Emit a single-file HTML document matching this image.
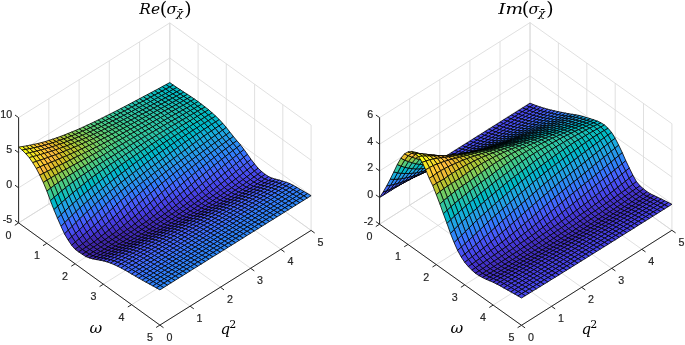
<!DOCTYPE html>
<html><head><meta charset="utf-8"><title>sigma chi</title>
<style>html,body{margin:0;padding:0;background:#fff}svg{display:block}</style></head>
<body><svg width="685" height="345" viewBox="0 0 685 345">
<rect width="685" height="345" fill="#fff"/>
<path d="M18.6 222.9L169.8 128.2 M18.6 222.9L159.9 325.1 M46.9 243.3L198.1 148.6 M48.8 204.0L190.1 306.2 M75.1 263.8L226.3 169.1 M79.1 185.0L220.4 287.2 M103.4 284.2L254.6 189.5 M109.3 166.1L250.6 268.3 M131.6 304.7L282.8 210.0 M139.6 147.1L280.9 249.3 M159.9 325.1L311.1 230.4 M169.8 128.2L311.1 230.4 M18.6 222.9L18.6 117.6 M169.8 128.2L169.8 22.9 M48.8 204.0L48.8 98.7 M198.1 148.6L198.1 43.3 M79.1 185.0L79.1 79.7 M226.3 169.1L226.3 63.8 M109.3 166.1L109.3 60.8 M254.6 189.5L254.6 84.2 M139.6 147.1L139.6 41.8 M282.8 210.0L282.8 104.7 M169.8 128.2L169.8 22.9 M311.1 230.4L311.1 125.1 M18.6 222.9L169.8 128.2 M169.8 128.2L311.1 230.4 M18.6 187.8L169.8 93.1 M169.8 93.1L311.1 195.3 M18.6 152.7L169.8 58.0 M169.8 58.0L311.1 160.2 M18.6 117.6L169.8 22.9 M169.8 22.9L311.1 125.1" fill="none" stroke="#d8d8d8" stroke-width="0.8"/>
<g stroke="#000" stroke-width="0.8" stroke-linejoin="round">
<path d="M166.0 84.6L169.8 82.6L173.3 85.1L169.6 87.1z" fill="#01b8ca"/>
<path d="M169.6 87.1L173.3 85.1L176.9 87.5L173.1 89.5z" fill="#02bac3"/>
<path d="M162.2 86.6L166.0 84.6L169.6 87.1L165.8 89.1z" fill="#02bac3"/>
<path d="M173.1 89.5L176.9 87.5L180.4 89.8L176.6 91.9z" fill="#02bac3"/>
<path d="M165.8 89.1L169.6 87.1L173.1 89.5L169.3 91.6z" fill="#02bac3"/>
<path d="M158.5 88.7L162.2 86.6L165.8 89.1L162.0 91.2z" fill="#02bac3"/>
<path d="M176.6 91.9L180.4 89.8L183.9 92.1L180.2 94.1z" fill="#02bac3"/>
<path d="M169.3 91.6L173.1 89.5L176.6 91.9L172.8 93.9z" fill="#02bac3"/>
<path d="M162.0 91.2L165.8 89.1L169.3 91.6L165.5 93.6z" fill="#02bac3"/>
<path d="M154.7 90.7L158.5 88.7L162.0 91.2L158.2 93.2z" fill="#0bbdbd"/>
<path d="M180.2 94.1L183.9 92.1L187.5 94.4L183.7 96.4z" fill="#02bac3"/>
<path d="M172.8 93.9L176.6 91.9L180.2 94.1L176.4 96.2z" fill="#02bac3"/>
<path d="M165.5 93.6L169.3 91.6L172.8 93.9L169.1 95.9z" fill="#02bac3"/>
<path d="M158.2 93.2L162.0 91.2L165.5 93.6L161.7 95.6z" fill="#0bbdbd"/>
<path d="M150.9 92.7L154.7 90.7L158.2 93.2L154.4 95.2z" fill="#0bbdbd"/>
<path d="M183.7 96.4L187.5 94.4L191.0 96.7L187.2 98.7z" fill="#0bbdbd"/>
<path d="M176.4 96.2L180.2 94.1L183.7 96.4L179.9 98.4z" fill="#0bbdbd"/>
<path d="M169.1 95.9L172.8 93.9L176.4 96.2L172.6 98.2z" fill="#0bbdbd"/>
<path d="M161.7 95.6L165.5 93.6L169.1 95.9L165.3 97.9z" fill="#0bbdbd"/>
<path d="M154.4 95.2L158.2 93.2L161.7 95.6L158.0 97.6z" fill="#0bbdbd"/>
<path d="M147.1 94.7L150.9 92.7L154.4 95.2L150.7 97.2z" fill="#0bbdbd"/>
<path d="M187.2 98.7L191.0 96.7L194.5 99.1L190.7 101.1z" fill="#0bbdbd"/>
<path d="M179.9 98.4L183.7 96.4L187.2 98.7L183.4 100.8z" fill="#0bbdbd"/>
<path d="M172.6 98.2L176.4 96.2L179.9 98.4L176.1 100.5z" fill="#0bbdbd"/>
<path d="M165.3 97.9L169.1 95.9L172.6 98.2L168.8 100.2z" fill="#0bbdbd"/>
<path d="M158.0 97.6L161.7 95.6L165.3 97.9L161.5 99.9z" fill="#0bbdbd"/>
<path d="M150.7 97.2L154.4 95.2L158.0 97.6L154.2 99.6z" fill="#0bbdbd"/>
<path d="M143.3 96.7L147.1 94.7L150.7 97.2L146.9 99.2z" fill="#19bfb6"/>
<path d="M190.7 101.1L194.5 99.1L198.1 101.6L194.3 103.7z" fill="#0bbdbd"/>
<path d="M183.4 100.8L187.2 98.7L190.7 101.1L187.0 103.2z" fill="#0bbdbd"/>
<path d="M176.1 100.5L179.9 98.4L183.4 100.8L179.7 102.8z" fill="#0bbdbd"/>
<path d="M168.8 100.2L172.6 98.2L176.1 100.5L172.3 102.5z" fill="#0bbdbd"/>
<path d="M161.5 99.9L165.3 97.9L168.8 100.2L165.0 102.2z" fill="#0bbdbd"/>
<path d="M154.2 99.6L158.0 97.6L161.5 99.9L157.7 101.9z" fill="#19bfb6"/>
<path d="M146.9 99.2L150.7 97.2L154.2 99.6L150.4 101.6z" fill="#19bfb6"/>
<path d="M139.6 98.7L143.3 96.7L146.9 99.2L143.1 101.2z" fill="#19bfb6"/>
<path d="M194.3 103.7L198.1 101.6L201.6 104.3L197.8 106.4z" fill="#0bbdbd"/>
<path d="M187.0 103.2L190.7 101.1L194.3 103.7L190.5 105.8z" fill="#0bbdbd"/>
<path d="M179.7 102.8L183.4 100.8L187.0 103.2L183.2 105.3z" fill="#0bbdbd"/>
<path d="M172.3 102.5L176.1 100.5L179.7 102.8L175.9 104.8z" fill="#19bfb6"/>
<path d="M165.0 102.2L168.8 100.2L172.3 102.5L168.6 104.5z" fill="#19bfb6"/>
<path d="M157.7 101.9L161.5 99.9L165.0 102.2L161.2 104.2z" fill="#19bfb6"/>
<path d="M150.4 101.6L154.2 99.6L157.7 101.9L153.9 103.9z" fill="#19bfb6"/>
<path d="M143.1 101.2L146.9 99.2L150.4 101.6L146.6 103.6z" fill="#19bfb6"/>
<path d="M135.8 100.7L139.6 98.7L143.1 101.2L139.3 103.2z" fill="#24c1ae"/>
<path d="M197.8 106.4L201.6 104.3L205.1 107.0L201.3 109.1z" fill="#0bbdbd"/>
<path d="M190.5 105.8L194.3 103.7L197.8 106.4L194.0 108.5z" fill="#0bbdbd"/>
<path d="M183.2 105.3L187.0 103.2L190.5 105.8L186.7 107.9z" fill="#19bfb6"/>
<path d="M175.9 104.8L179.7 102.8L183.2 105.3L179.4 107.3z" fill="#19bfb6"/>
<path d="M168.6 104.5L172.3 102.5L175.9 104.8L172.1 106.9z" fill="#19bfb6"/>
<path d="M161.2 104.2L165.0 102.2L168.6 104.5L164.8 106.5z" fill="#19bfb6"/>
<path d="M153.9 103.9L157.7 101.9L161.2 104.2L157.5 106.2z" fill="#19bfb6"/>
<path d="M146.6 103.6L150.4 101.6L153.9 103.9L150.2 105.9z" fill="#19bfb6"/>
<path d="M139.3 103.2L143.1 101.2L146.6 103.6L142.8 105.6z" fill="#24c1ae"/>
<path d="M132.0 102.7L135.8 100.7L139.3 103.2L135.5 105.2z" fill="#24c1ae"/>
<path d="M201.3 109.1L205.1 107.0L208.7 109.8L204.9 112.0z" fill="#0bbdbd"/>
<path d="M194.0 108.5L197.8 106.4L201.3 109.1L197.6 111.2z" fill="#0bbdbd"/>
<path d="M186.7 107.9L190.5 105.8L194.0 108.5L190.3 110.6z" fill="#0bbdbd"/>
<path d="M179.4 107.3L183.2 105.3L186.7 107.9L182.9 110.0z" fill="#19bfb6"/>
<path d="M172.1 106.9L175.9 104.8L179.4 107.3L175.6 109.4z" fill="#19bfb6"/>
<path d="M164.8 106.5L168.6 104.5L172.1 106.9L168.3 108.9z" fill="#19bfb6"/>
<path d="M157.5 106.2L161.2 104.2L164.8 106.5L161.0 108.5z" fill="#19bfb6"/>
<path d="M150.2 105.9L153.9 103.9L157.5 106.2L153.7 108.2z" fill="#24c1ae"/>
<path d="M142.8 105.6L146.6 103.6L150.2 105.9L146.4 107.9z" fill="#24c1ae"/>
<path d="M135.5 105.2L139.3 103.2L142.8 105.6L139.1 107.5z" fill="#24c1ae"/>
<path d="M128.2 104.7L132.0 102.7L135.5 105.2L131.8 107.1z" fill="#24c1ae"/>
<path d="M204.9 112.0L208.7 109.8L212.2 112.9L208.4 115.1z" fill="#02bac3"/>
<path d="M197.6 111.2L201.3 109.1L204.9 112.0L201.1 114.2z" fill="#0bbdbd"/>
<path d="M190.3 110.6L194.0 108.5L197.6 111.2L193.8 113.4z" fill="#0bbdbd"/>
<path d="M182.9 110.0L186.7 107.9L190.3 110.6L186.5 112.7z" fill="#19bfb6"/>
<path d="M175.6 109.4L179.4 107.3L182.9 110.0L179.2 112.1z" fill="#19bfb6"/>
<path d="M168.3 108.9L172.1 106.9L175.6 109.4L171.8 111.4z" fill="#24c1ae"/>
<path d="M161.0 108.5L164.8 106.5L168.3 108.9L164.5 110.9z" fill="#24c1ae"/>
<path d="M153.7 108.2L157.5 106.2L161.0 108.5L157.2 110.5z" fill="#24c1ae"/>
<path d="M146.4 107.9L150.2 105.9L153.7 108.2L149.9 110.2z" fill="#24c1ae"/>
<path d="M139.1 107.5L142.8 105.6L146.4 107.9L142.6 109.9z" fill="#24c1ae"/>
<path d="M131.8 107.1L135.5 105.2L139.1 107.5L135.3 109.5z" fill="#24c1ae"/>
<path d="M124.4 106.7L128.2 104.7L131.8 107.1L128.0 109.1z" fill="#2cc4a7"/>
<path d="M208.4 115.1L212.2 112.9L215.7 116.1L211.9 118.4z" fill="#02bac3"/>
<path d="M201.1 114.2L204.9 112.0L208.4 115.1L204.6 117.4z" fill="#02bac3"/>
<path d="M193.8 113.4L197.6 111.2L201.1 114.2L197.3 116.4z" fill="#0bbdbd"/>
<path d="M186.5 112.7L190.3 110.6L193.8 113.4L190.0 115.5z" fill="#19bfb6"/>
<path d="M179.2 112.1L182.9 110.0L186.5 112.7L182.7 114.8z" fill="#19bfb6"/>
<path d="M171.8 111.4L175.6 109.4L179.2 112.1L175.4 114.1z" fill="#24c1ae"/>
<path d="M164.5 110.9L168.3 108.9L171.8 111.4L168.1 113.5z" fill="#24c1ae"/>
<path d="M157.2 110.5L161.0 108.5L164.5 110.9L160.8 112.9z" fill="#24c1ae"/>
<path d="M149.9 110.2L153.7 108.2L157.2 110.5L153.4 112.5z" fill="#24c1ae"/>
<path d="M142.6 109.9L146.4 107.9L149.9 110.2L146.1 112.2z" fill="#24c1ae"/>
<path d="M135.3 109.5L139.1 107.5L142.6 109.9L138.8 111.8z" fill="#2cc4a7"/>
<path d="M128.0 109.1L131.8 107.1L135.3 109.5L131.5 111.5z" fill="#2cc4a7"/>
<path d="M120.7 108.6L124.4 106.7L128.0 109.1L124.2 111.1z" fill="#2cc4a7"/>
<path d="M211.9 118.4L215.7 116.1L219.3 119.6L215.5 122.0z" fill="#01b8ca"/>
<path d="M204.6 117.4L208.4 115.1L211.9 118.4L208.2 120.7z" fill="#02bac3"/>
<path d="M197.3 116.4L201.1 114.2L204.6 117.4L200.9 119.7z" fill="#0bbdbd"/>
<path d="M190.0 115.5L193.8 113.4L197.3 116.4L193.5 118.6z" fill="#0bbdbd"/>
<path d="M182.7 114.8L186.5 112.7L190.0 115.5L186.2 117.7z" fill="#19bfb6"/>
<path d="M175.4 114.1L179.2 112.1L182.7 114.8L178.9 117.0z" fill="#19bfb6"/>
<path d="M168.1 113.5L171.8 111.4L175.4 114.1L171.6 116.2z" fill="#24c1ae"/>
<path d="M160.8 112.9L164.5 110.9L168.1 113.5L164.3 115.6z" fill="#24c1ae"/>
<path d="M153.4 112.5L157.2 110.5L160.8 112.9L157.0 115.0z" fill="#2cc4a7"/>
<path d="M146.1 112.2L149.9 110.2L153.4 112.5L149.7 114.5z" fill="#2cc4a7"/>
<path d="M138.8 111.8L142.6 109.9L146.1 112.2L142.3 114.1z" fill="#2cc4a7"/>
<path d="M131.5 111.5L135.3 109.5L138.8 111.8L135.0 113.8z" fill="#2cc4a7"/>
<path d="M124.2 111.1L128.0 109.1L131.5 111.5L127.7 113.4z" fill="#2cc4a7"/>
<path d="M116.9 110.6L120.7 108.6L124.2 111.1L120.4 113.0z" fill="#31c69f"/>
<path d="M215.5 122.0L219.3 119.6L222.8 123.4L219.0 125.9z" fill="#08b5d0"/>
<path d="M208.2 120.7L211.9 118.4L215.5 122.0L211.7 124.4z" fill="#01b8ca"/>
<path d="M200.9 119.7L204.6 117.4L208.2 120.7L204.4 123.1z" fill="#02bac3"/>
<path d="M193.5 118.6L197.3 116.4L200.9 119.7L197.1 121.9z" fill="#0bbdbd"/>
<path d="M186.2 117.7L190.0 115.5L193.5 118.6L189.8 120.9z" fill="#19bfb6"/>
<path d="M178.9 117.0L182.7 114.8L186.2 117.7L182.4 119.9z" fill="#19bfb6"/>
<path d="M171.6 116.2L175.4 114.1L178.9 117.0L175.1 119.1z" fill="#24c1ae"/>
<path d="M164.3 115.6L168.1 113.5L171.6 116.2L167.8 118.3z" fill="#24c1ae"/>
<path d="M157.0 115.0L160.8 112.9L164.3 115.6L160.5 117.6z" fill="#2cc4a7"/>
<path d="M149.7 114.5L153.4 112.5L157.0 115.0L153.2 117.0z" fill="#2cc4a7"/>
<path d="M142.3 114.1L146.1 112.2L149.7 114.5L145.9 116.5z" fill="#2cc4a7"/>
<path d="M135.0 113.8L138.8 111.8L142.3 114.1L138.6 116.1z" fill="#2cc4a7"/>
<path d="M127.7 113.4L131.5 111.5L135.0 113.8L131.3 115.7z" fill="#31c69f"/>
<path d="M120.4 113.0L124.2 111.1L127.7 113.4L123.9 115.3z" fill="#31c69f"/>
<path d="M113.1 112.5L116.9 110.6L120.4 113.0L116.6 114.9z" fill="#31c69f"/>
<path d="M219.0 125.9L222.8 123.4L226.3 127.5L222.5 130.2z" fill="#18addb"/>
<path d="M211.7 124.4L215.5 122.0L219.0 125.9L215.2 128.4z" fill="#08b5d0"/>
<path d="M204.4 123.1L208.2 120.7L211.7 124.4L207.9 126.9z" fill="#01b8ca"/>
<path d="M197.1 121.9L200.9 119.7L204.4 123.1L200.6 125.5z" fill="#02bac3"/>
<path d="M189.8 120.9L193.5 118.6L197.1 121.9L193.3 124.2z" fill="#0bbdbd"/>
<path d="M182.4 119.9L186.2 117.7L189.8 120.9L186.0 123.1z" fill="#19bfb6"/>
<path d="M175.1 119.1L178.9 117.0L182.4 119.9L178.7 122.1z" fill="#19bfb6"/>
<path d="M167.8 118.3L171.6 116.2L175.1 119.1L171.4 121.2z" fill="#24c1ae"/>
<path d="M160.5 117.6L164.3 115.6L167.8 118.3L164.0 120.4z" fill="#2cc4a7"/>
<path d="M153.2 117.0L157.0 115.0L160.5 117.6L156.7 119.7z" fill="#2cc4a7"/>
<path d="M145.9 116.5L149.7 114.5L153.2 117.0L149.4 119.0z" fill="#2cc4a7"/>
<path d="M138.6 116.1L142.3 114.1L145.9 116.5L142.1 118.5z" fill="#31c69f"/>
<path d="M131.3 115.7L135.0 113.8L138.6 116.1L134.8 118.1z" fill="#31c69f"/>
<path d="M123.9 115.3L127.7 113.4L131.3 115.7L127.5 117.7z" fill="#31c69f"/>
<path d="M116.6 114.9L120.4 113.0L123.9 115.3L120.2 117.3z" fill="#31c69f"/>
<path d="M109.3 114.4L113.1 112.5L116.6 114.9L112.9 116.8z" fill="#37c897"/>
<path d="M222.5 130.2L226.3 127.5L229.9 132.1L226.1 134.8z" fill="#1ca9df"/>
<path d="M215.2 128.4L219.0 125.9L222.5 130.2L218.8 132.9z" fill="#18addb"/>
<path d="M207.9 126.9L211.7 124.4L215.2 128.4L211.4 131.0z" fill="#08b5d0"/>
<path d="M200.6 125.5L204.4 123.1L207.9 126.9L204.1 129.3z" fill="#01b8ca"/>
<path d="M193.3 124.2L197.1 121.9L200.6 125.5L196.8 127.8z" fill="#02bac3"/>
<path d="M186.0 123.1L189.8 120.9L193.3 124.2L189.5 126.6z" fill="#0bbdbd"/>
<path d="M178.7 122.1L182.4 119.9L186.0 123.1L182.2 125.4z" fill="#19bfb6"/>
<path d="M171.4 121.2L175.1 119.1L178.7 122.1L174.9 124.3z" fill="#24c1ae"/>
<path d="M164.0 120.4L167.8 118.3L171.4 121.2L167.6 123.3z" fill="#24c1ae"/>
<path d="M156.7 119.7L160.5 117.6L164.0 120.4L160.3 122.5z" fill="#2cc4a7"/>
<path d="M149.4 119.0L153.2 117.0L156.7 119.7L152.9 121.8z" fill="#2cc4a7"/>
<path d="M142.1 118.5L145.9 116.5L149.4 119.0L145.6 121.1z" fill="#31c69f"/>
<path d="M134.8 118.1L138.6 116.1L142.1 118.5L138.3 120.5z" fill="#31c69f"/>
<path d="M127.5 117.7L131.3 115.7L134.8 118.1L131.0 120.0z" fill="#31c69f"/>
<path d="M120.2 117.3L123.9 115.3L127.5 117.7L123.7 119.6z" fill="#31c69f"/>
<path d="M112.9 116.8L116.6 114.9L120.2 117.3L116.4 119.2z" fill="#37c897"/>
<path d="M105.5 116.3L109.3 114.4L112.9 116.8L109.1 118.7z" fill="#37c897"/>
<path d="M226.1 134.8L229.9 132.1L233.4 136.5L229.6 139.2z" fill="#23a0e5"/>
<path d="M218.8 132.9L222.5 130.2L226.1 134.8L222.3 137.5z" fill="#20a5e3"/>
<path d="M211.4 131.0L215.2 128.4L218.8 132.9L215.0 135.6z" fill="#18addb"/>
<path d="M204.1 129.3L207.9 126.9L211.4 131.0L207.7 133.5z" fill="#08b5d0"/>
<path d="M196.8 127.8L200.6 125.5L204.1 129.3L200.4 131.8z" fill="#01b8ca"/>
<path d="M189.5 126.6L193.3 124.2L196.8 127.8L193.0 130.3z" fill="#02bac3"/>
<path d="M182.2 125.4L186.0 123.1L189.5 126.6L185.7 128.9z" fill="#0bbdbd"/>
<path d="M174.9 124.3L178.7 122.1L182.2 125.4L178.4 127.6z" fill="#19bfb6"/>
<path d="M167.6 123.3L171.4 121.2L174.9 124.3L171.1 126.5z" fill="#24c1ae"/>
<path d="M160.3 122.5L164.0 120.4L167.6 123.3L163.8 125.5z" fill="#2cc4a7"/>
<path d="M152.9 121.8L156.7 119.7L160.3 122.5L156.5 124.7z" fill="#2cc4a7"/>
<path d="M145.6 121.1L149.4 119.0L152.9 121.8L149.2 123.9z" fill="#31c69f"/>
<path d="M138.3 120.5L142.1 118.5L145.6 121.1L141.9 123.1z" fill="#31c69f"/>
<path d="M131.0 120.0L134.8 118.1L138.3 120.5L134.5 122.5z" fill="#31c69f"/>
<path d="M123.7 119.6L127.5 117.7L131.0 120.0L127.2 122.0z" fill="#37c897"/>
<path d="M116.4 119.2L120.2 117.3L123.7 119.6L119.9 121.5z" fill="#37c897"/>
<path d="M109.1 118.7L112.9 116.8L116.4 119.2L112.6 121.0z" fill="#37c897"/>
<path d="M101.8 118.2L105.5 116.3L109.1 118.7L105.3 120.6z" fill="#3fca8e"/>
<path d="M229.6 139.2L233.4 136.5L236.9 140.7L233.1 143.4z" fill="#2797eb"/>
<path d="M222.3 137.5L226.1 134.8L229.6 139.2L225.8 141.9z" fill="#259be8"/>
<path d="M215.0 135.6L218.8 132.9L222.3 137.5L218.5 140.2z" fill="#20a5e3"/>
<path d="M207.7 133.5L211.4 131.0L215.0 135.6L211.2 138.3z" fill="#18addb"/>
<path d="M200.4 131.8L204.1 129.3L207.7 133.5L203.9 136.2z" fill="#12b1d6"/>
<path d="M193.0 130.3L196.8 127.8L200.4 131.8L196.6 134.3z" fill="#01b8ca"/>
<path d="M185.7 128.9L189.5 126.6L193.0 130.3L189.3 132.7z" fill="#02bac3"/>
<path d="M178.4 127.6L182.2 125.4L185.7 128.9L181.9 131.2z" fill="#0bbdbd"/>
<path d="M171.1 126.5L174.9 124.3L178.4 127.6L174.6 130.0z" fill="#19bfb6"/>
<path d="M163.8 125.5L167.6 123.3L171.1 126.5L167.3 128.7z" fill="#24c1ae"/>
<path d="M156.5 124.7L160.3 122.5L163.8 125.5L160.0 127.7z" fill="#2cc4a7"/>
<path d="M149.2 123.9L152.9 121.8L156.5 124.7L152.7 126.8z" fill="#2cc4a7"/>
<path d="M141.9 123.1L145.6 121.1L149.2 123.9L145.4 125.9z" fill="#31c69f"/>
<path d="M134.5 122.5L138.3 120.5L141.9 123.1L138.1 125.1z" fill="#37c897"/>
<path d="M127.2 122.0L131.0 120.0L134.5 122.5L130.8 124.5z" fill="#37c897"/>
<path d="M119.9 121.5L123.7 119.6L127.2 122.0L123.4 123.9z" fill="#37c897"/>
<path d="M112.6 121.0L116.4 119.2L119.9 121.5L116.1 123.4z" fill="#37c897"/>
<path d="M105.3 120.6L109.1 118.7L112.6 121.0L108.8 122.9z" fill="#3fca8e"/>
<path d="M98.0 120.0L101.8 118.2L105.3 120.6L101.5 122.4z" fill="#3fca8e"/>
<path d="M233.1 143.4L236.9 140.7L240.5 144.9L236.7 147.8z" fill="#2d8cf3"/>
<path d="M225.8 141.9L229.6 139.2L233.1 143.4L229.4 146.2z" fill="#2b91ef"/>
<path d="M218.5 140.2L222.3 137.5L225.8 141.9L222.0 144.6z" fill="#259be8"/>
<path d="M211.2 138.3L215.0 135.6L218.5 140.2L214.7 142.9z" fill="#20a5e3"/>
<path d="M203.9 136.2L207.7 133.5L211.2 138.3L207.4 141.1z" fill="#18addb"/>
<path d="M196.6 134.3L200.4 131.8L203.9 136.2L200.1 138.8z" fill="#12b1d6"/>
<path d="M189.3 132.7L193.0 130.3L196.6 134.3L192.8 136.9z" fill="#01b8ca"/>
<path d="M181.9 131.2L185.7 128.9L189.3 132.7L185.5 135.2z" fill="#02bac3"/>
<path d="M174.6 130.0L178.4 127.6L181.9 131.2L178.2 133.6z" fill="#0bbdbd"/>
<path d="M167.3 128.7L171.1 126.5L174.6 130.0L170.9 132.3z" fill="#19bfb6"/>
<path d="M160.0 127.7L163.8 125.5L167.3 128.7L163.5 131.0z" fill="#24c1ae"/>
<path d="M152.7 126.8L156.5 124.7L160.0 127.7L156.2 129.9z" fill="#2cc4a7"/>
<path d="M145.4 125.9L149.2 123.9L152.7 126.8L148.9 128.9z" fill="#31c69f"/>
<path d="M138.1 125.1L141.9 123.1L145.4 125.9L141.6 128.0z" fill="#31c69f"/>
<path d="M130.8 124.5L134.5 122.5L138.1 125.1L134.3 127.2z" fill="#37c897"/>
<path d="M123.4 123.9L127.2 122.0L130.8 124.5L127.0 126.4z" fill="#37c897"/>
<path d="M116.1 123.4L119.9 121.5L123.4 123.9L119.7 125.8z" fill="#3fca8e"/>
<path d="M108.8 122.9L112.6 121.0L116.1 123.4L112.4 125.3z" fill="#3fca8e"/>
<path d="M101.5 122.4L105.3 120.6L108.8 122.9L105.0 124.8z" fill="#3fca8e"/>
<path d="M94.2 121.9L98.0 120.0L101.5 122.4L97.7 124.2z" fill="#4acb84"/>
<path d="M236.7 147.8L240.5 144.9L244.0 149.5L240.2 152.5z" fill="#2f81fa"/>
<path d="M229.4 146.2L233.1 143.4L236.7 147.8L232.9 150.6z" fill="#2d8cf3"/>
<path d="M222.0 144.6L225.8 141.9L229.4 146.2L225.6 148.9z" fill="#2b91ef"/>
<path d="M214.7 142.9L218.5 140.2L222.0 144.6L218.3 147.3z" fill="#259be8"/>
<path d="M207.4 141.1L211.2 138.3L214.7 142.9L211.0 145.6z" fill="#23a0e5"/>
<path d="M200.1 138.8L203.9 136.2L207.4 141.1L203.6 143.8z" fill="#1ca9df"/>
<path d="M192.8 136.9L196.6 134.3L200.1 138.8L196.3 141.6z" fill="#12b1d6"/>
<path d="M185.5 135.2L189.3 132.7L192.8 136.9L189.0 139.5z" fill="#01b8ca"/>
<path d="M178.2 133.6L181.9 131.2L185.5 135.2L181.7 137.7z" fill="#02bac3"/>
<path d="M170.9 132.3L174.6 130.0L178.2 133.6L174.4 136.0z" fill="#0bbdbd"/>
<path d="M163.5 131.0L167.3 128.7L170.9 132.3L167.1 134.6z" fill="#19bfb6"/>
<path d="M156.2 129.9L160.0 127.7L163.5 131.0L159.8 133.3z" fill="#2cc4a7"/>
<path d="M148.9 128.9L152.7 126.8L156.2 129.9L152.5 132.1z" fill="#2cc4a7"/>
<path d="M141.6 128.0L145.4 125.9L148.9 128.9L145.1 131.0z" fill="#31c69f"/>
<path d="M134.3 127.2L138.1 125.1L141.6 128.0L137.8 130.1z" fill="#37c897"/>
<path d="M127.0 126.4L130.8 124.5L134.3 127.2L130.5 129.2z" fill="#37c897"/>
<path d="M119.7 125.8L123.4 123.9L127.0 126.4L123.2 128.4z" fill="#3fca8e"/>
<path d="M112.4 125.3L116.1 123.4L119.7 125.8L115.9 127.7z" fill="#3fca8e"/>
<path d="M105.0 124.8L108.8 122.9L112.4 125.3L108.6 127.1z" fill="#4acb84"/>
<path d="M97.7 124.2L101.5 122.4L105.0 124.8L101.3 126.6z" fill="#4acb84"/>
<path d="M90.4 123.7L94.2 121.9L97.7 124.2L94.0 126.0z" fill="#4acb84"/>
<path d="M240.2 152.5L244.0 149.5L247.5 154.4L243.7 157.4z" fill="#3875fe"/>
<path d="M232.9 150.6L236.7 147.8L240.2 152.5L236.4 155.5z" fill="#2f81fa"/>
<path d="M225.6 148.9L229.4 146.2L232.9 150.6L229.1 153.5z" fill="#2e87f7"/>
<path d="M218.3 147.3L222.0 144.6L225.6 148.9L221.8 151.7z" fill="#2b91ef"/>
<path d="M211.0 145.6L214.7 142.9L218.3 147.3L214.5 150.1z" fill="#2797eb"/>
<path d="M203.6 143.8L207.4 141.1L211.0 145.6L207.2 148.4z" fill="#23a0e5"/>
<path d="M196.3 141.6L200.1 138.8L203.6 143.8L199.9 146.5z" fill="#1ca9df"/>
<path d="M189.0 139.5L192.8 136.9L196.3 141.6L192.5 144.4z" fill="#12b1d6"/>
<path d="M181.7 137.7L185.5 135.2L189.0 139.5L185.2 142.1z" fill="#01b8ca"/>
<path d="M174.4 136.0L178.2 133.6L181.7 137.7L177.9 140.2z" fill="#02bac3"/>
<path d="M167.1 134.6L170.9 132.3L174.4 136.0L170.6 138.5z" fill="#0bbdbd"/>
<path d="M159.8 133.3L163.5 131.0L167.1 134.6L163.3 137.0z" fill="#24c1ae"/>
<path d="M152.5 132.1L156.2 129.9L159.8 133.3L156.0 135.6z" fill="#2cc4a7"/>
<path d="M145.1 131.0L148.9 128.9L152.5 132.1L148.7 134.3z" fill="#31c69f"/>
<path d="M137.8 130.1L141.6 128.0L145.1 131.0L141.4 133.2z" fill="#31c69f"/>
<path d="M130.5 129.2L134.3 127.2L137.8 130.1L134.0 132.2z" fill="#37c897"/>
<path d="M123.2 128.4L127.0 126.4L130.5 129.2L126.7 131.2z" fill="#3fca8e"/>
<path d="M115.9 127.7L119.7 125.8L123.2 128.4L119.4 130.3z" fill="#3fca8e"/>
<path d="M108.6 127.1L112.4 125.3L115.9 127.7L112.1 129.6z" fill="#4acb84"/>
<path d="M101.3 126.6L105.0 124.8L108.6 127.1L104.8 129.0z" fill="#4acb84"/>
<path d="M94.0 126.0L97.7 124.2L101.3 126.6L97.5 128.4z" fill="#57cc7a"/>
<path d="M86.6 125.4L90.4 123.7L94.0 126.0L90.2 127.8z" fill="#57cc7a"/>
<path d="M243.7 157.4L247.5 154.4L251.0 159.3L247.3 162.4z" fill="#4269fe"/>
<path d="M236.4 155.5L240.2 152.5L243.7 157.4L240.0 160.5z" fill="#3875fe"/>
<path d="M229.1 153.5L232.9 150.6L236.4 155.5L232.6 158.5z" fill="#327cfc"/>
<path d="M221.8 151.7L225.6 148.9L229.1 153.5L225.3 156.5z" fill="#2e87f7"/>
<path d="M214.5 150.1L218.3 147.3L221.8 151.7L218.0 154.6z" fill="#2d8cf3"/>
<path d="M207.2 148.4L211.0 145.6L214.5 150.1L210.7 152.9z" fill="#2797eb"/>
<path d="M199.9 146.5L203.6 143.8L207.2 148.4L203.4 151.1z" fill="#259be8"/>
<path d="M192.5 144.4L196.3 141.6L199.9 146.5L196.1 149.3z" fill="#20a5e3"/>
<path d="M185.2 142.1L189.0 139.5L192.5 144.4L188.8 147.2z" fill="#12b1d6"/>
<path d="M177.9 140.2L181.7 137.7L185.2 142.1L181.5 144.8z" fill="#08b5d0"/>
<path d="M170.6 138.5L174.4 136.0L177.9 140.2L174.1 142.8z" fill="#02bac3"/>
<path d="M163.3 137.0L167.1 134.6L170.6 138.5L166.8 140.9z" fill="#0bbdbd"/>
<path d="M156.0 135.6L159.8 133.3L163.3 137.0L159.5 139.3z" fill="#24c1ae"/>
<path d="M148.7 134.3L152.5 132.1L156.0 135.6L152.2 137.9z" fill="#2cc4a7"/>
<path d="M141.4 133.2L145.1 131.0L148.7 134.3L144.9 136.5z" fill="#31c69f"/>
<path d="M134.0 132.2L137.8 130.1L141.4 133.2L137.6 135.3z" fill="#37c897"/>
<path d="M126.7 131.2L130.5 129.2L134.0 132.2L130.3 134.2z" fill="#3fca8e"/>
<path d="M119.4 130.3L123.2 128.4L126.7 131.2L123.0 133.2z" fill="#3fca8e"/>
<path d="M112.1 129.6L115.9 127.7L119.4 130.3L115.6 132.3z" fill="#4acb84"/>
<path d="M104.8 129.0L108.6 127.1L112.1 129.6L108.3 131.5z" fill="#4acb84"/>
<path d="M97.5 128.4L101.3 126.6L104.8 129.0L101.0 130.8z" fill="#57cc7a"/>
<path d="M90.2 127.8L94.0 126.0L97.5 128.4L93.7 130.2z" fill="#57cc7a"/>
<path d="M82.9 127.2L86.6 125.4L90.2 127.8L86.4 129.5z" fill="#64cd6f"/>
<path d="M247.3 162.4L251.0 159.3L254.6 164.0L250.8 167.0z" fill="#465efb"/>
<path d="M240.0 160.5L243.7 157.4L247.3 162.4L243.5 165.5z" fill="#4563fd"/>
<path d="M232.6 158.5L236.4 155.5L240.0 160.5L236.2 163.6z" fill="#3e6fff"/>
<path d="M225.3 156.5L229.1 153.5L232.6 158.5L228.9 161.5z" fill="#327cfc"/>
<path d="M218.0 154.6L221.8 151.7L225.3 156.5L221.6 159.4z" fill="#2f81fa"/>
<path d="M210.7 152.9L214.5 150.1L218.0 154.6L214.2 157.5z" fill="#2d8cf3"/>
<path d="M203.4 151.1L207.2 148.4L210.7 152.9L206.9 155.6z" fill="#2b91ef"/>
<path d="M196.1 149.3L199.9 146.5L203.4 151.1L199.6 153.9z" fill="#259be8"/>
<path d="M188.8 147.2L192.5 144.4L196.1 149.3L192.3 152.0z" fill="#20a5e3"/>
<path d="M181.5 144.8L185.2 142.1L188.8 147.2L185.0 150.0z" fill="#18addb"/>
<path d="M174.1 142.8L177.9 140.2L181.5 144.8L177.7 147.5z" fill="#08b5d0"/>
<path d="M166.8 140.9L170.6 138.5L174.1 142.8L170.4 145.4z" fill="#02bac3"/>
<path d="M159.5 139.3L163.3 137.0L166.8 140.9L163.1 143.4z" fill="#0bbdbd"/>
<path d="M152.2 137.9L156.0 135.6L159.5 139.3L155.7 141.7z" fill="#24c1ae"/>
<path d="M144.9 136.5L148.7 134.3L152.2 137.9L148.4 140.2z" fill="#2cc4a7"/>
<path d="M137.6 135.3L141.4 133.2L144.9 136.5L141.1 138.7z" fill="#31c69f"/>
<path d="M130.3 134.2L134.0 132.2L137.6 135.3L133.8 137.4z" fill="#37c897"/>
<path d="M123.0 133.2L126.7 131.2L130.3 134.2L126.5 136.3z" fill="#3fca8e"/>
<path d="M115.6 132.3L119.4 130.3L123.0 133.2L119.2 135.2z" fill="#4acb84"/>
<path d="M108.3 131.5L112.1 129.6L115.6 132.3L111.9 134.2z" fill="#4acb84"/>
<path d="M101.0 130.8L104.8 129.0L108.3 131.5L104.6 133.3z" fill="#57cc7a"/>
<path d="M93.7 130.2L97.5 128.4L101.0 130.8L97.2 132.6z" fill="#57cc7a"/>
<path d="M86.4 129.5L90.2 127.8L93.7 130.2L89.9 131.9z" fill="#64cd6f"/>
<path d="M79.1 128.9L82.9 127.2L86.4 129.5L82.6 131.2z" fill="#72cd64"/>
<path d="M250.8 167.0L254.6 164.0L258.1 168.2L254.3 171.1z" fill="#4852f4"/>
<path d="M243.5 165.5L247.3 162.4L250.8 167.0L247.0 170.0z" fill="#4758f8"/>
<path d="M236.2 163.6L240.0 160.5L243.5 165.5L239.7 168.6z" fill="#4563fd"/>
<path d="M228.9 161.5L232.6 158.5L236.2 163.6L232.4 166.7z" fill="#4269fe"/>
<path d="M221.6 159.4L225.3 156.5L228.9 161.5L225.1 164.6z" fill="#3875fe"/>
<path d="M214.2 157.5L218.0 154.6L221.6 159.4L217.8 162.5z" fill="#2f81fa"/>
<path d="M206.9 155.6L210.7 152.9L214.2 157.5L210.5 160.4z" fill="#2e87f7"/>
<path d="M199.6 153.9L203.4 151.1L206.9 155.6L203.1 158.5z" fill="#2b91ef"/>
<path d="M192.3 152.0L196.1 149.3L199.6 153.9L195.8 156.7z" fill="#259be8"/>
<path d="M185.0 150.0L188.8 147.2L192.3 152.0L188.5 154.8z" fill="#20a5e3"/>
<path d="M177.7 147.5L181.5 144.8L185.0 150.0L181.2 152.8z" fill="#18addb"/>
<path d="M170.4 145.4L174.1 142.8L177.7 147.5L173.9 150.4z" fill="#08b5d0"/>
<path d="M163.1 143.4L166.8 140.9L170.4 145.4L166.6 148.0z" fill="#02bac3"/>
<path d="M155.7 141.7L159.5 139.3L163.1 143.4L159.3 146.0z" fill="#0bbdbd"/>
<path d="M148.4 140.2L152.2 137.9L155.7 141.7L152.0 144.1z" fill="#24c1ae"/>
<path d="M141.1 138.7L144.9 136.5L148.4 140.2L144.6 142.5z" fill="#2cc4a7"/>
<path d="M133.8 137.4L137.6 135.3L141.1 138.7L137.3 141.0z" fill="#31c69f"/>
<path d="M126.5 136.3L130.3 134.2L133.8 137.4L130.0 139.6z" fill="#37c897"/>
<path d="M119.2 135.2L123.0 133.2L126.5 136.3L122.7 138.4z" fill="#3fca8e"/>
<path d="M111.9 134.2L115.6 132.3L119.2 135.2L115.4 137.2z" fill="#4acb84"/>
<path d="M104.6 133.3L108.3 131.5L111.9 134.2L108.1 136.1z" fill="#57cc7a"/>
<path d="M97.2 132.6L101.0 130.8L104.6 133.3L100.8 135.2z" fill="#64cd6f"/>
<path d="M89.9 131.9L93.7 130.2L97.2 132.6L93.5 134.4z" fill="#64cd6f"/>
<path d="M82.6 131.2L86.4 129.5L89.9 131.9L86.1 133.6z" fill="#72cd64"/>
<path d="M75.3 130.5L79.1 128.9L82.6 131.2L78.8 132.9z" fill="#72cd64"/>
<path d="M254.3 171.1L258.1 168.2L261.6 171.5L257.9 174.3z" fill="#4747eb"/>
<path d="M247.0 170.0L250.8 167.0L254.3 171.1L250.6 174.0z" fill="#484df0"/>
<path d="M239.7 168.6L243.5 165.5L247.0 170.0L243.2 173.1z" fill="#4852f4"/>
<path d="M232.4 166.7L236.2 163.6L239.7 168.6L235.9 171.6z" fill="#465efb"/>
<path d="M225.1 164.6L228.9 161.5L232.4 166.7L228.6 169.9z" fill="#4269fe"/>
<path d="M217.8 162.5L221.6 159.4L225.1 164.6L221.3 167.7z" fill="#3875fe"/>
<path d="M210.5 160.4L214.2 157.5L217.8 162.5L214.0 165.5z" fill="#327cfc"/>
<path d="M203.1 158.5L206.9 155.6L210.5 160.4L206.7 163.4z" fill="#2e87f7"/>
<path d="M195.8 156.7L199.6 153.9L203.1 158.5L199.4 161.3z" fill="#2b91ef"/>
<path d="M188.5 154.8L192.3 152.0L195.8 156.7L192.1 159.5z" fill="#2797eb"/>
<path d="M181.2 152.8L185.0 150.0L188.5 154.8L184.7 157.6z" fill="#23a0e5"/>
<path d="M173.9 150.4L177.7 147.5L181.2 152.8L177.4 155.6z" fill="#1ca9df"/>
<path d="M166.6 148.0L170.4 145.4L173.9 150.4L170.1 153.2z" fill="#08b5d0"/>
<path d="M159.3 146.0L163.1 143.4L166.6 148.0L162.8 150.7z" fill="#02bac3"/>
<path d="M152.0 144.1L155.7 141.7L159.3 146.0L155.5 148.5z" fill="#0bbdbd"/>
<path d="M144.6 142.5L148.4 140.2L152.0 144.1L148.2 146.6z" fill="#24c1ae"/>
<path d="M137.3 141.0L141.1 138.7L144.6 142.5L140.9 144.9z" fill="#2cc4a7"/>
<path d="M130.0 139.6L133.8 137.4L137.3 141.0L133.6 143.2z" fill="#37c897"/>
<path d="M122.7 138.4L126.5 136.3L130.0 139.6L126.2 141.7z" fill="#3fca8e"/>
<path d="M115.4 137.2L119.2 135.2L122.7 138.4L118.9 140.4z" fill="#4acb84"/>
<path d="M108.1 136.1L111.9 134.2L115.4 137.2L111.6 139.2z" fill="#57cc7a"/>
<path d="M100.8 135.2L104.6 133.3L108.1 136.1L104.3 138.0z" fill="#64cd6f"/>
<path d="M93.5 134.4L97.2 132.6L100.8 135.2L97.0 137.0z" fill="#64cd6f"/>
<path d="M86.1 133.6L89.9 131.9L93.5 134.4L89.7 136.1z" fill="#72cd64"/>
<path d="M78.8 132.9L82.6 131.2L86.1 133.6L82.4 135.3z" fill="#81cc59"/>
<path d="M71.5 132.1L75.3 130.5L78.8 132.9L75.1 134.5z" fill="#81cc59"/>
<path d="M257.9 174.3L261.6 171.5L265.2 174.4L261.4 177.0z" fill="#4747eb"/>
<path d="M250.6 174.0L254.3 171.1L257.9 174.3L254.1 177.0z" fill="#4747eb"/>
<path d="M243.2 173.1L247.0 170.0L250.6 174.0L246.8 176.8z" fill="#484df0"/>
<path d="M235.9 171.6L239.7 168.6L243.2 173.1L239.5 176.1z" fill="#4852f4"/>
<path d="M228.6 169.9L232.4 166.7L235.9 171.6L232.1 174.7z" fill="#4758f8"/>
<path d="M221.3 167.7L225.1 164.6L228.6 169.9L224.8 173.0z" fill="#4563fd"/>
<path d="M214.0 165.5L217.8 162.5L221.3 167.7L217.5 170.9z" fill="#3e6fff"/>
<path d="M206.7 163.4L210.5 160.4L214.0 165.5L210.2 168.7z" fill="#327cfc"/>
<path d="M199.4 161.3L203.1 158.5L206.7 163.4L202.9 166.4z" fill="#2e87f7"/>
<path d="M192.1 159.5L195.8 156.7L199.4 161.3L195.6 164.3z" fill="#2d8cf3"/>
<path d="M184.7 157.6L188.5 154.8L192.1 159.5L188.3 162.3z" fill="#2797eb"/>
<path d="M177.4 155.6L181.2 152.8L184.7 157.6L181.0 160.4z" fill="#23a0e5"/>
<path d="M170.1 153.2L173.9 150.4L177.4 155.6L173.6 158.4z" fill="#1ca9df"/>
<path d="M162.8 150.7L166.6 148.0L170.1 153.2L166.3 156.1z" fill="#12b1d6"/>
<path d="M155.5 148.5L159.3 146.0L162.8 150.7L159.0 153.4z" fill="#01b8ca"/>
<path d="M148.2 146.6L152.0 144.1L155.5 148.5L151.7 151.1z" fill="#0bbdbd"/>
<path d="M140.9 144.9L144.6 142.5L148.2 146.6L144.4 149.0z" fill="#24c1ae"/>
<path d="M133.6 143.2L137.3 141.0L140.9 144.9L137.1 147.2z" fill="#2cc4a7"/>
<path d="M126.2 141.7L130.0 139.6L133.6 143.2L129.8 145.5z" fill="#37c897"/>
<path d="M118.9 140.4L122.7 138.4L126.2 141.7L122.5 143.9z" fill="#3fca8e"/>
<path d="M111.6 139.2L115.4 137.2L118.9 140.4L115.1 142.5z" fill="#4acb84"/>
<path d="M104.3 138.0L108.1 136.1L111.6 139.2L107.8 141.2z" fill="#57cc7a"/>
<path d="M97.0 137.0L100.8 135.2L104.3 138.0L100.5 139.9z" fill="#64cd6f"/>
<path d="M89.7 136.1L93.5 134.4L97.0 137.0L93.2 138.8z" fill="#72cd64"/>
<path d="M82.4 135.3L86.1 133.6L89.7 136.1L85.9 137.8z" fill="#81cc59"/>
<path d="M75.1 134.5L78.8 132.9L82.4 135.3L78.6 136.9z" fill="#81cc59"/>
<path d="M67.7 133.6L71.5 132.1L75.1 134.5L71.3 136.0z" fill="#8fcb4e"/>
<path d="M261.4 177.0L265.2 174.4L268.7 176.6L264.9 179.1z" fill="#4747eb"/>
<path d="M254.1 177.0L257.9 174.3L261.4 177.0L257.6 179.6z" fill="#4741e5"/>
<path d="M246.8 176.8L250.6 174.0L254.1 177.0L250.3 179.7z" fill="#4747eb"/>
<path d="M239.5 176.1L243.2 173.1L246.8 176.8L243.0 179.6z" fill="#4747eb"/>
<path d="M232.1 174.7L235.9 171.6L239.5 176.1L235.7 179.0z" fill="#484df0"/>
<path d="M224.8 173.0L228.6 169.9L232.1 174.7L228.4 177.8z" fill="#4852f4"/>
<path d="M217.5 170.9L221.3 167.7L224.8 173.0L221.1 176.1z" fill="#465efb"/>
<path d="M210.2 168.7L214.0 165.5L217.5 170.9L213.7 174.1z" fill="#4269fe"/>
<path d="M202.9 166.4L206.7 163.4L210.2 168.7L206.4 171.8z" fill="#3875fe"/>
<path d="M195.6 164.3L199.4 161.3L202.9 166.4L199.1 169.5z" fill="#2f81fa"/>
<path d="M188.3 162.3L192.1 159.5L195.6 164.3L191.8 167.3z" fill="#2d8cf3"/>
<path d="M181.0 160.4L184.7 157.6L188.3 162.3L184.5 165.2z" fill="#2b91ef"/>
<path d="M173.6 158.4L177.4 155.6L181.0 160.4L177.2 163.3z" fill="#259be8"/>
<path d="M166.3 156.1L170.1 153.2L173.6 158.4L169.9 161.2z" fill="#20a5e3"/>
<path d="M159.0 153.4L162.8 150.7L166.3 156.1L162.6 158.9z" fill="#12b1d6"/>
<path d="M151.7 151.1L155.5 148.5L159.0 153.4L155.2 156.2z" fill="#01b8ca"/>
<path d="M144.4 149.0L148.2 146.6L151.7 151.1L147.9 153.7z" fill="#0bbdbd"/>
<path d="M137.1 147.2L140.9 144.9L144.4 149.0L140.6 151.5z" fill="#24c1ae"/>
<path d="M129.8 145.5L133.6 143.2L137.1 147.2L133.3 149.6z" fill="#2cc4a7"/>
<path d="M122.5 143.9L126.2 141.7L129.8 145.5L126.0 147.8z" fill="#37c897"/>
<path d="M115.1 142.5L118.9 140.4L122.5 143.9L118.7 146.1z" fill="#3fca8e"/>
<path d="M107.8 141.2L111.6 139.2L115.1 142.5L111.4 144.5z" fill="#57cc7a"/>
<path d="M100.5 139.9L104.3 138.0L107.8 141.2L104.1 143.1z" fill="#64cd6f"/>
<path d="M93.2 138.8L97.0 137.0L100.5 139.9L96.7 141.8z" fill="#72cd64"/>
<path d="M85.9 137.8L89.7 136.1L93.2 138.8L89.4 140.5z" fill="#81cc59"/>
<path d="M78.6 136.9L82.4 135.3L85.9 137.8L82.1 139.5z" fill="#8fcb4e"/>
<path d="M71.3 136.0L75.1 134.5L78.6 136.9L74.8 138.5z" fill="#8fcb4e"/>
<path d="M64.0 135.1L67.7 133.6L71.3 136.0L67.5 137.5z" fill="#9dc943"/>
<path d="M264.9 179.1L268.7 176.6L272.2 178.2L268.5 180.6z" fill="#4747eb"/>
<path d="M257.6 179.6L261.4 177.0L264.9 179.1L261.2 181.5z" fill="#4741e5"/>
<path d="M250.3 179.7L254.1 177.0L257.6 179.6L253.8 182.2z" fill="#4741e5"/>
<path d="M243.0 179.6L246.8 176.8L250.3 179.7L246.5 182.4z" fill="#4741e5"/>
<path d="M235.7 179.0L239.5 176.1L243.0 179.6L239.2 182.3z" fill="#4741e5"/>
<path d="M228.4 177.8L232.1 174.7L235.7 179.0L231.9 181.9z" fill="#4747eb"/>
<path d="M221.1 176.1L224.8 173.0L228.4 177.8L224.6 180.8z" fill="#4852f4"/>
<path d="M213.7 174.1L217.5 170.9L221.1 176.1L217.3 179.2z" fill="#4758f8"/>
<path d="M206.4 171.8L210.2 168.7L213.7 174.1L210.0 177.3z" fill="#4563fd"/>
<path d="M199.1 169.5L202.9 166.4L206.4 171.8L202.7 175.0z" fill="#3e6fff"/>
<path d="M191.8 167.3L195.6 164.3L199.1 169.5L195.3 172.6z" fill="#327cfc"/>
<path d="M184.5 165.2L188.3 162.3L191.8 167.3L188.0 170.3z" fill="#2e87f7"/>
<path d="M177.2 163.3L181.0 160.4L184.5 165.2L180.7 168.1z" fill="#2b91ef"/>
<path d="M169.9 161.2L173.6 158.4L177.2 163.3L173.4 166.1z" fill="#259be8"/>
<path d="M162.6 158.9L166.3 156.1L169.9 161.2L166.1 164.0z" fill="#20a5e3"/>
<path d="M155.2 156.2L159.0 153.4L162.6 158.9L158.8 161.7z" fill="#12b1d6"/>
<path d="M147.9 153.7L151.7 151.1L155.2 156.2L151.5 159.0z" fill="#01b8ca"/>
<path d="M140.6 151.5L144.4 149.0L147.9 153.7L144.2 156.4z" fill="#0bbdbd"/>
<path d="M133.3 149.6L137.1 147.2L140.6 151.5L136.8 154.1z" fill="#24c1ae"/>
<path d="M126.0 147.8L129.8 145.5L133.3 149.6L129.5 152.0z" fill="#31c69f"/>
<path d="M118.7 146.1L122.5 143.9L126.0 147.8L122.2 150.1z" fill="#37c897"/>
<path d="M111.4 144.5L115.1 142.5L118.7 146.1L114.9 148.2z" fill="#4acb84"/>
<path d="M104.1 143.1L107.8 141.2L111.4 144.5L107.6 146.5z" fill="#57cc7a"/>
<path d="M96.7 141.8L100.5 139.9L104.1 143.1L100.3 145.1z" fill="#64cd6f"/>
<path d="M89.4 140.5L93.2 138.8L96.7 141.8L93.0 143.6z" fill="#81cc59"/>
<path d="M82.1 139.5L85.9 137.8L89.4 140.5L85.7 142.2z" fill="#8fcb4e"/>
<path d="M74.8 138.5L78.6 136.9L82.1 139.5L78.3 141.1z" fill="#8fcb4e"/>
<path d="M67.5 137.5L71.3 136.0L74.8 138.5L71.0 140.0z" fill="#9dc943"/>
<path d="M60.2 136.5L64.0 135.1L67.5 137.5L63.7 138.9z" fill="#abc739"/>
<path d="M268.5 180.6L272.2 178.2L275.8 179.2L272.0 181.4z" fill="#484df0"/>
<path d="M261.2 181.5L264.9 179.1L268.5 180.6L264.7 182.9z" fill="#4747eb"/>
<path d="M253.8 182.2L257.6 179.6L261.2 181.5L257.4 183.9z" fill="#4741e5"/>
<path d="M246.5 182.4L250.3 179.7L253.8 182.2L250.1 184.7z" fill="#4741e5"/>
<path d="M239.2 182.3L243.0 179.6L246.5 182.4L242.7 185.1z" fill="#4741e5"/>
<path d="M231.9 181.9L235.7 179.0L239.2 182.3L235.4 185.1z" fill="#4741e5"/>
<path d="M224.6 180.8L228.4 177.8L231.9 181.9L228.1 184.7z" fill="#4747eb"/>
<path d="M217.3 179.2L221.1 176.1L224.6 180.8L220.8 183.9z" fill="#484df0"/>
<path d="M210.0 177.3L213.7 174.1L217.3 179.2L213.5 182.3z" fill="#4758f8"/>
<path d="M202.7 175.0L206.4 171.8L210.0 177.3L206.2 180.5z" fill="#4563fd"/>
<path d="M195.3 172.6L199.1 169.5L202.7 175.0L198.9 178.2z" fill="#3e6fff"/>
<path d="M188.0 170.3L191.8 167.3L195.3 172.6L191.6 175.7z" fill="#327cfc"/>
<path d="M180.7 168.1L184.5 165.2L188.0 170.3L184.2 173.3z" fill="#2e87f7"/>
<path d="M173.4 166.1L177.2 163.3L180.7 168.1L176.9 171.1z" fill="#2d8cf3"/>
<path d="M166.1 164.0L169.9 161.2L173.4 166.1L169.6 169.0z" fill="#2797eb"/>
<path d="M158.8 161.7L162.6 158.9L166.1 164.0L162.3 166.9z" fill="#20a5e3"/>
<path d="M151.5 159.0L155.2 156.2L158.8 161.7L155.0 164.6z" fill="#18addb"/>
<path d="M144.2 156.4L147.9 153.7L151.5 159.0L147.7 161.9z" fill="#01b8ca"/>
<path d="M136.8 154.1L140.6 151.5L144.2 156.4L140.4 159.1z" fill="#0bbdbd"/>
<path d="M129.5 152.0L133.3 149.6L136.8 154.1L133.1 156.6z" fill="#24c1ae"/>
<path d="M122.2 150.1L126.0 147.8L129.5 152.0L125.7 154.4z" fill="#31c69f"/>
<path d="M114.9 148.2L118.7 146.1L122.2 150.1L118.4 152.4z" fill="#37c897"/>
<path d="M107.6 146.5L111.4 144.5L114.9 148.2L111.1 150.4z" fill="#4acb84"/>
<path d="M100.3 145.1L104.1 143.1L107.6 146.5L103.8 148.6z" fill="#64cd6f"/>
<path d="M93.0 143.6L96.7 141.8L100.3 145.1L96.5 147.0z" fill="#72cd64"/>
<path d="M85.7 142.2L89.4 140.5L93.0 143.6L89.2 145.4z" fill="#81cc59"/>
<path d="M78.3 141.1L82.1 139.5L85.7 142.2L81.9 143.9z" fill="#8fcb4e"/>
<path d="M71.0 140.0L74.8 138.5L78.3 141.1L74.6 142.6z" fill="#9dc943"/>
<path d="M63.7 138.9L67.5 137.5L71.0 140.0L67.2 141.4z" fill="#abc739"/>
<path d="M56.4 137.9L60.2 136.5L63.7 138.9L59.9 140.3z" fill="#b9c431"/>
<path d="M272.0 181.4L275.8 179.2L279.3 180.1L275.5 182.3z" fill="#4758f8"/>
<path d="M264.7 182.9L268.5 180.6L272.0 181.4L268.2 183.6z" fill="#484df0"/>
<path d="M257.4 183.9L261.2 181.5L264.7 182.9L260.9 185.1z" fill="#4747eb"/>
<path d="M250.1 184.7L253.8 182.2L257.4 183.9L253.6 186.4z" fill="#4741e5"/>
<path d="M242.7 185.1L246.5 182.4L250.1 184.7L246.3 187.2z" fill="#4741e5"/>
<path d="M235.4 185.1L239.2 182.3L242.7 185.1L239.0 187.7z" fill="#463cde"/>
<path d="M228.1 184.7L231.9 181.9L235.4 185.1L231.7 187.8z" fill="#4741e5"/>
<path d="M220.8 183.9L224.6 180.8L228.1 184.7L224.3 187.6z" fill="#4741e5"/>
<path d="M213.5 182.3L217.3 179.2L220.8 183.9L217.0 186.8z" fill="#4747eb"/>
<path d="M206.2 180.5L210.0 177.3L213.5 182.3L209.7 185.4z" fill="#4852f4"/>
<path d="M198.9 178.2L202.7 175.0L206.2 180.5L202.4 183.7z" fill="#465efb"/>
<path d="M191.6 175.7L195.3 172.6L198.9 178.2L195.1 181.4z" fill="#4269fe"/>
<path d="M184.2 173.3L188.0 170.3L191.6 175.7L187.8 178.9z" fill="#3875fe"/>
<path d="M176.9 171.1L180.7 168.1L184.2 173.3L180.5 176.5z" fill="#2f81fa"/>
<path d="M169.6 169.0L173.4 166.1L176.9 171.1L173.2 174.1z" fill="#2d8cf3"/>
<path d="M162.3 166.9L166.1 164.0L169.6 169.0L165.8 171.9z" fill="#2797eb"/>
<path d="M155.0 164.6L158.8 161.7L162.3 166.9L158.5 169.7z" fill="#23a0e5"/>
<path d="M147.7 161.9L151.5 159.0L155.0 164.6L151.2 167.4z" fill="#1ca9df"/>
<path d="M140.4 159.1L144.2 156.4L147.7 161.9L143.9 164.8z" fill="#08b5d0"/>
<path d="M133.1 156.6L136.8 154.1L140.4 159.1L136.6 161.8z" fill="#0bbdbd"/>
<path d="M125.7 154.4L129.5 152.0L133.1 156.6L129.3 159.2z" fill="#24c1ae"/>
<path d="M118.4 152.4L122.2 150.1L125.7 154.4L122.0 156.8z" fill="#31c69f"/>
<path d="M111.1 150.4L114.9 148.2L118.4 152.4L114.7 154.7z" fill="#3fca8e"/>
<path d="M103.8 148.6L107.6 146.5L111.1 150.4L107.3 152.6z" fill="#4acb84"/>
<path d="M96.5 147.0L100.3 145.1L103.8 148.6L100.0 150.6z" fill="#64cd6f"/>
<path d="M89.2 145.4L93.0 143.6L96.5 147.0L92.7 148.9z" fill="#81cc59"/>
<path d="M81.9 143.9L85.7 142.2L89.2 145.4L85.4 147.2z" fill="#8fcb4e"/>
<path d="M74.6 142.6L78.3 141.1L81.9 143.9L78.1 145.6z" fill="#9dc943"/>
<path d="M67.2 141.4L71.0 140.0L74.6 142.6L70.8 144.2z" fill="#abc739"/>
<path d="M59.9 140.3L63.7 138.9L67.2 141.4L63.5 142.9z" fill="#b9c431"/>
<path d="M52.6 139.2L56.4 137.9L59.9 140.3L56.2 141.6z" fill="#d1bf27"/>
<path d="M275.5 182.3L279.3 180.1L282.8 181.2L279.1 183.4z" fill="#465efb"/>
<path d="M268.2 183.6L272.0 181.4L275.5 182.3L271.7 184.6z" fill="#4758f8"/>
<path d="M260.9 185.1L264.7 182.9L268.2 183.6L264.4 185.9z" fill="#484df0"/>
<path d="M253.6 186.4L257.4 183.9L260.9 185.1L257.1 187.3z" fill="#4747eb"/>
<path d="M246.3 187.2L250.1 184.7L253.6 186.4L249.8 188.7z" fill="#4741e5"/>
<path d="M239.0 187.7L242.7 185.1L246.3 187.2L242.5 189.7z" fill="#463cde"/>
<path d="M231.7 187.8L235.4 185.1L239.0 187.7L235.2 190.2z" fill="#463cde"/>
<path d="M224.3 187.6L228.1 184.7L231.7 187.8L227.9 190.4z" fill="#463cde"/>
<path d="M217.0 186.8L220.8 183.9L224.3 187.6L220.6 190.3z" fill="#4741e5"/>
<path d="M209.7 185.4L213.5 182.3L217.0 186.8L213.2 189.8z" fill="#4747eb"/>
<path d="M202.4 183.7L206.2 180.5L209.7 185.4L205.9 188.5z" fill="#484df0"/>
<path d="M195.1 181.4L198.9 178.2L202.4 183.7L198.6 186.8z" fill="#4758f8"/>
<path d="M187.8 178.9L191.6 175.7L195.1 181.4L191.3 184.7z" fill="#4563fd"/>
<path d="M180.5 176.5L184.2 173.3L187.8 178.9L184.0 182.2z" fill="#3e6fff"/>
<path d="M173.2 174.1L176.9 171.1L180.5 176.5L176.7 179.6z" fill="#327cfc"/>
<path d="M165.8 171.9L169.6 169.0L173.2 174.1L169.4 177.2z" fill="#2e87f7"/>
<path d="M158.5 169.7L162.3 166.9L165.8 171.9L162.1 174.8z" fill="#2b91ef"/>
<path d="M151.2 167.4L155.0 164.6L158.5 169.7L154.7 172.7z" fill="#23a0e5"/>
<path d="M143.9 164.8L147.7 161.9L151.2 167.4L147.4 170.3z" fill="#1ca9df"/>
<path d="M136.6 161.8L140.4 159.1L143.9 164.8L140.1 167.7z" fill="#08b5d0"/>
<path d="M129.3 159.2L133.1 156.6L136.6 161.8L132.8 164.7z" fill="#02bac3"/>
<path d="M122.0 156.8L125.7 154.4L129.3 159.2L125.5 161.8z" fill="#24c1ae"/>
<path d="M114.7 154.7L118.4 152.4L122.0 156.8L118.2 159.3z" fill="#31c69f"/>
<path d="M107.3 152.6L111.1 150.4L114.7 154.7L110.9 157.0z" fill="#3fca8e"/>
<path d="M100.0 150.6L103.8 148.6L107.3 152.6L103.6 154.8z" fill="#57cc7a"/>
<path d="M92.7 148.9L96.5 147.0L100.0 150.6L96.2 152.7z" fill="#72cd64"/>
<path d="M85.4 147.2L89.2 145.4L92.7 148.9L88.9 150.8z" fill="#81cc59"/>
<path d="M78.1 145.6L81.9 143.9L85.4 147.2L81.6 148.9z" fill="#9dc943"/>
<path d="M70.8 144.2L74.6 142.6L78.1 145.6L74.3 147.2z" fill="#abc739"/>
<path d="M63.5 142.9L67.2 141.4L70.8 144.2L67.0 145.7z" fill="#b9c431"/>
<path d="M56.2 141.6L59.9 140.3L63.5 142.9L59.7 144.2z" fill="#d1bf27"/>
<path d="M48.8 140.4L52.6 139.2L56.2 141.6L52.4 142.9z" fill="#dcbd29"/>
<path d="M279.1 183.4L282.8 181.2L286.4 182.3L282.6 184.6z" fill="#4269fe"/>
<path d="M271.7 184.6L275.5 182.3L279.1 183.4L275.3 185.7z" fill="#465efb"/>
<path d="M264.4 185.9L268.2 183.6L271.7 184.6L268.0 186.8z" fill="#4758f8"/>
<path d="M257.1 187.3L260.9 185.1L264.4 185.9L260.7 188.1z" fill="#484df0"/>
<path d="M249.8 188.7L253.6 186.4L257.1 187.3L253.3 189.5z" fill="#4747eb"/>
<path d="M242.5 189.7L246.3 187.2L249.8 188.7L246.0 191.0z" fill="#4741e5"/>
<path d="M235.2 190.2L239.0 187.7L242.5 189.7L238.7 192.1z" fill="#463cde"/>
<path d="M227.9 190.4L231.7 187.8L235.2 190.2L231.4 192.8z" fill="#463cde"/>
<path d="M220.6 190.3L224.3 187.6L227.9 190.4L224.1 193.1z" fill="#463cde"/>
<path d="M213.2 189.8L217.0 186.8L220.6 190.3L216.8 193.1z" fill="#463cde"/>
<path d="M205.9 188.5L209.7 185.4L213.2 189.8L209.5 192.7z" fill="#4741e5"/>
<path d="M198.6 186.8L202.4 183.7L205.9 188.5L202.2 191.6z" fill="#484df0"/>
<path d="M191.3 184.7L195.1 181.4L198.6 186.8L194.8 189.9z" fill="#4852f4"/>
<path d="M184.0 182.2L187.8 178.9L191.3 184.7L187.5 187.9z" fill="#465efb"/>
<path d="M176.7 179.6L180.5 176.5L184.0 182.2L180.2 185.5z" fill="#3e6fff"/>
<path d="M169.4 177.2L173.2 174.1L176.7 179.6L172.9 182.8z" fill="#327cfc"/>
<path d="M162.1 174.8L165.8 171.9L169.4 177.2L165.6 180.3z" fill="#2e87f7"/>
<path d="M154.7 172.7L158.5 169.7L162.1 174.8L158.3 177.8z" fill="#2b91ef"/>
<path d="M147.4 170.3L151.2 167.4L154.7 172.7L151.0 175.6z" fill="#259be8"/>
<path d="M140.1 167.7L143.9 164.8L147.4 170.3L143.7 173.2z" fill="#20a5e3"/>
<path d="M132.8 164.7L136.6 161.8L140.1 167.7L136.3 170.6z" fill="#12b1d6"/>
<path d="M125.5 161.8L129.3 159.2L132.8 164.7L129.0 167.6z" fill="#02bac3"/>
<path d="M118.2 159.3L122.0 156.8L125.5 161.8L121.7 164.5z" fill="#24c1ae"/>
<path d="M110.9 157.0L114.7 154.7L118.2 159.3L114.4 161.8z" fill="#31c69f"/>
<path d="M103.6 154.8L107.3 152.6L110.9 157.0L107.1 159.3z" fill="#3fca8e"/>
<path d="M96.2 152.7L100.0 150.6L103.6 154.8L99.8 157.0z" fill="#57cc7a"/>
<path d="M88.9 150.8L92.7 148.9L96.2 152.7L92.5 154.7z" fill="#72cd64"/>
<path d="M81.6 148.9L85.4 147.2L88.9 150.8L85.2 152.6z" fill="#8fcb4e"/>
<path d="M74.3 147.2L78.1 145.6L81.6 148.9L77.8 150.7z" fill="#abc739"/>
<path d="M67.0 145.7L70.8 144.2L74.3 147.2L70.5 148.8z" fill="#b9c431"/>
<path d="M59.7 144.2L63.5 142.9L67.0 145.7L63.2 147.1z" fill="#d1bf27"/>
<path d="M52.4 142.9L56.2 141.6L59.7 144.2L55.9 145.6z" fill="#dcbd29"/>
<path d="M45.1 141.6L48.8 140.4L52.4 142.9L48.6 144.1z" fill="#e6bb2d"/>
<path d="M282.6 184.6L286.4 182.3L289.9 183.6L286.1 186.0z" fill="#3e6fff"/>
<path d="M275.3 185.7L279.1 183.4L282.6 184.6L278.8 186.9z" fill="#4269fe"/>
<path d="M268.0 186.8L271.7 184.6L275.3 185.7L271.5 187.9z" fill="#465efb"/>
<path d="M260.7 188.1L264.4 185.9L268.0 186.8L264.2 189.0z" fill="#4758f8"/>
<path d="M253.3 189.5L257.1 187.3L260.7 188.1L256.9 190.3z" fill="#4852f4"/>
<path d="M246.0 191.0L249.8 188.7L253.3 189.5L249.6 191.7z" fill="#4747eb"/>
<path d="M238.7 192.1L242.5 189.7L246.0 191.0L242.2 193.3z" fill="#4741e5"/>
<path d="M231.4 192.8L235.2 190.2L238.7 192.1L234.9 194.4z" fill="#463cde"/>
<path d="M224.1 193.1L227.9 190.4L231.4 192.8L227.6 195.3z" fill="#463cde"/>
<path d="M216.8 193.1L220.6 190.3L224.1 193.1L220.3 195.7z" fill="#4537d5"/>
<path d="M209.5 192.7L213.2 189.8L216.8 193.1L213.0 195.8z" fill="#463cde"/>
<path d="M202.2 191.6L205.9 188.5L209.5 192.7L205.7 195.5z" fill="#463cde"/>
<path d="M194.8 189.9L198.6 186.8L202.2 191.6L198.4 194.6z" fill="#4747eb"/>
<path d="M187.5 187.9L191.3 184.7L194.8 189.9L191.1 193.1z" fill="#484df0"/>
<path d="M180.2 185.5L184.0 182.2L187.5 187.9L183.8 191.1z" fill="#465efb"/>
<path d="M172.9 182.8L176.7 179.6L180.2 185.5L176.4 188.8z" fill="#4269fe"/>
<path d="M165.6 180.3L169.4 177.2L172.9 182.8L169.1 186.1z" fill="#3875fe"/>
<path d="M158.3 177.8L162.1 174.8L165.6 180.3L161.8 183.4z" fill="#2f81fa"/>
<path d="M151.0 175.6L154.7 172.7L158.3 177.8L154.5 180.9z" fill="#2d8cf3"/>
<path d="M143.7 173.2L147.4 170.3L151.0 175.6L147.2 178.5z" fill="#2797eb"/>
<path d="M136.3 170.6L140.1 167.7L143.7 173.2L139.9 176.1z" fill="#20a5e3"/>
<path d="M129.0 167.6L132.8 164.7L136.3 170.6L132.6 173.5z" fill="#12b1d6"/>
<path d="M121.7 164.5L125.5 161.8L129.0 167.6L125.3 170.5z" fill="#02bac3"/>
<path d="M114.4 161.8L118.2 159.3L121.7 164.5L117.9 167.2z" fill="#19bfb6"/>
<path d="M107.1 159.3L110.9 157.0L114.4 161.8L110.6 164.3z" fill="#31c69f"/>
<path d="M99.8 157.0L103.6 154.8L107.1 159.3L103.3 161.7z" fill="#3fca8e"/>
<path d="M92.5 154.7L96.2 152.7L99.8 157.0L96.0 159.2z" fill="#64cd6f"/>
<path d="M85.2 152.6L88.9 150.8L92.5 154.7L88.7 156.8z" fill="#81cc59"/>
<path d="M77.8 150.7L81.6 148.9L85.2 152.6L81.4 154.5z" fill="#9dc943"/>
<path d="M70.5 148.8L74.3 147.2L77.8 150.7L74.1 152.4z" fill="#b9c431"/>
<path d="M63.2 147.1L67.0 145.7L70.5 148.8L66.8 150.3z" fill="#c5c22a"/>
<path d="M55.9 145.6L59.7 144.2L63.2 147.1L59.4 148.5z" fill="#dcbd29"/>
<path d="M48.6 144.1L52.4 142.9L55.9 145.6L52.1 146.8z" fill="#e6bb2d"/>
<path d="M41.3 142.6L45.1 141.6L48.6 144.1L44.8 145.2z" fill="#f8ba3d"/>
<path d="M286.1 186.0L289.9 183.6L293.4 185.4L289.7 187.8z" fill="#3875fe"/>
<path d="M278.8 186.9L282.6 184.6L286.1 186.0L282.3 188.3z" fill="#3e6fff"/>
<path d="M271.5 187.9L275.3 185.7L278.8 186.9L275.0 189.2z" fill="#4269fe"/>
<path d="M264.2 189.0L268.0 186.8L271.5 187.9L267.7 190.2z" fill="#4563fd"/>
<path d="M256.9 190.3L260.7 188.1L264.2 189.0L260.4 191.2z" fill="#4758f8"/>
<path d="M249.6 191.7L253.3 189.5L256.9 190.3L253.1 192.5z" fill="#4852f4"/>
<path d="M242.2 193.3L246.0 191.0L249.6 191.7L245.8 193.9z" fill="#4747eb"/>
<path d="M234.9 194.4L238.7 192.1L242.2 193.3L238.5 195.5z" fill="#4741e5"/>
<path d="M227.6 195.3L231.4 192.8L234.9 194.4L231.2 196.8z" fill="#463cde"/>
<path d="M220.3 195.7L224.1 193.1L227.6 195.3L223.8 197.7z" fill="#4537d5"/>
<path d="M213.0 195.8L216.8 193.1L220.3 195.7L216.5 198.2z" fill="#4537d5"/>
<path d="M205.7 195.5L209.5 192.7L213.0 195.8L209.2 198.4z" fill="#4537d5"/>
<path d="M198.4 194.6L202.2 191.6L205.7 195.5L201.9 198.3z" fill="#463cde"/>
<path d="M191.1 193.1L194.8 189.9L198.4 194.6L194.6 197.6z" fill="#4741e5"/>
<path d="M183.8 191.1L187.5 187.9L191.1 193.1L187.3 196.2z" fill="#484df0"/>
<path d="M176.4 188.8L180.2 185.5L183.8 191.1L180.0 194.3z" fill="#4758f8"/>
<path d="M169.1 186.1L172.9 182.8L176.4 188.8L172.7 192.1z" fill="#4563fd"/>
<path d="M161.8 183.4L165.6 180.3L169.1 186.1L165.3 189.4z" fill="#3e6fff"/>
<path d="M154.5 180.9L158.3 177.8L161.8 183.4L158.0 186.7z" fill="#2f81fa"/>
<path d="M147.2 178.5L151.0 175.6L154.5 180.9L150.7 184.0z" fill="#2d8cf3"/>
<path d="M139.9 176.1L143.7 173.2L147.2 178.5L143.4 181.5z" fill="#2797eb"/>
<path d="M132.6 173.5L136.3 170.6L139.9 176.1L136.1 179.1z" fill="#23a0e5"/>
<path d="M125.3 170.5L129.0 167.6L132.6 173.5L128.8 176.4z" fill="#18addb"/>
<path d="M117.9 167.2L121.7 164.5L125.3 170.5L121.5 173.4z" fill="#01b8ca"/>
<path d="M110.6 164.3L114.4 161.8L117.9 167.2L114.2 170.0z" fill="#19bfb6"/>
<path d="M103.3 161.7L107.1 159.3L110.6 164.3L106.8 166.9z" fill="#31c69f"/>
<path d="M96.0 159.2L99.8 157.0L103.3 161.7L99.5 164.1z" fill="#3fca8e"/>
<path d="M88.7 156.8L92.5 154.7L96.0 159.2L92.2 161.4z" fill="#64cd6f"/>
<path d="M81.4 154.5L85.2 152.6L88.7 156.8L84.9 158.9z" fill="#81cc59"/>
<path d="M74.1 152.4L77.8 150.7L81.4 154.5L77.6 156.3z" fill="#9dc943"/>
<path d="M66.8 150.3L70.5 148.8L74.1 152.4L70.3 154.1z" fill="#b9c431"/>
<path d="M59.4 148.5L63.2 147.1L66.8 150.3L63.0 151.9z" fill="#d1bf27"/>
<path d="M52.1 146.8L55.9 145.6L59.4 148.5L55.7 149.8z" fill="#e6bb2d"/>
<path d="M44.8 145.2L48.6 144.1L52.1 146.8L48.3 148.0z" fill="#f8ba3d"/>
<path d="M37.5 143.6L41.3 142.6L44.8 145.2L41.0 146.2z" fill="#febe3c"/>
<path d="M289.7 187.8L293.4 185.4L297.0 187.4L293.2 189.8z" fill="#327cfc"/>
<path d="M282.3 188.3L286.1 186.0L289.7 187.8L285.9 190.2z" fill="#3875fe"/>
<path d="M275.0 189.2L278.8 186.9L282.3 188.3L278.6 190.7z" fill="#3e6fff"/>
<path d="M267.7 190.2L271.5 187.9L275.0 189.2L271.3 191.5z" fill="#4269fe"/>
<path d="M260.4 191.2L264.2 189.0L267.7 190.2L263.9 192.5z" fill="#4563fd"/>
<path d="M253.1 192.5L256.9 190.3L260.4 191.2L256.6 193.5z" fill="#4758f8"/>
<path d="M245.8 193.9L249.6 191.7L253.1 192.5L249.3 194.7z" fill="#4852f4"/>
<path d="M238.5 195.5L242.2 193.3L245.8 193.9L242.0 196.1z" fill="#4747eb"/>
<path d="M231.2 196.8L234.9 194.4L238.5 195.5L234.7 197.7z" fill="#4741e5"/>
<path d="M223.8 197.7L227.6 195.3L231.2 196.8L227.4 199.1z" fill="#463cde"/>
<path d="M216.5 198.2L220.3 195.7L223.8 197.7L220.1 200.1z" fill="#4537d5"/>
<path d="M209.2 198.4L213.0 195.8L216.5 198.2L212.8 200.7z" fill="#4537d5"/>
<path d="M201.9 198.3L205.7 195.5L209.2 198.4L205.4 201.0z" fill="#4537d5"/>
<path d="M194.6 197.6L198.4 194.6L201.9 198.3L198.1 201.0z" fill="#4537d5"/>
<path d="M187.3 196.2L191.1 193.1L194.6 197.6L190.8 200.5z" fill="#463cde"/>
<path d="M180.0 194.3L183.8 191.1L187.3 196.2L183.5 199.3z" fill="#4747eb"/>
<path d="M172.7 192.1L176.4 188.8L180.0 194.3L176.2 197.5z" fill="#4852f4"/>
<path d="M165.3 189.4L169.1 186.1L172.7 192.1L168.9 195.4z" fill="#465efb"/>
<path d="M158.0 186.7L161.8 183.4L165.3 189.4L161.6 192.7z" fill="#3e6fff"/>
<path d="M150.7 184.0L154.5 180.9L158.0 186.7L154.3 189.9z" fill="#327cfc"/>
<path d="M143.4 181.5L147.2 178.5L150.7 184.0L146.9 187.2z" fill="#2e87f7"/>
<path d="M136.1 179.1L139.9 176.1L143.4 181.5L139.6 184.6z" fill="#2b91ef"/>
<path d="M128.8 176.4L132.6 173.5L136.1 179.1L132.3 182.1z" fill="#23a0e5"/>
<path d="M121.5 173.4L125.3 170.5L128.8 176.4L125.0 179.4z" fill="#18addb"/>
<path d="M114.2 170.0L117.9 167.2L121.5 173.4L117.7 176.4z" fill="#01b8ca"/>
<path d="M106.8 166.9L110.6 164.3L114.2 170.0L110.4 172.9z" fill="#19bfb6"/>
<path d="M99.5 164.1L103.3 161.7L106.8 166.9L103.1 169.5z" fill="#31c69f"/>
<path d="M92.2 161.4L96.0 159.2L99.5 164.1L95.8 166.5z" fill="#4acb84"/>
<path d="M84.9 158.9L88.7 156.8L92.2 161.4L88.4 163.7z" fill="#64cd6f"/>
<path d="M77.6 156.3L81.4 154.5L84.9 158.9L81.1 160.9z" fill="#8fcb4e"/>
<path d="M70.3 154.1L74.1 152.4L77.6 156.3L73.8 158.2z" fill="#abc739"/>
<path d="M63.0 151.9L66.8 150.3L70.3 154.1L66.5 155.8z" fill="#c5c22a"/>
<path d="M55.7 149.8L59.4 148.5L63.0 151.9L59.2 153.4z" fill="#e6bb2d"/>
<path d="M48.3 148.0L52.1 146.8L55.7 149.8L51.9 151.1z" fill="#f0ba36"/>
<path d="M41.0 146.2L44.8 145.2L48.3 148.0L44.6 149.1z" fill="#febe3c"/>
<path d="M33.7 144.4L37.5 143.6L41.0 146.2L37.3 147.1z" fill="#fec934"/>
<path d="M293.2 189.8L297.0 187.4L300.5 189.5L296.7 191.8z" fill="#327cfc"/>
<path d="M285.9 190.2L289.7 187.8L293.2 189.8L289.4 192.2z" fill="#327cfc"/>
<path d="M278.6 190.7L282.3 188.3L285.9 190.2L282.1 192.5z" fill="#3875fe"/>
<path d="M271.3 191.5L275.0 189.2L278.6 190.7L274.8 193.0z" fill="#3e6fff"/>
<path d="M263.9 192.5L267.7 190.2L271.3 191.5L267.5 193.8z" fill="#4269fe"/>
<path d="M256.6 193.5L260.4 191.2L263.9 192.5L260.2 194.7z" fill="#4563fd"/>
<path d="M249.3 194.7L253.1 192.5L256.6 193.5L252.8 195.7z" fill="#465efb"/>
<path d="M242.0 196.1L245.8 193.9L249.3 194.7L245.5 196.9z" fill="#4852f4"/>
<path d="M234.7 197.7L238.5 195.5L242.0 196.1L238.2 198.2z" fill="#4747eb"/>
<path d="M227.4 199.1L231.2 196.8L234.7 197.7L230.9 199.9z" fill="#4741e5"/>
<path d="M220.1 200.1L223.8 197.7L227.4 199.1L223.6 201.4z" fill="#463cde"/>
<path d="M212.8 200.7L216.5 198.2L220.1 200.1L216.3 202.5z" fill="#4537d5"/>
<path d="M205.4 201.0L209.2 198.4L212.8 200.7L209.0 203.3z" fill="#4537d5"/>
<path d="M198.1 201.0L201.9 198.3L205.4 201.0L201.7 203.6z" fill="#4537d5"/>
<path d="M190.8 200.5L194.6 197.6L198.1 201.0L194.3 203.7z" fill="#4537d5"/>
<path d="M183.5 199.3L187.3 196.2L190.8 200.5L187.0 203.4z" fill="#463cde"/>
<path d="M176.2 197.5L180.0 194.3L183.5 199.3L179.7 202.4z" fill="#4741e5"/>
<path d="M168.9 195.4L172.7 192.1L176.2 197.5L172.4 200.7z" fill="#484df0"/>
<path d="M161.6 192.7L165.3 189.4L168.9 195.4L165.1 198.6z" fill="#4758f8"/>
<path d="M154.3 189.9L158.0 186.7L161.6 192.7L157.8 196.1z" fill="#4269fe"/>
<path d="M146.9 187.2L150.7 184.0L154.3 189.9L150.5 193.3z" fill="#3875fe"/>
<path d="M139.6 184.6L143.4 181.5L146.9 187.2L143.2 190.4z" fill="#2f81fa"/>
<path d="M132.3 182.1L136.1 179.1L139.6 184.6L135.8 187.7z" fill="#2b91ef"/>
<path d="M125.0 179.4L128.8 176.4L132.3 182.1L128.5 185.1z" fill="#259be8"/>
<path d="M117.7 176.4L121.5 173.4L125.0 179.4L121.2 182.4z" fill="#1ca9df"/>
<path d="M110.4 172.9L114.2 170.0L117.7 176.4L113.9 179.3z" fill="#08b5d0"/>
<path d="M103.1 169.5L106.8 166.9L110.4 172.9L106.6 175.8z" fill="#19bfb6"/>
<path d="M95.8 166.5L99.5 164.1L103.1 169.5L99.3 172.2z" fill="#31c69f"/>
<path d="M88.4 163.7L92.2 161.4L95.8 166.5L92.0 168.9z" fill="#4acb84"/>
<path d="M81.1 160.9L84.9 158.9L88.4 163.7L84.7 165.9z" fill="#72cd64"/>
<path d="M73.8 158.2L77.6 156.3L81.1 160.9L77.3 163.0z" fill="#8fcb4e"/>
<path d="M66.5 155.8L70.3 154.1L73.8 158.2L70.0 160.1z" fill="#b9c431"/>
<path d="M59.2 153.4L63.0 151.9L66.5 155.8L62.7 157.4z" fill="#d1bf27"/>
<path d="M51.9 151.1L55.7 149.8L59.2 153.4L55.4 154.8z" fill="#f0ba36"/>
<path d="M44.6 149.1L48.3 148.0L51.9 151.1L48.1 152.3z" fill="#febe3c"/>
<path d="M37.3 147.1L41.0 146.2L44.6 149.1L40.8 150.1z" fill="#fec934"/>
<path d="M29.9 145.2L33.7 144.4L37.3 147.1L33.5 147.9z" fill="#fad62d"/>
<path d="M296.7 191.8L300.5 189.5L304.0 191.5L300.3 193.9z" fill="#2f81fa"/>
<path d="M289.4 192.2L293.2 189.8L296.7 191.8L292.9 194.2z" fill="#327cfc"/>
<path d="M282.1 192.5L285.9 190.2L289.4 192.2L285.6 194.5z" fill="#327cfc"/>
<path d="M274.8 193.0L278.6 190.7L282.1 192.5L278.3 194.9z" fill="#3875fe"/>
<path d="M267.5 193.8L271.3 191.5L274.8 193.0L271.0 195.4z" fill="#3e6fff"/>
<path d="M260.2 194.7L263.9 192.5L267.5 193.8L263.7 196.2z" fill="#4269fe"/>
<path d="M252.8 195.7L256.6 193.5L260.2 194.7L256.4 197.0z" fill="#4563fd"/>
<path d="M245.5 196.9L249.3 194.7L252.8 195.7L249.1 198.0z" fill="#465efb"/>
<path d="M238.2 198.2L242.0 196.1L245.5 196.9L241.8 199.1z" fill="#4852f4"/>
<path d="M230.9 199.9L234.7 197.7L238.2 198.2L234.4 200.4z" fill="#484df0"/>
<path d="M223.6 201.4L227.4 199.1L230.9 199.9L227.1 202.0z" fill="#4741e5"/>
<path d="M216.3 202.5L220.1 200.1L223.6 201.4L219.8 203.6z" fill="#463cde"/>
<path d="M209.0 203.3L212.8 200.7L216.3 202.5L212.5 204.8z" fill="#4537d5"/>
<path d="M201.7 203.6L205.4 201.0L209.0 203.3L205.2 205.7z" fill="#4537d5"/>
<path d="M194.3 203.7L198.1 201.0L201.7 203.6L197.9 206.1z" fill="#4332cb"/>
<path d="M187.0 203.4L190.8 200.5L194.3 203.7L190.6 206.3z" fill="#4332cb"/>
<path d="M179.7 202.4L183.5 199.3L187.0 203.4L183.3 206.2z" fill="#4537d5"/>
<path d="M172.4 200.7L176.2 197.5L179.7 202.4L175.9 205.4z" fill="#463cde"/>
<path d="M165.1 198.6L168.9 195.4L172.4 200.7L168.6 203.9z" fill="#4747eb"/>
<path d="M157.8 196.1L161.6 192.7L165.1 198.6L161.3 201.8z" fill="#4852f4"/>
<path d="M150.5 193.3L154.3 189.9L157.8 196.1L154.0 199.5z" fill="#4563fd"/>
<path d="M143.2 190.4L146.9 187.2L150.5 193.3L146.7 196.6z" fill="#3e6fff"/>
<path d="M135.8 187.7L139.6 184.6L143.2 190.4L139.4 193.7z" fill="#2f81fa"/>
<path d="M128.5 185.1L132.3 182.1L135.8 187.7L132.1 190.9z" fill="#2d8cf3"/>
<path d="M121.2 182.4L125.0 179.4L128.5 185.1L124.8 188.2z" fill="#259be8"/>
<path d="M113.9 179.3L117.7 176.4L121.2 182.4L117.4 185.4z" fill="#20a5e3"/>
<path d="M106.6 175.8L110.4 172.9L113.9 179.3L110.1 182.3z" fill="#08b5d0"/>
<path d="M99.3 172.2L103.1 169.5L106.6 175.8L102.8 178.8z" fill="#19bfb6"/>
<path d="M92.0 168.9L95.8 166.5L99.3 172.2L95.5 174.9z" fill="#31c69f"/>
<path d="M84.7 165.9L88.4 163.7L92.0 168.9L88.2 171.4z" fill="#4acb84"/>
<path d="M77.3 163.0L81.1 160.9L84.7 165.9L80.9 168.2z" fill="#72cd64"/>
<path d="M70.0 160.1L73.8 158.2L77.3 163.0L73.6 165.1z" fill="#9dc943"/>
<path d="M62.7 157.4L66.5 155.8L70.0 160.1L66.3 162.0z" fill="#c5c22a"/>
<path d="M55.4 154.8L59.2 153.4L62.7 157.4L58.9 159.0z" fill="#e6bb2d"/>
<path d="M48.1 152.3L51.9 151.1L55.4 154.8L51.6 156.2z" fill="#f8ba3d"/>
<path d="M40.8 150.1L44.6 149.1L48.1 152.3L44.3 153.4z" fill="#fec934"/>
<path d="M33.5 147.9L37.3 147.1L40.8 150.1L37.0 151.0z" fill="#fad62d"/>
<path d="M26.2 145.9L29.9 145.2L33.5 147.9L29.7 148.7z" fill="#f5e327"/>
<path d="M300.3 193.9L304.0 191.5L307.6 193.6L303.8 195.9z" fill="#2f81fa"/>
<path d="M292.9 194.2L296.7 191.8L300.3 193.9L296.5 196.3z" fill="#2f81fa"/>
<path d="M285.6 194.5L289.4 192.2L292.9 194.2L289.2 196.6z" fill="#327cfc"/>
<path d="M278.3 194.9L282.1 192.5L285.6 194.5L281.9 196.9z" fill="#327cfc"/>
<path d="M271.0 195.4L274.8 193.0L278.3 194.9L274.5 197.3z" fill="#3875fe"/>
<path d="M263.7 196.2L267.5 193.8L271.0 195.4L267.2 197.8z" fill="#3e6fff"/>
<path d="M256.4 197.0L260.2 194.7L263.7 196.2L259.9 198.5z" fill="#4269fe"/>
<path d="M249.1 198.0L252.8 195.7L256.4 197.0L252.6 199.3z" fill="#4563fd"/>
<path d="M241.8 199.1L245.5 196.9L249.1 198.0L245.3 200.2z" fill="#465efb"/>
<path d="M234.4 200.4L238.2 198.2L241.8 199.1L238.0 201.3z" fill="#4852f4"/>
<path d="M227.1 202.0L230.9 199.9L234.4 200.4L230.7 202.6z" fill="#484df0"/>
<path d="M219.8 203.6L223.6 201.4L227.1 202.0L223.4 204.1z" fill="#4741e5"/>
<path d="M212.5 204.8L216.3 202.5L219.8 203.6L216.0 205.8z" fill="#463cde"/>
<path d="M205.2 205.7L209.0 203.3L212.5 204.8L208.7 207.2z" fill="#4537d5"/>
<path d="M197.9 206.1L201.7 203.6L205.2 205.7L201.4 208.2z" fill="#4332cb"/>
<path d="M190.6 206.3L194.3 203.7L197.9 206.1L194.1 208.7z" fill="#4332cb"/>
<path d="M183.3 206.2L187.0 203.4L190.6 206.3L186.8 208.9z" fill="#4332cb"/>
<path d="M175.9 205.4L179.7 202.4L183.3 206.2L179.5 208.9z" fill="#4537d5"/>
<path d="M168.6 203.9L172.4 200.7L175.9 205.4L172.2 208.4z" fill="#463cde"/>
<path d="M161.3 201.8L165.1 198.6L168.6 203.9L164.9 207.1z" fill="#4741e5"/>
<path d="M154.0 199.5L157.8 196.1L161.3 201.8L157.5 205.1z" fill="#484df0"/>
<path d="M146.7 196.6L150.5 193.3L154.0 199.5L150.2 202.9z" fill="#465efb"/>
<path d="M139.4 193.7L143.2 190.4L146.7 196.6L142.9 200.0z" fill="#4269fe"/>
<path d="M132.1 190.9L135.8 187.7L139.4 193.7L135.6 197.1z" fill="#327cfc"/>
<path d="M124.8 188.2L128.5 185.1L132.1 190.9L128.3 194.1z" fill="#2e87f7"/>
<path d="M117.4 185.4L121.2 182.4L124.8 188.2L121.0 191.3z" fill="#2797eb"/>
<path d="M110.1 182.3L113.9 179.3L117.4 185.4L113.7 188.5z" fill="#20a5e3"/>
<path d="M102.8 178.8L106.6 175.8L110.1 182.3L106.3 185.3z" fill="#12b1d6"/>
<path d="M95.5 174.9L99.3 172.2L102.8 178.8L99.0 181.8z" fill="#0bbdbd"/>
<path d="M88.2 171.4L92.0 168.9L95.5 174.9L91.7 177.7z" fill="#31c69f"/>
<path d="M80.9 168.2L84.7 165.9L88.2 171.4L84.4 173.9z" fill="#4acb84"/>
<path d="M73.6 165.1L77.3 163.0L80.9 168.2L77.1 170.5z" fill="#72cd64"/>
<path d="M66.3 162.0L70.0 160.1L73.6 165.1L69.8 167.2z" fill="#9dc943"/>
<path d="M58.9 159.0L62.7 157.4L66.3 162.0L62.5 163.8z" fill="#d1bf27"/>
<path d="M51.6 156.2L55.4 154.8L58.9 159.0L55.2 160.6z" fill="#f0ba36"/>
<path d="M44.3 153.4L48.1 152.3L51.6 156.2L47.9 157.5z" fill="#fec338"/>
<path d="M37.0 151.0L40.8 150.1L44.3 153.4L40.5 154.5z" fill="#fccf30"/>
<path d="M29.7 148.7L33.5 147.9L37.0 151.0L33.2 151.9z" fill="#f5e327"/>
<path d="M22.4 146.5L26.2 145.9L29.7 148.7L25.9 149.4z" fill="#f6ef20"/>
<path d="M303.8 195.9L307.6 193.6L311.1 195.7L307.3 198.0z" fill="#2e87f7"/>
<path d="M296.5 196.3L300.3 193.9L303.8 195.9L300.0 198.3z" fill="#2f81fa"/>
<path d="M289.2 196.6L292.9 194.2L296.5 196.3L292.7 198.6z" fill="#2f81fa"/>
<path d="M281.9 196.9L285.6 194.5L289.2 196.6L285.4 199.0z" fill="#327cfc"/>
<path d="M274.5 197.3L278.3 194.9L281.9 196.9L278.1 199.3z" fill="#327cfc"/>
<path d="M267.2 197.8L271.0 195.4L274.5 197.3L270.8 199.6z" fill="#3875fe"/>
<path d="M259.9 198.5L263.7 196.2L267.2 197.8L263.4 200.1z" fill="#3e6fff"/>
<path d="M252.6 199.3L256.4 197.0L259.9 198.5L256.1 200.8z" fill="#4269fe"/>
<path d="M245.3 200.2L249.1 198.0L252.6 199.3L248.8 201.6z" fill="#4563fd"/>
<path d="M238.0 201.3L241.8 199.1L245.3 200.2L241.5 202.5z" fill="#465efb"/>
<path d="M230.7 202.6L234.4 200.4L238.0 201.3L234.2 203.5z" fill="#4758f8"/>
<path d="M223.4 204.1L227.1 202.0L230.7 202.6L226.9 204.8z" fill="#484df0"/>
<path d="M216.0 205.8L219.8 203.6L223.4 204.1L219.6 206.3z" fill="#4741e5"/>
<path d="M208.7 207.2L212.5 204.8L216.0 205.8L212.3 208.0z" fill="#463cde"/>
<path d="M201.4 208.2L205.2 205.7L208.7 207.2L204.9 209.4z" fill="#4537d5"/>
<path d="M194.1 208.7L197.9 206.1L201.4 208.2L197.6 210.5z" fill="#4332cb"/>
<path d="M186.8 208.9L190.6 206.3L194.1 208.7L190.3 211.2z" fill="#4332cb"/>
<path d="M179.5 208.9L183.3 206.2L186.8 208.9L183.0 211.5z" fill="#4332cb"/>
<path d="M172.2 208.4L175.9 205.4L179.5 208.9L175.7 211.5z" fill="#4332cb"/>
<path d="M164.9 207.1L168.6 203.9L172.2 208.4L168.4 211.3z" fill="#4537d5"/>
<path d="M157.5 205.1L161.3 201.8L164.9 207.1L161.1 210.2z" fill="#4741e5"/>
<path d="M150.2 202.9L154.0 199.5L157.5 205.1L153.8 208.3z" fill="#4747eb"/>
<path d="M142.9 200.0L146.7 196.6L150.2 202.9L146.4 206.1z" fill="#4758f8"/>
<path d="M135.6 197.1L139.4 193.7L142.9 200.0L139.1 203.5z" fill="#4563fd"/>
<path d="M128.3 194.1L132.1 190.9L135.6 197.1L131.8 200.5z" fill="#3875fe"/>
<path d="M121.0 191.3L124.8 188.2L128.3 194.1L124.5 197.5z" fill="#2e87f7"/>
<path d="M113.7 188.5L117.4 185.4L121.0 191.3L117.2 194.5z" fill="#2b91ef"/>
<path d="M106.3 185.3L110.1 182.3L113.7 188.5L109.9 191.6z" fill="#23a0e5"/>
<path d="M99.0 181.8L102.8 178.8L106.3 185.3L102.6 188.4z" fill="#12b1d6"/>
<path d="M91.7 177.7L95.5 174.9L99.0 181.8L95.3 184.8z" fill="#0bbdbd"/>
<path d="M84.4 173.9L88.2 171.4L91.7 177.7L87.9 180.7z" fill="#2cc4a7"/>
<path d="M77.1 170.5L80.9 168.2L84.4 173.9L80.6 176.5z" fill="#4acb84"/>
<path d="M69.8 167.2L73.6 165.1L77.1 170.5L73.3 172.8z" fill="#72cd64"/>
<path d="M62.5 163.8L66.3 162.0L69.8 167.2L66.0 169.3z" fill="#abc739"/>
<path d="M55.2 160.6L58.9 159.0L62.5 163.8L58.7 165.7z" fill="#dcbd29"/>
<path d="M47.9 157.5L51.6 156.2L55.2 160.6L51.4 162.1z" fill="#f8ba3d"/>
<path d="M40.5 154.5L44.3 153.4L47.9 157.5L44.1 158.8z" fill="#fec934"/>
<path d="M33.2 151.9L37.0 151.0L40.5 154.5L36.8 155.6z" fill="#f7dc2a"/>
<path d="M25.9 149.4L29.7 148.7L33.2 151.9L29.4 152.8z" fill="#f6ef20"/>
<path d="M18.6 147.1L22.4 146.5L25.9 149.4L22.1 150.1z" fill="#f9fb15"/>
<path d="M300.0 198.3L303.8 195.9L307.3 198.0L303.5 200.4z" fill="#2e87f7"/>
<path d="M292.7 198.6L296.5 196.3L300.0 198.3L296.2 200.7z" fill="#2f81fa"/>
<path d="M285.4 199.0L289.2 196.6L292.7 198.6L288.9 201.0z" fill="#2f81fa"/>
<path d="M278.1 199.3L281.9 196.9L285.4 199.0L281.6 201.3z" fill="#327cfc"/>
<path d="M270.8 199.6L274.5 197.3L278.1 199.3L274.3 201.6z" fill="#327cfc"/>
<path d="M263.4 200.1L267.2 197.8L270.8 199.6L267.0 202.0z" fill="#3875fe"/>
<path d="M256.1 200.8L259.9 198.5L263.4 200.1L259.7 202.5z" fill="#3e6fff"/>
<path d="M248.8 201.6L252.6 199.3L256.1 200.8L252.4 203.1z" fill="#4269fe"/>
<path d="M241.5 202.5L245.3 200.2L248.8 201.6L245.0 203.9z" fill="#4563fd"/>
<path d="M234.2 203.5L238.0 201.3L241.5 202.5L237.7 204.7z" fill="#465efb"/>
<path d="M226.9 204.8L230.7 202.6L234.2 203.5L230.4 205.7z" fill="#4758f8"/>
<path d="M219.6 206.3L223.4 204.1L226.9 204.8L223.1 207.0z" fill="#484df0"/>
<path d="M212.3 208.0L216.0 205.8L219.6 206.3L215.8 208.4z" fill="#4741e5"/>
<path d="M204.9 209.4L208.7 207.2L212.3 208.0L208.5 210.1z" fill="#463cde"/>
<path d="M197.6 210.5L201.4 208.2L204.9 209.4L201.2 211.7z" fill="#4537d5"/>
<path d="M190.3 211.2L194.1 208.7L197.6 210.5L193.9 212.8z" fill="#4332cb"/>
<path d="M183.0 211.5L186.8 208.9L190.3 211.2L186.5 213.7z" fill="#4332cb"/>
<path d="M175.7 211.5L179.5 208.9L183.0 211.5L179.2 214.0z" fill="#422ec0"/>
<path d="M168.4 211.3L172.2 208.4L175.7 211.5L171.9 214.1z" fill="#4332cb"/>
<path d="M161.1 210.2L164.9 207.1L168.4 211.3L164.6 214.0z" fill="#4332cb"/>
<path d="M153.8 208.3L157.5 205.1L161.1 210.2L157.3 213.2z" fill="#463cde"/>
<path d="M146.4 206.1L150.2 202.9L153.8 208.3L150.0 211.5z" fill="#4747eb"/>
<path d="M139.1 203.5L142.9 200.0L146.4 206.1L142.7 209.4z" fill="#4852f4"/>
<path d="M131.8 200.5L135.6 197.1L139.1 203.5L135.4 206.9z" fill="#465efb"/>
<path d="M124.5 197.5L128.3 194.1L131.8 200.5L128.0 203.9z" fill="#3e6fff"/>
<path d="M117.2 194.5L121.0 191.3L124.5 197.5L120.7 200.8z" fill="#2f81fa"/>
<path d="M109.9 191.6L113.7 188.5L117.2 194.5L113.4 197.8z" fill="#2d8cf3"/>
<path d="M102.6 188.4L106.3 185.3L109.9 191.6L106.1 194.7z" fill="#259be8"/>
<path d="M95.3 184.8L99.0 181.8L102.6 188.4L98.8 191.5z" fill="#18addb"/>
<path d="M87.9 180.7L91.7 177.7L95.3 184.8L91.5 187.9z" fill="#02bac3"/>
<path d="M80.6 176.5L84.4 173.9L87.9 180.7L84.2 183.7z" fill="#2cc4a7"/>
<path d="M73.3 172.8L77.1 170.5L80.6 176.5L76.9 179.2z" fill="#4acb84"/>
<path d="M66.0 169.3L69.8 167.2L73.3 172.8L69.5 175.2z" fill="#81cc59"/>
<path d="M58.7 165.7L62.5 163.8L66.0 169.3L62.2 171.3z" fill="#b9c431"/>
<path d="M51.4 162.1L55.2 160.6L58.7 165.7L54.9 167.5z" fill="#dcbd29"/>
<path d="M44.1 158.8L47.9 157.5L51.4 162.1L47.6 163.7z" fill="#febe3c"/>
<path d="M36.8 155.6L40.5 154.5L44.1 158.8L40.3 160.1z" fill="#fad62d"/>
<path d="M29.4 152.8L33.2 151.9L36.8 155.6L33.0 156.6z" fill="#f5e924"/>
<path d="M22.1 150.1L25.9 149.4L29.4 152.8L25.7 153.6z" fill="#f9fb15"/>
<path d="M296.2 200.7L300.0 198.3L303.5 200.4L299.8 202.7z" fill="#2e87f7"/>
<path d="M288.9 201.0L292.7 198.6L296.2 200.7L292.4 203.0z" fill="#2f81fa"/>
<path d="M281.6 201.3L285.4 199.0L288.9 201.0L285.1 203.3z" fill="#2f81fa"/>
<path d="M274.3 201.6L278.1 199.3L281.6 201.3L277.8 203.7z" fill="#327cfc"/>
<path d="M267.0 202.0L270.8 199.6L274.3 201.6L270.5 204.0z" fill="#327cfc"/>
<path d="M259.7 202.5L263.4 200.1L267.0 202.0L263.2 204.4z" fill="#3875fe"/>
<path d="M252.4 203.1L256.1 200.8L259.7 202.5L255.9 204.8z" fill="#3e6fff"/>
<path d="M245.0 203.9L248.8 201.6L252.4 203.1L248.6 205.5z" fill="#4269fe"/>
<path d="M237.7 204.7L241.5 202.5L245.0 203.9L241.3 206.2z" fill="#4563fd"/>
<path d="M230.4 205.7L234.2 203.5L237.7 204.7L233.9 207.0z" fill="#465efb"/>
<path d="M223.1 207.0L226.9 204.8L230.4 205.7L226.6 208.0z" fill="#4758f8"/>
<path d="M215.8 208.4L219.6 206.3L223.1 207.0L219.3 209.1z" fill="#484df0"/>
<path d="M208.5 210.1L212.3 208.0L215.8 208.4L212.0 210.6z" fill="#4747eb"/>
<path d="M201.2 211.7L204.9 209.4L208.5 210.1L204.7 212.2z" fill="#463cde"/>
<path d="M193.9 212.8L197.6 210.5L201.2 211.7L197.4 213.9z" fill="#4537d5"/>
<path d="M186.5 213.7L190.3 211.2L193.9 212.8L190.1 215.1z" fill="#4332cb"/>
<path d="M179.2 214.0L183.0 211.5L186.5 213.7L182.8 216.1z" fill="#4332cb"/>
<path d="M171.9 214.1L175.7 211.5L179.2 214.0L175.4 216.5z" fill="#422ec0"/>
<path d="M164.6 214.0L168.4 211.3L171.9 214.1L168.1 216.7z" fill="#422ec0"/>
<path d="M157.3 213.2L161.1 210.2L164.6 214.0L160.8 216.7z" fill="#4332cb"/>
<path d="M150.0 211.5L153.8 208.3L157.3 213.2L153.5 216.2z" fill="#4537d5"/>
<path d="M142.7 209.4L146.4 206.1L150.0 211.5L146.2 214.7z" fill="#4741e5"/>
<path d="M135.4 206.9L139.1 203.5L142.7 209.4L138.9 212.7z" fill="#484df0"/>
<path d="M128.0 203.9L131.8 200.5L135.4 206.9L131.6 210.3z" fill="#4758f8"/>
<path d="M120.7 200.8L124.5 197.5L128.0 203.9L124.3 207.4z" fill="#4269fe"/>
<path d="M113.4 197.8L117.2 194.5L120.7 200.8L116.9 204.2z" fill="#327cfc"/>
<path d="M106.1 194.7L109.9 191.6L113.4 197.8L109.6 201.1z" fill="#2d8cf3"/>
<path d="M98.8 191.5L102.6 188.4L106.1 194.7L102.3 197.9z" fill="#259be8"/>
<path d="M91.5 187.9L95.3 184.8L98.8 191.5L95.0 194.7z" fill="#1ca9df"/>
<path d="M84.2 183.7L87.9 180.7L91.5 187.9L87.7 191.0z" fill="#01b8ca"/>
<path d="M76.9 179.2L80.6 176.5L84.2 183.7L80.4 186.7z" fill="#2cc4a7"/>
<path d="M69.5 175.2L73.3 172.8L76.9 179.2L73.1 182.0z" fill="#4acb84"/>
<path d="M62.2 171.3L66.0 169.3L69.5 175.2L65.8 177.6z" fill="#81cc59"/>
<path d="M54.9 167.5L58.7 165.7L62.2 171.3L58.4 173.5z" fill="#b9c431"/>
<path d="M47.6 163.7L51.4 162.1L54.9 167.5L51.1 169.4z" fill="#e6bb2d"/>
<path d="M40.3 160.1L44.1 158.8L47.6 163.7L43.8 165.2z" fill="#fec338"/>
<path d="M33.0 156.6L36.8 155.6L40.3 160.1L36.5 161.4z" fill="#f7dc2a"/>
<path d="M25.7 153.6L29.4 152.8L33.0 156.6L29.2 157.6z" fill="#f7f51b"/>
<path d="M292.4 203.0L296.2 200.7L299.8 202.7L296.0 205.1z" fill="#2e87f7"/>
<path d="M285.1 203.3L288.9 201.0L292.4 203.0L288.7 205.4z" fill="#2f81fa"/>
<path d="M277.8 203.7L281.6 201.3L285.1 203.3L281.4 205.7z" fill="#2f81fa"/>
<path d="M270.5 204.0L274.3 201.6L277.8 203.7L274.0 206.1z" fill="#327cfc"/>
<path d="M263.2 204.4L267.0 202.0L270.5 204.0L266.7 206.4z" fill="#327cfc"/>
<path d="M255.9 204.8L259.7 202.5L263.2 204.4L259.4 206.8z" fill="#3875fe"/>
<path d="M248.6 205.5L252.4 203.1L255.9 204.8L252.1 207.2z" fill="#3e6fff"/>
<path d="M241.3 206.2L245.0 203.9L248.6 205.5L244.8 207.8z" fill="#4269fe"/>
<path d="M233.9 207.0L237.7 204.7L241.3 206.2L237.5 208.5z" fill="#4563fd"/>
<path d="M226.6 208.0L230.4 205.7L233.9 207.0L230.2 209.3z" fill="#465efb"/>
<path d="M219.3 209.1L223.1 207.0L226.6 208.0L222.9 210.2z" fill="#4758f8"/>
<path d="M212.0 210.6L215.8 208.4L219.3 209.1L215.5 211.3z" fill="#4852f4"/>
<path d="M204.7 212.2L208.5 210.1L212.0 210.6L208.2 212.7z" fill="#4747eb"/>
<path d="M197.4 213.9L201.2 211.7L204.7 212.2L200.9 214.3z" fill="#463cde"/>
<path d="M190.1 215.1L193.9 212.8L197.4 213.9L193.6 216.0z" fill="#4537d5"/>
<path d="M182.8 216.1L186.5 213.7L190.1 215.1L186.3 217.4z" fill="#4332cb"/>
<path d="M175.4 216.5L179.2 214.0L182.8 216.1L179.0 218.4z" fill="#422ec0"/>
<path d="M168.1 216.7L171.9 214.1L175.4 216.5L171.7 219.0z" fill="#422ec0"/>
<path d="M160.8 216.7L164.6 214.0L168.1 216.7L164.4 219.3z" fill="#422ec0"/>
<path d="M153.5 216.2L157.3 213.2L160.8 216.7L157.0 219.3z" fill="#422ec0"/>
<path d="M146.2 214.7L150.0 211.5L153.5 216.2L149.7 219.1z" fill="#4332cb"/>
<path d="M138.9 212.7L142.7 209.4L146.2 214.7L142.4 217.9z" fill="#463cde"/>
<path d="M131.6 210.3L135.4 206.9L138.9 212.7L135.1 215.9z" fill="#4747eb"/>
<path d="M124.3 207.4L128.0 203.9L131.6 210.3L127.8 213.7z" fill="#4852f4"/>
<path d="M116.9 204.2L120.7 200.8L124.3 207.4L120.5 210.9z" fill="#4563fd"/>
<path d="M109.6 201.1L113.4 197.8L116.9 204.2L113.2 207.7z" fill="#3875fe"/>
<path d="M102.3 197.9L106.1 194.7L109.6 201.1L105.9 204.5z" fill="#2e87f7"/>
<path d="M95.0 194.7L98.8 191.5L102.3 197.9L98.5 201.2z" fill="#2797eb"/>
<path d="M87.7 191.0L91.5 187.9L95.0 194.7L91.2 197.9z" fill="#20a5e3"/>
<path d="M80.4 186.7L84.2 183.7L87.7 191.0L83.9 194.1z" fill="#01b8ca"/>
<path d="M73.1 182.0L76.9 179.2L80.4 186.7L76.6 189.8z" fill="#24c1ae"/>
<path d="M65.8 177.6L69.5 175.2L73.1 182.0L69.3 184.8z" fill="#4acb84"/>
<path d="M58.4 173.5L62.2 171.3L65.8 177.6L62.0 180.0z" fill="#81cc59"/>
<path d="M51.1 169.4L54.9 167.5L58.4 173.5L54.7 175.6z" fill="#c5c22a"/>
<path d="M43.8 165.2L47.6 163.7L51.1 169.4L47.4 171.3z" fill="#f0ba36"/>
<path d="M36.5 161.4L40.3 160.1L43.8 165.2L40.0 166.8z" fill="#fccf30"/>
<path d="M29.2 157.6L33.0 156.6L36.5 161.4L32.7 162.6z" fill="#f5e924"/>
<path d="M288.7 205.4L292.4 203.0L296.0 205.1L292.2 207.4z" fill="#2e87f7"/>
<path d="M281.4 205.7L285.1 203.3L288.7 205.4L284.9 207.7z" fill="#2f81fa"/>
<path d="M274.0 206.1L277.8 203.7L281.4 205.7L277.6 208.1z" fill="#2f81fa"/>
<path d="M266.7 206.4L270.5 204.0L274.0 206.1L270.3 208.4z" fill="#327cfc"/>
<path d="M259.4 206.8L263.2 204.4L266.7 206.4L262.9 208.8z" fill="#327cfc"/>
<path d="M252.1 207.2L255.9 204.8L259.4 206.8L255.6 209.1z" fill="#3875fe"/>
<path d="M244.8 207.8L248.6 205.5L252.1 207.2L248.3 209.6z" fill="#3e6fff"/>
<path d="M237.5 208.5L241.3 206.2L244.8 207.8L241.0 210.1z" fill="#4269fe"/>
<path d="M230.2 209.3L233.9 207.0L237.5 208.5L233.7 210.8z" fill="#4269fe"/>
<path d="M222.9 210.2L226.6 208.0L230.2 209.3L226.4 211.6z" fill="#465efb"/>
<path d="M215.5 211.3L219.3 209.1L222.9 210.2L219.1 212.4z" fill="#4758f8"/>
<path d="M208.2 212.7L212.0 210.6L215.5 211.3L211.8 213.5z" fill="#4852f4"/>
<path d="M200.9 214.3L204.7 212.2L208.2 212.7L204.5 214.9z" fill="#4747eb"/>
<path d="M193.6 216.0L197.4 213.9L200.9 214.3L197.1 216.4z" fill="#463cde"/>
<path d="M186.3 217.4L190.1 215.1L193.6 216.0L189.8 218.2z" fill="#4537d5"/>
<path d="M179.0 218.4L182.8 216.1L186.3 217.4L182.5 219.6z" fill="#4332cb"/>
<path d="M171.7 219.0L175.4 216.5L179.0 218.4L175.2 220.7z" fill="#422ec0"/>
<path d="M164.4 219.3L168.1 216.7L171.7 219.0L167.9 221.5z" fill="#422ec0"/>
<path d="M157.0 219.3L160.8 216.7L164.4 219.3L160.6 221.8z" fill="#422ec0"/>
<path d="M149.7 219.1L153.5 216.2L157.0 219.3L153.3 221.9z" fill="#422ec0"/>
<path d="M142.4 217.9L146.2 214.7L149.7 219.1L146.0 221.8z" fill="#4332cb"/>
<path d="M135.1 215.9L138.9 212.7L142.4 217.9L138.6 220.9z" fill="#4537d5"/>
<path d="M127.8 213.7L131.6 210.3L135.1 215.9L131.3 219.2z" fill="#4741e5"/>
<path d="M120.5 210.9L124.3 207.4L127.8 213.7L124.0 217.0z" fill="#484df0"/>
<path d="M113.2 207.7L116.9 204.2L120.5 210.9L116.7 214.4z" fill="#465efb"/>
<path d="M105.9 204.5L109.6 201.1L113.2 207.7L109.4 211.3z" fill="#3e6fff"/>
<path d="M98.5 201.2L102.3 197.9L105.9 204.5L102.1 208.0z" fill="#2f81fa"/>
<path d="M91.2 197.9L95.0 194.7L98.5 201.2L94.8 204.6z" fill="#2b91ef"/>
<path d="M83.9 194.1L87.7 191.0L91.2 197.9L87.5 201.2z" fill="#20a5e3"/>
<path d="M76.6 189.8L80.4 186.7L83.9 194.1L80.1 197.3z" fill="#08b5d0"/>
<path d="M69.3 184.8L73.1 182.0L76.6 189.8L72.8 192.9z" fill="#24c1ae"/>
<path d="M62.0 180.0L65.8 177.6L69.3 184.8L65.5 187.8z" fill="#4acb84"/>
<path d="M54.7 175.6L58.4 173.5L62.0 180.0L58.2 182.6z" fill="#8fcb4e"/>
<path d="M47.4 171.3L51.1 169.4L54.7 175.6L50.9 177.8z" fill="#c5c22a"/>
<path d="M40.0 166.8L43.8 165.2L47.4 171.3L43.6 173.2z" fill="#f8ba3d"/>
<path d="M32.7 162.6L36.5 161.4L40.0 166.8L36.3 168.5z" fill="#fad62d"/>
<path d="M284.9 207.7L288.7 205.4L292.2 207.4L288.4 209.8z" fill="#2e87f7"/>
<path d="M277.6 208.1L281.4 205.7L284.9 207.7L281.1 210.1z" fill="#2f81fa"/>
<path d="M270.3 208.4L274.0 206.1L277.6 208.1L273.8 210.4z" fill="#2f81fa"/>
<path d="M262.9 208.8L266.7 206.4L270.3 208.4L266.5 210.8z" fill="#327cfc"/>
<path d="M255.6 209.1L259.4 206.8L262.9 208.8L259.2 211.1z" fill="#327cfc"/>
<path d="M248.3 209.6L252.1 207.2L255.6 209.1L251.9 211.5z" fill="#3875fe"/>
<path d="M241.0 210.1L244.8 207.8L248.3 209.6L244.5 211.9z" fill="#3e6fff"/>
<path d="M233.7 210.8L237.5 208.5L241.0 210.1L237.2 212.5z" fill="#4269fe"/>
<path d="M226.4 211.6L230.2 209.3L233.7 210.8L229.9 213.1z" fill="#4269fe"/>
<path d="M219.1 212.4L222.9 210.2L226.4 211.6L222.6 213.8z" fill="#4563fd"/>
<path d="M211.8 213.5L215.5 211.3L219.1 212.4L215.3 214.7z" fill="#4758f8"/>
<path d="M204.5 214.9L208.2 212.7L211.8 213.5L208.0 215.7z" fill="#4852f4"/>
<path d="M197.1 216.4L200.9 214.3L204.5 214.9L200.7 217.0z" fill="#4747eb"/>
<path d="M189.8 218.2L193.6 216.0L197.1 216.4L193.4 218.6z" fill="#4741e5"/>
<path d="M182.5 219.6L186.3 217.4L189.8 218.2L186.0 220.3z" fill="#4537d5"/>
<path d="M175.2 220.7L179.0 218.4L182.5 219.6L178.7 221.8z" fill="#4332cb"/>
<path d="M167.9 221.5L171.7 219.0L175.2 220.7L171.4 223.0z" fill="#422ec0"/>
<path d="M160.6 221.8L164.4 219.3L167.9 221.5L164.1 224.0z" fill="#422ec0"/>
<path d="M153.3 221.9L157.0 219.3L160.6 221.8L156.8 224.3z" fill="#422ec0"/>
<path d="M146.0 221.8L149.7 219.1L153.3 221.9L149.5 224.5z" fill="#402ab4"/>
<path d="M138.6 220.9L142.4 217.9L146.0 221.8L142.2 224.4z" fill="#422ec0"/>
<path d="M131.3 219.2L135.1 215.9L138.6 220.9L134.9 223.9z" fill="#4332cb"/>
<path d="M124.0 217.0L127.8 213.7L131.3 219.2L127.5 222.4z" fill="#463cde"/>
<path d="M116.7 214.4L120.5 210.9L124.0 217.0L120.2 220.2z" fill="#4747eb"/>
<path d="M109.4 211.3L113.2 207.7L116.7 214.4L112.9 217.9z" fill="#4758f8"/>
<path d="M102.1 208.0L105.9 204.5L109.4 211.3L105.6 214.9z" fill="#4269fe"/>
<path d="M94.8 204.6L98.5 201.2L102.1 208.0L98.3 211.5z" fill="#327cfc"/>
<path d="M87.5 201.2L91.2 197.9L94.8 204.6L91.0 208.1z" fill="#2d8cf3"/>
<path d="M80.1 197.3L83.9 194.1L87.5 201.2L83.7 204.5z" fill="#23a0e5"/>
<path d="M72.8 192.9L76.6 189.8L80.1 197.3L76.4 200.6z" fill="#12b1d6"/>
<path d="M65.5 187.8L69.3 184.8L72.8 192.9L69.0 196.1z" fill="#19bfb6"/>
<path d="M58.2 182.6L62.0 180.0L65.5 187.8L61.7 190.9z" fill="#4acb84"/>
<path d="M50.9 177.8L54.7 175.6L58.2 182.6L54.4 185.3z" fill="#8fcb4e"/>
<path d="M43.6 173.2L47.4 171.3L50.9 177.8L47.1 180.1z" fill="#d1bf27"/>
<path d="M36.3 168.5L40.0 166.8L43.6 173.2L39.8 175.2z" fill="#febe3c"/>
<path d="M281.1 210.1L284.9 207.7L288.4 209.8L284.6 212.1z" fill="#2e87f7"/>
<path d="M273.8 210.4L277.6 208.1L281.1 210.1L277.3 212.4z" fill="#2f81fa"/>
<path d="M266.5 210.8L270.3 208.4L273.8 210.4L270.0 212.8z" fill="#2f81fa"/>
<path d="M259.2 211.1L262.9 208.8L266.5 210.8L262.7 213.2z" fill="#327cfc"/>
<path d="M251.9 211.5L255.6 209.1L259.2 211.1L255.4 213.5z" fill="#327cfc"/>
<path d="M244.5 211.9L248.3 209.6L251.9 211.5L248.1 213.9z" fill="#3875fe"/>
<path d="M237.2 212.5L241.0 210.1L244.5 211.9L240.8 214.3z" fill="#3e6fff"/>
<path d="M229.9 213.1L233.7 210.8L237.2 212.5L233.5 214.8z" fill="#3e6fff"/>
<path d="M222.6 213.8L226.4 211.6L229.9 213.1L226.1 215.5z" fill="#4269fe"/>
<path d="M215.3 214.7L219.1 212.4L222.6 213.8L218.8 216.1z" fill="#4563fd"/>
<path d="M208.0 215.7L211.8 213.5L215.3 214.7L211.5 216.9z" fill="#465efb"/>
<path d="M200.7 217.0L204.5 214.9L208.0 215.7L204.2 217.9z" fill="#4852f4"/>
<path d="M193.4 218.6L197.1 216.4L200.7 217.0L196.9 219.2z" fill="#484df0"/>
<path d="M186.0 220.3L189.8 218.2L193.4 218.6L189.6 220.7z" fill="#4741e5"/>
<path d="M178.7 221.8L182.5 219.6L186.0 220.3L182.3 222.4z" fill="#4537d5"/>
<path d="M171.4 223.0L175.2 220.7L178.7 221.8L175.0 224.0z" fill="#4332cb"/>
<path d="M164.1 224.0L167.9 221.5L171.4 223.0L167.6 225.3z" fill="#422ec0"/>
<path d="M156.8 224.3L160.6 221.8L164.1 224.0L160.3 226.3z" fill="#422ec0"/>
<path d="M149.5 224.5L153.3 221.9L156.8 224.3L153.0 226.8z" fill="#402ab4"/>
<path d="M142.2 224.4L146.0 221.8L149.5 224.5L145.7 227.0z" fill="#402ab4"/>
<path d="M134.9 223.9L138.6 220.9L142.2 224.4L138.4 227.0z" fill="#422ec0"/>
<path d="M127.5 222.4L131.3 219.2L134.9 223.9L131.1 226.8z" fill="#4332cb"/>
<path d="M120.2 220.2L124.0 217.0L127.5 222.4L123.8 225.5z" fill="#4537d5"/>
<path d="M112.9 217.9L116.7 214.4L120.2 220.2L116.5 223.5z" fill="#4741e5"/>
<path d="M105.6 214.9L109.4 211.3L112.9 217.9L109.1 221.3z" fill="#4852f4"/>
<path d="M98.3 211.5L102.1 208.0L105.6 214.9L101.8 218.5z" fill="#4563fd"/>
<path d="M91.0 208.1L94.8 204.6L98.3 211.5L94.5 215.1z" fill="#3875fe"/>
<path d="M83.7 204.5L87.5 201.2L91.0 208.1L87.2 211.6z" fill="#2e87f7"/>
<path d="M76.4 200.6L80.1 197.3L83.7 204.5L79.9 207.9z" fill="#259be8"/>
<path d="M69.0 196.1L72.8 192.9L76.4 200.6L72.6 204.0z" fill="#18addb"/>
<path d="M61.7 190.9L65.5 187.8L69.0 196.1L65.3 199.4z" fill="#19bfb6"/>
<path d="M54.4 185.3L58.2 182.6L61.7 190.9L58.0 194.1z" fill="#3fca8e"/>
<path d="M47.1 180.1L50.9 177.8L54.4 185.3L50.6 188.1z" fill="#8fcb4e"/>
<path d="M39.8 175.2L43.6 173.2L47.1 180.1L43.3 182.5z" fill="#d1bf27"/>
<path d="M277.3 212.4L281.1 210.1L284.6 212.1L280.9 214.5z" fill="#2e87f7"/>
<path d="M270.0 212.8L273.8 210.4L277.3 212.4L273.5 214.8z" fill="#2f81fa"/>
<path d="M262.7 213.2L266.5 210.8L270.0 212.8L266.2 215.1z" fill="#2f81fa"/>
<path d="M255.4 213.5L259.2 211.1L262.7 213.2L258.9 215.5z" fill="#327cfc"/>
<path d="M248.1 213.9L251.9 211.5L255.4 213.5L251.6 215.9z" fill="#327cfc"/>
<path d="M240.8 214.3L244.5 211.9L248.1 213.9L244.3 216.3z" fill="#3875fe"/>
<path d="M233.5 214.8L237.2 212.5L240.8 214.3L237.0 216.7z" fill="#3e6fff"/>
<path d="M226.1 215.5L229.9 213.1L233.5 214.8L229.7 217.2z" fill="#3e6fff"/>
<path d="M218.8 216.1L222.6 213.8L226.1 215.5L222.4 217.8z" fill="#4269fe"/>
<path d="M211.5 216.9L215.3 214.7L218.8 216.1L215.0 218.4z" fill="#4563fd"/>
<path d="M204.2 217.9L208.0 215.7L211.5 216.9L207.7 219.2z" fill="#465efb"/>
<path d="M196.9 219.2L200.7 217.0L204.2 217.9L200.4 220.2z" fill="#4852f4"/>
<path d="M189.6 220.7L193.4 218.6L196.9 219.2L193.1 221.4z" fill="#484df0"/>
<path d="M182.3 222.4L186.0 220.3L189.6 220.7L185.8 222.8z" fill="#4741e5"/>
<path d="M175.0 224.0L178.7 221.8L182.3 222.4L178.5 224.5z" fill="#463cde"/>
<path d="M167.6 225.3L171.4 223.0L175.0 224.0L171.2 226.1z" fill="#4332cb"/>
<path d="M160.3 226.3L164.1 224.0L167.6 225.3L163.9 227.5z" fill="#422ec0"/>
<path d="M153.0 226.8L156.8 224.3L160.3 226.3L156.5 228.6z" fill="#422ec0"/>
<path d="M145.7 227.0L149.5 224.5L153.0 226.8L149.2 229.3z" fill="#402ab4"/>
<path d="M138.4 227.0L142.2 224.4L145.7 227.0L141.9 229.5z" fill="#402ab4"/>
<path d="M131.1 226.8L134.9 223.9L138.4 227.0L134.6 229.6z" fill="#402ab4"/>
<path d="M123.8 225.5L127.5 222.4L131.1 226.8L127.3 229.5z" fill="#422ec0"/>
<path d="M116.5 223.5L120.2 220.2L123.8 225.5L120.0 228.6z" fill="#4537d5"/>
<path d="M109.1 221.3L112.9 217.9L116.5 223.5L112.7 226.8z" fill="#463cde"/>
<path d="M101.8 218.5L105.6 214.9L109.1 221.3L105.4 224.6z" fill="#484df0"/>
<path d="M94.5 215.1L98.3 211.5L101.8 218.5L98.0 222.0z" fill="#465efb"/>
<path d="M87.2 211.6L91.0 208.1L94.5 215.1L90.7 218.7z" fill="#3e6fff"/>
<path d="M79.9 207.9L83.7 204.5L87.2 211.6L83.4 215.2z" fill="#2f81fa"/>
<path d="M72.6 204.0L76.4 200.6L79.9 207.9L76.1 211.5z" fill="#2797eb"/>
<path d="M65.3 199.4L69.0 196.1L72.6 204.0L68.8 207.4z" fill="#1ca9df"/>
<path d="M58.0 194.1L61.7 190.9L65.3 199.4L61.5 202.7z" fill="#0bbdbd"/>
<path d="M50.6 188.1L54.4 185.3L58.0 194.1L54.2 197.3z" fill="#3fca8e"/>
<path d="M43.3 182.5L47.1 180.1L50.6 188.1L46.9 191.1z" fill="#8fcb4e"/>
<path d="M273.5 214.8L277.3 212.4L280.9 214.5L277.1 216.8z" fill="#2e87f7"/>
<path d="M266.2 215.1L270.0 212.8L273.5 214.8L269.8 217.1z" fill="#2f81fa"/>
<path d="M258.9 215.5L262.7 213.2L266.2 215.1L262.5 217.5z" fill="#2f81fa"/>
<path d="M251.6 215.9L255.4 213.5L258.9 215.5L255.1 217.9z" fill="#327cfc"/>
<path d="M244.3 216.3L248.1 213.9L251.6 215.9L247.8 218.2z" fill="#327cfc"/>
<path d="M237.0 216.7L240.8 214.3L244.3 216.3L240.5 218.6z" fill="#3875fe"/>
<path d="M229.7 217.2L233.5 214.8L237.0 216.7L233.2 219.0z" fill="#3e6fff"/>
<path d="M222.4 217.8L226.1 215.5L229.7 217.2L225.9 219.5z" fill="#3e6fff"/>
<path d="M215.0 218.4L218.8 216.1L222.4 217.8L218.6 220.1z" fill="#4269fe"/>
<path d="M207.7 219.2L211.5 216.9L215.0 218.4L211.3 220.7z" fill="#4563fd"/>
<path d="M200.4 220.2L204.2 217.9L207.7 219.2L204.0 221.5z" fill="#465efb"/>
<path d="M193.1 221.4L196.9 219.2L200.4 220.2L196.6 222.4z" fill="#4758f8"/>
<path d="M185.8 222.8L189.6 220.7L193.1 221.4L189.3 223.6z" fill="#484df0"/>
<path d="M178.5 224.5L182.3 222.4L185.8 222.8L182.0 225.0z" fill="#4741e5"/>
<path d="M171.2 226.1L175.0 224.0L178.5 224.5L174.7 226.5z" fill="#463cde"/>
<path d="M163.9 227.5L167.6 225.3L171.2 226.1L167.4 228.3z" fill="#4332cb"/>
<path d="M156.5 228.6L160.3 226.3L163.9 227.5L160.1 229.7z" fill="#422ec0"/>
<path d="M149.2 229.3L153.0 226.8L156.5 228.6L152.8 230.8z" fill="#402ab4"/>
<path d="M141.9 229.5L145.7 227.0L149.2 229.3L145.5 231.7z" fill="#402ab4"/>
<path d="M134.6 229.6L138.4 227.0L141.9 229.5L138.1 232.0z" fill="#402ab4"/>
<path d="M127.3 229.5L131.1 226.8L134.6 229.6L130.8 232.1z" fill="#402ab4"/>
<path d="M120.0 228.6L123.8 225.5L127.3 229.5L123.5 232.1z" fill="#402ab4"/>
<path d="M112.7 226.8L116.5 223.5L120.0 228.6L116.2 231.6z" fill="#4332cb"/>
<path d="M105.4 224.6L109.1 221.3L112.7 226.8L108.9 230.0z" fill="#463cde"/>
<path d="M98.0 222.0L101.8 218.5L105.4 224.6L101.6 227.9z" fill="#4747eb"/>
<path d="M90.7 218.7L94.5 215.1L98.0 222.0L94.3 225.5z" fill="#4758f8"/>
<path d="M83.4 215.2L87.2 211.6L90.7 218.7L87.0 222.4z" fill="#4269fe"/>
<path d="M76.1 211.5L79.9 207.9L83.4 215.2L79.6 218.9z" fill="#327cfc"/>
<path d="M68.8 207.4L72.6 204.0L76.1 211.5L72.3 215.1z" fill="#2b91ef"/>
<path d="M61.5 202.7L65.3 199.4L68.8 207.4L65.0 210.9z" fill="#20a5e3"/>
<path d="M54.2 197.3L58.0 194.1L61.5 202.7L57.7 206.2z" fill="#02bac3"/>
<path d="M46.9 191.1L50.6 188.1L54.2 197.3L50.4 200.6z" fill="#37c897"/>
<path d="M269.8 217.1L273.5 214.8L277.1 216.8L273.3 219.2z" fill="#2e87f7"/>
<path d="M262.5 217.5L266.2 215.1L269.8 217.1L266.0 219.5z" fill="#2f81fa"/>
<path d="M255.1 217.9L258.9 215.5L262.5 217.5L258.7 219.9z" fill="#2f81fa"/>
<path d="M247.8 218.2L251.6 215.9L255.1 217.9L251.4 220.3z" fill="#327cfc"/>
<path d="M240.5 218.6L244.3 216.3L247.8 218.2L244.1 220.6z" fill="#327cfc"/>
<path d="M233.2 219.0L237.0 216.7L240.5 218.6L236.7 221.0z" fill="#3875fe"/>
<path d="M225.9 219.5L229.7 217.2L233.2 219.0L229.4 221.4z" fill="#3e6fff"/>
<path d="M218.6 220.1L222.4 217.8L225.9 219.5L222.1 221.9z" fill="#3e6fff"/>
<path d="M211.3 220.7L215.0 218.4L218.6 220.1L214.8 222.4z" fill="#4269fe"/>
<path d="M204.0 221.5L207.7 219.2L211.3 220.7L207.5 223.0z" fill="#4563fd"/>
<path d="M196.6 222.4L200.4 220.2L204.0 221.5L200.2 223.7z" fill="#465efb"/>
<path d="M189.3 223.6L193.1 221.4L196.6 222.4L192.9 224.6z" fill="#4758f8"/>
<path d="M182.0 225.0L185.8 222.8L189.3 223.6L185.6 225.7z" fill="#484df0"/>
<path d="M174.7 226.5L178.5 224.5L182.0 225.0L178.2 227.1z" fill="#4747eb"/>
<path d="M167.4 228.3L171.2 226.1L174.7 226.5L170.9 228.6z" fill="#463cde"/>
<path d="M160.1 229.7L163.9 227.5L167.4 228.3L163.6 230.3z" fill="#4332cb"/>
<path d="M152.8 230.8L156.5 228.6L160.1 229.7L156.3 231.9z" fill="#422ec0"/>
<path d="M145.5 231.7L149.2 229.3L152.8 230.8L149.0 233.1z" fill="#402ab4"/>
<path d="M138.1 232.0L141.9 229.5L145.5 231.7L141.7 234.1z" fill="#402ab4"/>
<path d="M130.8 232.1L134.6 229.6L138.1 232.0L134.4 234.5z" fill="#402ab4"/>
<path d="M123.5 232.1L127.3 229.5L130.8 232.1L127.1 234.6z" fill="#402ab4"/>
<path d="M116.2 231.6L120.0 228.6L123.5 232.1L119.7 234.7z" fill="#402ab4"/>
<path d="M108.9 230.0L112.7 226.8L116.2 231.6L112.4 234.4z" fill="#422ec0"/>
<path d="M101.6 227.9L105.4 224.6L108.9 230.0L105.1 233.2z" fill="#4537d5"/>
<path d="M94.3 225.5L98.0 222.0L101.6 227.9L97.8 231.2z" fill="#4741e5"/>
<path d="M87.0 222.4L90.7 218.7L94.3 225.5L90.5 228.9z" fill="#484df0"/>
<path d="M79.6 218.9L83.4 215.2L87.0 222.4L83.2 226.1z" fill="#465efb"/>
<path d="M72.3 215.1L76.1 211.5L79.6 218.9L75.9 222.6z" fill="#3875fe"/>
<path d="M65.0 210.9L68.8 207.4L72.3 215.1L68.6 218.8z" fill="#2d8cf3"/>
<path d="M57.7 206.2L61.5 202.7L65.0 210.9L61.2 214.5z" fill="#23a0e5"/>
<path d="M50.4 200.6L54.2 197.3L57.7 206.2L53.9 209.7z" fill="#01b8ca"/>
<path d="M266.0 219.5L269.8 217.1L273.3 219.2L269.5 221.5z" fill="#2e87f7"/>
<path d="M258.7 219.9L262.5 217.5L266.0 219.5L262.2 221.9z" fill="#2f81fa"/>
<path d="M251.4 220.3L255.1 217.9L258.7 219.9L254.9 222.2z" fill="#2f81fa"/>
<path d="M244.1 220.6L247.8 218.2L251.4 220.3L247.6 222.6z" fill="#327cfc"/>
<path d="M236.7 221.0L240.5 218.6L244.1 220.6L240.3 223.0z" fill="#327cfc"/>
<path d="M229.4 221.4L233.2 219.0L236.7 221.0L233.0 223.4z" fill="#3875fe"/>
<path d="M222.1 221.9L225.9 219.5L229.4 221.4L225.6 223.8z" fill="#3e6fff"/>
<path d="M214.8 222.4L218.6 220.1L222.1 221.9L218.3 224.2z" fill="#3e6fff"/>
<path d="M207.5 223.0L211.3 220.7L214.8 222.4L211.0 224.8z" fill="#4269fe"/>
<path d="M200.2 223.7L204.0 221.5L207.5 223.0L203.7 225.3z" fill="#4563fd"/>
<path d="M192.9 224.6L196.6 222.4L200.2 223.7L196.4 226.0z" fill="#465efb"/>
<path d="M185.6 225.7L189.3 223.6L192.9 224.6L189.1 226.9z" fill="#4758f8"/>
<path d="M178.2 227.1L182.0 225.0L185.6 225.7L181.8 227.9z" fill="#484df0"/>
<path d="M170.9 228.6L174.7 226.5L178.2 227.1L174.5 229.2z" fill="#4747eb"/>
<path d="M163.6 230.3L167.4 228.3L170.9 228.6L167.1 230.8z" fill="#463cde"/>
<path d="M156.3 231.9L160.1 229.7L163.6 230.3L159.8 232.4z" fill="#4537d5"/>
<path d="M149.0 233.1L152.8 230.8L156.3 231.9L152.5 234.0z" fill="#422ec0"/>
<path d="M141.7 234.1L145.5 231.7L149.0 233.1L145.2 235.3z" fill="#402ab4"/>
<path d="M134.4 234.5L138.1 232.0L141.7 234.1L137.9 236.3z" fill="#402ab4"/>
<path d="M127.1 234.6L130.8 232.1L134.4 234.5L130.6 236.9z" fill="#402ab4"/>
<path d="M119.7 234.7L123.5 232.1L127.1 234.6L123.3 237.1z" fill="#3e26a8"/>
<path d="M112.4 234.4L116.2 231.6L119.7 234.7L116.0 237.2z" fill="#3e26a8"/>
<path d="M105.1 233.2L108.9 230.0L112.4 234.4L108.6 237.1z" fill="#402ab4"/>
<path d="M97.8 231.2L101.6 227.9L105.1 233.2L101.3 236.2z" fill="#4332cb"/>
<path d="M90.5 228.9L94.3 225.5L97.8 231.2L94.0 234.4z" fill="#463cde"/>
<path d="M83.2 226.1L87.0 222.4L90.5 228.9L86.7 232.2z" fill="#4747eb"/>
<path d="M75.9 222.6L79.6 218.9L83.2 226.1L79.4 229.8z" fill="#4758f8"/>
<path d="M68.6 218.8L72.3 215.1L75.9 222.6L72.1 226.4z" fill="#3e6fff"/>
<path d="M61.2 214.5L65.0 210.9L68.6 218.8L64.8 222.6z" fill="#2e87f7"/>
<path d="M53.9 209.7L57.7 206.2L61.2 214.5L57.5 218.3z" fill="#259be8"/>
<path d="M262.2 221.9L266.0 219.5L269.5 221.5L265.7 223.9z" fill="#2e87f7"/>
<path d="M254.9 222.2L258.7 219.9L262.2 221.9L258.4 224.2z" fill="#2f81fa"/>
<path d="M247.6 222.6L251.4 220.3L254.9 222.2L251.1 224.6z" fill="#2f81fa"/>
<path d="M240.3 223.0L244.1 220.6L247.6 222.6L243.8 225.0z" fill="#327cfc"/>
<path d="M233.0 223.4L236.7 221.0L240.3 223.0L236.5 225.4z" fill="#327cfc"/>
<path d="M225.6 223.8L229.4 221.4L233.0 223.4L229.2 225.7z" fill="#3875fe"/>
<path d="M218.3 224.2L222.1 221.9L225.6 223.8L221.9 226.1z" fill="#3e6fff"/>
<path d="M211.0 224.8L214.8 222.4L218.3 224.2L214.6 226.6z" fill="#3e6fff"/>
<path d="M203.7 225.3L207.5 223.0L211.0 224.8L207.2 227.1z" fill="#4269fe"/>
<path d="M196.4 226.0L200.2 223.7L203.7 225.3L199.9 227.6z" fill="#4563fd"/>
<path d="M189.1 226.9L192.9 224.6L196.4 226.0L192.6 228.3z" fill="#465efb"/>
<path d="M181.8 227.9L185.6 225.7L189.1 226.9L185.3 229.1z" fill="#4758f8"/>
<path d="M174.5 229.2L178.2 227.1L181.8 227.9L178.0 230.1z" fill="#4852f4"/>
<path d="M167.1 230.8L170.9 228.6L174.5 229.2L170.7 231.4z" fill="#4747eb"/>
<path d="M159.8 232.4L163.6 230.3L167.1 230.8L163.4 232.9z" fill="#463cde"/>
<path d="M152.5 234.0L156.3 231.9L159.8 232.4L156.1 234.5z" fill="#4537d5"/>
<path d="M145.2 235.3L149.0 233.1L152.5 234.0L148.7 236.1z" fill="#4332cb"/>
<path d="M137.9 236.3L141.7 234.1L145.2 235.3L141.4 237.5z" fill="#402ab4"/>
<path d="M130.6 236.9L134.4 234.5L137.9 236.3L134.1 238.6z" fill="#402ab4"/>
<path d="M123.3 237.1L127.1 234.6L130.6 236.9L126.8 239.4z" fill="#3e26a8"/>
<path d="M116.0 237.2L119.7 234.7L123.3 237.1L119.5 239.6z" fill="#3e26a8"/>
<path d="M108.6 237.1L112.4 234.4L116.0 237.2L112.2 239.7z" fill="#3e26a8"/>
<path d="M101.3 236.2L105.1 233.2L108.6 237.1L104.9 239.7z" fill="#402ab4"/>
<path d="M94.0 234.4L97.8 231.2L101.3 236.2L97.6 239.2z" fill="#422ec0"/>
<path d="M86.7 232.2L90.5 228.9L94.0 234.4L90.2 237.6z" fill="#4537d5"/>
<path d="M79.4 229.8L83.2 226.1L86.7 232.2L82.9 235.5z" fill="#4741e5"/>
<path d="M72.1 226.4L75.9 222.6L79.4 229.8L75.6 233.3z" fill="#4852f4"/>
<path d="M64.8 222.6L68.6 218.8L72.1 226.4L68.3 230.2z" fill="#4563fd"/>
<path d="M57.5 218.3L61.2 214.5L64.8 222.6L61.0 226.3z" fill="#327cfc"/>
<path d="M258.4 224.2L262.2 221.9L265.7 223.9L262.0 226.2z" fill="#2e87f7"/>
<path d="M251.1 224.6L254.9 222.2L258.4 224.2L254.6 226.6z" fill="#2f81fa"/>
<path d="M243.8 225.0L247.6 222.6L251.1 224.6L247.3 226.9z" fill="#2f81fa"/>
<path d="M236.5 225.4L240.3 223.0L243.8 225.0L240.0 227.3z" fill="#327cfc"/>
<path d="M229.2 225.7L233.0 223.4L236.5 225.4L232.7 227.7z" fill="#327cfc"/>
<path d="M221.9 226.1L225.6 223.8L229.2 225.7L225.4 228.1z" fill="#3875fe"/>
<path d="M214.6 226.6L218.3 224.2L221.9 226.1L218.1 228.5z" fill="#3e6fff"/>
<path d="M207.2 227.1L211.0 224.8L214.6 226.6L210.8 228.9z" fill="#3e6fff"/>
<path d="M199.9 227.6L203.7 225.3L207.2 227.1L203.5 229.4z" fill="#4269fe"/>
<path d="M192.6 228.3L196.4 226.0L199.9 227.6L196.1 230.0z" fill="#4563fd"/>
<path d="M185.3 229.1L189.1 226.9L192.6 228.3L188.8 230.6z" fill="#465efb"/>
<path d="M178.0 230.1L181.8 227.9L185.3 229.1L181.5 231.4z" fill="#4758f8"/>
<path d="M170.7 231.4L174.5 229.2L178.0 230.1L174.2 232.3z" fill="#4852f4"/>
<path d="M163.4 232.9L167.1 230.8L170.7 231.4L166.9 233.6z" fill="#4747eb"/>
<path d="M156.1 234.5L159.8 232.4L163.4 232.9L159.6 235.0z" fill="#4741e5"/>
<path d="M148.7 236.1L152.5 234.0L156.1 234.5L152.3 236.5z" fill="#4537d5"/>
<path d="M141.4 237.5L145.2 235.3L148.7 236.1L145.0 238.2z" fill="#4332cb"/>
<path d="M134.1 238.6L137.9 236.3L141.4 237.5L137.6 239.6z" fill="#422ec0"/>
<path d="M126.8 239.4L130.6 236.9L134.1 238.6L130.3 240.8z" fill="#402ab4"/>
<path d="M119.5 239.6L123.3 237.1L126.8 239.4L123.0 241.7z" fill="#3e26a8"/>
<path d="M112.2 239.7L116.0 237.2L119.5 239.6L115.7 242.1z" fill="#3e26a8"/>
<path d="M104.9 239.7L108.6 237.1L112.2 239.7L108.4 242.2z" fill="#3e26a8"/>
<path d="M97.6 239.2L101.3 236.2L104.9 239.7L101.1 242.2z" fill="#3e26a8"/>
<path d="M90.2 237.6L94.0 234.4L97.6 239.2L93.8 242.0z" fill="#402ab4"/>
<path d="M82.9 235.5L86.7 232.2L90.2 237.6L86.5 240.8z" fill="#4332cb"/>
<path d="M75.6 233.3L79.4 229.8L82.9 235.5L79.1 238.8z" fill="#463cde"/>
<path d="M68.3 230.2L72.1 226.4L75.6 233.3L71.8 236.7z" fill="#484df0"/>
<path d="M61.0 226.3L64.8 222.6L68.3 230.2L64.5 233.9z" fill="#465efb"/>
<path d="M254.6 226.6L258.4 224.2L262.0 226.2L258.2 228.6z" fill="#2e87f7"/>
<path d="M247.3 226.9L251.1 224.6L254.6 226.6L250.9 228.9z" fill="#2f81fa"/>
<path d="M240.0 227.3L243.8 225.0L247.3 226.9L243.6 229.3z" fill="#2f81fa"/>
<path d="M232.7 227.7L236.5 225.4L240.0 227.3L236.2 229.7z" fill="#327cfc"/>
<path d="M225.4 228.1L229.2 225.7L232.7 227.7L228.9 230.1z" fill="#327cfc"/>
<path d="M218.1 228.5L221.9 226.1L225.4 228.1L221.6 230.5z" fill="#3875fe"/>
<path d="M210.8 228.9L214.6 226.6L218.1 228.5L214.3 230.9z" fill="#3e6fff"/>
<path d="M203.5 229.4L207.2 227.1L210.8 228.9L207.0 231.3z" fill="#3e6fff"/>
<path d="M196.1 230.0L199.9 227.6L203.5 229.4L199.7 231.8z" fill="#4269fe"/>
<path d="M188.8 230.6L192.6 228.3L196.1 230.0L192.4 232.3z" fill="#4563fd"/>
<path d="M181.5 231.4L185.3 229.1L188.8 230.6L185.1 232.9z" fill="#465efb"/>
<path d="M174.2 232.3L178.0 230.1L181.5 231.4L177.7 233.6z" fill="#4758f8"/>
<path d="M166.9 233.6L170.7 231.4L174.2 232.3L170.4 234.6z" fill="#4852f4"/>
<path d="M159.6 235.0L163.4 232.9L166.9 233.6L163.1 235.7z" fill="#484df0"/>
<path d="M152.3 236.5L156.1 234.5L159.6 235.0L155.8 237.1z" fill="#4741e5"/>
<path d="M145.0 238.2L148.7 236.1L152.3 236.5L148.5 238.6z" fill="#4537d5"/>
<path d="M137.6 239.6L141.4 237.5L145.0 238.2L141.2 240.3z" fill="#4332cb"/>
<path d="M130.3 240.8L134.1 238.6L137.6 239.6L133.9 241.8z" fill="#422ec0"/>
<path d="M123.0 241.7L126.8 239.4L130.3 240.8L126.6 243.0z" fill="#402ab4"/>
<path d="M115.7 242.1L119.5 239.6L123.0 241.7L119.2 244.0z" fill="#3e26a8"/>
<path d="M108.4 242.2L112.2 239.7L115.7 242.1L111.9 244.5z" fill="#3e26a8"/>
<path d="M101.1 242.2L104.9 239.7L108.4 242.2L104.6 244.6z" fill="#3e26a8"/>
<path d="M93.8 242.0L97.6 239.2L101.1 242.2L97.3 244.7z" fill="#3e26a8"/>
<path d="M86.5 240.8L90.2 237.6L93.8 242.0L90.0 244.6z" fill="#402ab4"/>
<path d="M79.1 238.8L82.9 235.5L86.5 240.8L82.7 243.8z" fill="#422ec0"/>
<path d="M71.8 236.7L75.6 233.3L79.1 238.8L75.4 242.0z" fill="#4537d5"/>
<path d="M64.5 233.9L68.3 230.2L71.8 236.7L68.1 240.0z" fill="#4741e5"/>
<path d="M250.9 228.9L254.6 226.6L258.2 228.6L254.4 230.9z" fill="#2e87f7"/>
<path d="M243.6 229.3L247.3 226.9L250.9 228.9L247.1 231.3z" fill="#2f81fa"/>
<path d="M236.2 229.7L240.0 227.3L243.6 229.3L239.8 231.7z" fill="#2f81fa"/>
<path d="M228.9 230.1L232.7 227.7L236.2 229.7L232.5 232.1z" fill="#327cfc"/>
<path d="M221.6 230.5L225.4 228.1L228.9 230.1L225.2 232.5z" fill="#327cfc"/>
<path d="M214.3 230.9L218.1 228.5L221.6 230.5L217.8 232.8z" fill="#3875fe"/>
<path d="M207.0 231.3L210.8 228.9L214.3 230.9L210.5 233.2z" fill="#3e6fff"/>
<path d="M199.7 231.8L203.5 229.4L207.0 231.3L203.2 233.6z" fill="#3e6fff"/>
<path d="M192.4 232.3L196.1 230.0L199.7 231.8L195.9 234.1z" fill="#4269fe"/>
<path d="M185.1 232.9L188.8 230.6L192.4 232.3L188.6 234.6z" fill="#4563fd"/>
<path d="M177.7 233.6L181.5 231.4L185.1 232.9L181.3 235.2z" fill="#4563fd"/>
<path d="M170.4 234.6L174.2 232.3L177.7 233.6L174.0 235.9z" fill="#4758f8"/>
<path d="M163.1 235.7L166.9 233.6L170.4 234.6L166.7 236.8z" fill="#4852f4"/>
<path d="M155.8 237.1L159.6 235.0L163.1 235.7L159.3 237.9z" fill="#484df0"/>
<path d="M148.5 238.6L152.3 236.5L155.8 237.1L152.0 239.2z" fill="#4741e5"/>
<path d="M141.2 240.3L145.0 238.2L148.5 238.6L144.7 240.7z" fill="#463cde"/>
<path d="M133.9 241.8L137.6 239.6L141.2 240.3L137.4 242.3z" fill="#4332cb"/>
<path d="M126.6 243.0L130.3 240.8L133.9 241.8L130.1 243.9z" fill="#422ec0"/>
<path d="M119.2 244.0L123.0 241.7L126.6 243.0L122.8 245.1z" fill="#402ab4"/>
<path d="M111.9 244.5L115.7 242.1L119.2 244.0L115.5 246.2z" fill="#3e26a8"/>
<path d="M104.6 244.6L108.4 242.2L111.9 244.5L108.2 246.9z" fill="#3e26a8"/>
<path d="M97.3 244.7L101.1 242.2L104.6 244.6L100.8 247.1z" fill="#3e26a8"/>
<path d="M90.0 244.6L93.8 242.0L97.3 244.7L93.5 247.1z" fill="#3e26a8"/>
<path d="M82.7 243.8L86.5 240.8L90.0 244.6L86.2 247.1z" fill="#3e26a8"/>
<path d="M75.4 242.0L79.1 238.8L82.7 243.8L78.9 246.6z" fill="#422ec0"/>
<path d="M68.1 240.0L71.8 236.7L75.4 242.0L71.6 245.2z" fill="#4332cb"/>
<path d="M247.1 231.3L250.9 228.9L254.4 230.9L250.6 233.3z" fill="#2e87f7"/>
<path d="M239.8 231.7L243.6 229.3L247.1 231.3L243.3 233.6z" fill="#2f81fa"/>
<path d="M232.5 232.1L236.2 229.7L239.8 231.7L236.0 234.0z" fill="#2f81fa"/>
<path d="M225.2 232.5L228.9 230.1L232.5 232.1L228.7 234.4z" fill="#327cfc"/>
<path d="M217.8 232.8L221.6 230.5L225.2 232.5L221.4 234.8z" fill="#327cfc"/>
<path d="M210.5 233.2L214.3 230.9L217.8 232.8L214.1 235.2z" fill="#3875fe"/>
<path d="M203.2 233.6L207.0 231.3L210.5 233.2L206.7 235.6z" fill="#3e6fff"/>
<path d="M195.9 234.1L199.7 231.8L203.2 233.6L199.4 236.0z" fill="#3e6fff"/>
<path d="M188.6 234.6L192.4 232.3L195.9 234.1L192.1 236.4z" fill="#4269fe"/>
<path d="M181.3 235.2L185.1 232.9L188.6 234.6L184.8 236.9z" fill="#4563fd"/>
<path d="M174.0 235.9L177.7 233.6L181.3 235.2L177.5 237.5z" fill="#4563fd"/>
<path d="M166.7 236.8L170.4 234.6L174.0 235.9L170.2 238.2z" fill="#465efb"/>
<path d="M159.3 237.9L163.1 235.7L166.7 236.8L162.9 239.0z" fill="#4852f4"/>
<path d="M152.0 239.2L155.8 237.1L159.3 237.9L155.6 240.1z" fill="#484df0"/>
<path d="M144.7 240.7L148.5 238.6L152.0 239.2L148.2 241.3z" fill="#4747eb"/>
<path d="M137.4 242.3L141.2 240.3L144.7 240.7L140.9 242.8z" fill="#463cde"/>
<path d="M130.1 243.9L133.9 241.8L137.4 242.3L133.6 244.4z" fill="#4332cb"/>
<path d="M122.8 245.1L126.6 243.0L130.1 243.9L126.3 246.0z" fill="#422ec0"/>
<path d="M115.5 246.2L119.2 244.0L122.8 245.1L119.0 247.3z" fill="#402ab4"/>
<path d="M108.2 246.9L111.9 244.5L115.5 246.2L111.7 248.4z" fill="#3e26a8"/>
<path d="M100.8 247.1L104.6 244.6L108.2 246.9L104.4 249.2z" fill="#3e26a8"/>
<path d="M93.5 247.1L97.3 244.7L100.8 247.1L97.1 249.5z" fill="#3e26a8"/>
<path d="M86.2 247.1L90.0 244.6L93.5 247.1L89.7 249.5z" fill="#3e26a8"/>
<path d="M78.9 246.6L82.7 243.8L86.2 247.1L82.4 249.5z" fill="#3e26a8"/>
<path d="M71.6 245.2L75.4 242.0L78.9 246.6L75.1 249.3z" fill="#402ab4"/>
<path d="M243.3 233.6L247.1 231.3L250.6 233.3L246.8 235.6z" fill="#2e87f7"/>
<path d="M236.0 234.0L239.8 231.7L243.3 233.6L239.5 236.0z" fill="#2f81fa"/>
<path d="M228.7 234.4L232.5 232.1L236.0 234.0L232.2 236.4z" fill="#2f81fa"/>
<path d="M221.4 234.8L225.2 232.5L228.7 234.4L224.9 236.8z" fill="#327cfc"/>
<path d="M214.1 235.2L217.8 232.8L221.4 234.8L217.6 237.2z" fill="#327cfc"/>
<path d="M206.7 235.6L210.5 233.2L214.1 235.2L210.3 237.6z" fill="#3875fe"/>
<path d="M199.4 236.0L203.2 233.6L206.7 235.6L203.0 238.0z" fill="#3e6fff"/>
<path d="M192.1 236.4L195.9 234.1L199.4 236.0L195.7 238.3z" fill="#3e6fff"/>
<path d="M184.8 236.9L188.6 234.6L192.1 236.4L188.3 238.8z" fill="#4269fe"/>
<path d="M177.5 237.5L181.3 235.2L184.8 236.9L181.0 239.2z" fill="#4269fe"/>
<path d="M170.2 238.2L174.0 235.9L177.5 237.5L173.7 239.8z" fill="#4563fd"/>
<path d="M162.9 239.0L166.7 236.8L170.2 238.2L166.4 240.4z" fill="#465efb"/>
<path d="M155.6 240.1L159.3 237.9L162.9 239.0L159.1 241.3z" fill="#4758f8"/>
<path d="M148.2 241.3L152.0 239.2L155.6 240.1L151.8 242.3z" fill="#484df0"/>
<path d="M140.9 242.8L144.7 240.7L148.2 241.3L144.5 243.5z" fill="#4747eb"/>
<path d="M133.6 244.4L137.4 242.3L140.9 242.8L137.2 244.9z" fill="#463cde"/>
<path d="M126.3 246.0L130.1 243.9L133.6 244.4L129.8 246.4z" fill="#4537d5"/>
<path d="M119.0 247.3L122.8 245.1L126.3 246.0L122.5 248.0z" fill="#422ec0"/>
<path d="M111.7 248.4L115.5 246.2L119.0 247.3L115.2 249.4z" fill="#402ab4"/>
<path d="M104.4 249.2L108.2 246.9L111.7 248.4L107.9 250.5z" fill="#3e26a8"/>
<path d="M97.1 249.5L100.8 247.1L104.4 249.2L100.6 251.5z" fill="#3e26a8"/>
<path d="M89.7 249.5L93.5 247.1L97.1 249.5L93.3 251.9z" fill="#3e26a8"/>
<path d="M82.4 249.5L86.2 247.1L89.7 249.5L86.0 252.0z" fill="#3e26a8"/>
<path d="M75.1 249.3L78.9 246.6L82.4 249.5L78.7 251.9z" fill="#3e26a8"/>
<path d="M239.5 236.0L243.3 233.6L246.8 235.6L243.1 238.0z" fill="#2e87f7"/>
<path d="M232.2 236.4L236.0 234.0L239.5 236.0L235.7 238.3z" fill="#2f81fa"/>
<path d="M224.9 236.8L228.7 234.4L232.2 236.4L228.4 238.7z" fill="#2f81fa"/>
<path d="M217.6 237.2L221.4 234.8L224.9 236.8L221.1 239.2z" fill="#327cfc"/>
<path d="M210.3 237.6L214.1 235.2L217.6 237.2L213.8 239.6z" fill="#327cfc"/>
<path d="M203.0 238.0L206.7 235.6L210.3 237.6L206.5 239.9z" fill="#3875fe"/>
<path d="M195.7 238.3L199.4 236.0L203.0 238.0L199.2 240.3z" fill="#3875fe"/>
<path d="M188.3 238.8L192.1 236.4L195.7 238.3L191.9 240.7z" fill="#3e6fff"/>
<path d="M181.0 239.2L184.8 236.9L188.3 238.8L184.6 241.1z" fill="#4269fe"/>
<path d="M173.7 239.8L177.5 237.5L181.0 239.2L177.2 241.6z" fill="#4269fe"/>
<path d="M166.4 240.4L170.2 238.2L173.7 239.8L169.9 242.1z" fill="#4563fd"/>
<path d="M159.1 241.3L162.9 239.0L166.4 240.4L162.6 242.7z" fill="#465efb"/>
<path d="M151.8 242.3L155.6 240.1L159.1 241.3L155.3 243.5z" fill="#4758f8"/>
<path d="M144.5 243.5L148.2 241.3L151.8 242.3L148.0 244.5z" fill="#484df0"/>
<path d="M137.2 244.9L140.9 242.8L144.5 243.5L140.7 245.6z" fill="#4747eb"/>
<path d="M129.8 246.4L133.6 244.4L137.2 244.9L133.4 247.0z" fill="#463cde"/>
<path d="M122.5 248.0L126.3 246.0L129.8 246.4L126.1 248.5z" fill="#4537d5"/>
<path d="M115.2 249.4L119.0 247.3L122.5 248.0L118.7 250.1z" fill="#422ec0"/>
<path d="M107.9 250.5L111.7 248.4L115.2 249.4L111.4 251.5z" fill="#402ab4"/>
<path d="M100.6 251.5L104.4 249.2L107.9 250.5L104.1 252.7z" fill="#3e26a8"/>
<path d="M93.3 251.9L97.1 249.5L100.6 251.5L96.8 253.6z" fill="#3e26a8"/>
<path d="M86.0 252.0L89.7 249.5L93.3 251.9L89.5 254.3z" fill="#3e26a8"/>
<path d="M78.7 251.9L82.4 249.5L86.0 252.0L82.2 254.3z" fill="#3e26a8"/>
<path d="M235.7 238.3L239.5 236.0L243.1 238.0L239.3 240.3z" fill="#2e87f7"/>
<path d="M228.4 238.7L232.2 236.4L235.7 238.3L232.0 240.7z" fill="#2f81fa"/>
<path d="M221.1 239.2L224.9 236.8L228.4 238.7L224.7 241.1z" fill="#2f81fa"/>
<path d="M213.8 239.6L217.6 237.2L221.1 239.2L217.3 241.5z" fill="#327cfc"/>
<path d="M206.5 239.9L210.3 237.6L213.8 239.6L210.0 241.9z" fill="#327cfc"/>
<path d="M199.2 240.3L203.0 238.0L206.5 239.9L202.7 242.3z" fill="#3875fe"/>
<path d="M191.9 240.7L195.7 238.3L199.2 240.3L195.4 242.7z" fill="#3875fe"/>
<path d="M184.6 241.1L188.3 238.8L191.9 240.7L188.1 243.1z" fill="#3e6fff"/>
<path d="M177.2 241.6L181.0 239.2L184.6 241.1L180.8 243.5z" fill="#4269fe"/>
<path d="M169.9 242.1L173.7 239.8L177.2 241.6L173.5 243.9z" fill="#4269fe"/>
<path d="M162.6 242.7L166.4 240.4L169.9 242.1L166.2 244.4z" fill="#4563fd"/>
<path d="M155.3 243.5L159.1 241.3L162.6 242.7L158.8 245.0z" fill="#465efb"/>
<path d="M148.0 244.5L151.8 242.3L155.3 243.5L151.5 245.8z" fill="#4758f8"/>
<path d="M140.7 245.6L144.5 243.5L148.0 244.5L144.2 246.7z" fill="#4852f4"/>
<path d="M133.4 247.0L137.2 244.9L140.7 245.6L136.9 247.8z" fill="#4747eb"/>
<path d="M126.1 248.5L129.8 246.4L133.4 247.0L129.6 249.1z" fill="#4741e5"/>
<path d="M118.7 250.1L122.5 248.0L126.1 248.5L122.3 250.5z" fill="#4537d5"/>
<path d="M111.4 251.5L115.2 249.4L118.7 250.1L115.0 252.1z" fill="#4332cb"/>
<path d="M104.1 252.7L107.9 250.5L111.4 251.5L107.7 253.6z" fill="#422ec0"/>
<path d="M96.8 253.6L100.6 251.5L104.1 252.7L100.3 254.8z" fill="#402ab4"/>
<path d="M89.5 254.3L93.3 251.9L96.8 253.6L93.0 255.8z" fill="#3e26a8"/>
<path d="M82.2 254.3L86.0 252.0L89.5 254.3L85.7 256.5z" fill="#3e26a8"/>
<path d="M232.0 240.7L235.7 238.3L239.3 240.3L235.5 242.7z" fill="#2e87f7"/>
<path d="M224.7 241.1L228.4 238.7L232.0 240.7L228.2 243.1z" fill="#2f81fa"/>
<path d="M217.3 241.5L221.1 239.2L224.7 241.1L220.9 243.5z" fill="#2f81fa"/>
<path d="M210.0 241.9L213.8 239.6L217.3 241.5L213.6 243.9z" fill="#327cfc"/>
<path d="M202.7 242.3L206.5 239.9L210.0 241.9L206.2 244.3z" fill="#327cfc"/>
<path d="M195.4 242.7L199.2 240.3L202.7 242.3L198.9 244.7z" fill="#3875fe"/>
<path d="M188.1 243.1L191.9 240.7L195.4 242.7L191.6 245.1z" fill="#3875fe"/>
<path d="M180.8 243.5L184.6 241.1L188.1 243.1L184.3 245.4z" fill="#3e6fff"/>
<path d="M173.5 243.9L177.2 241.6L180.8 243.5L177.0 245.8z" fill="#4269fe"/>
<path d="M166.2 244.4L169.9 242.1L173.5 243.9L169.7 246.2z" fill="#4269fe"/>
<path d="M158.8 245.0L162.6 242.7L166.2 244.4L162.4 246.7z" fill="#4563fd"/>
<path d="M151.5 245.8L155.3 243.5L158.8 245.0L155.1 247.3z" fill="#465efb"/>
<path d="M144.2 246.7L148.0 244.5L151.5 245.8L147.8 248.0z" fill="#4758f8"/>
<path d="M136.9 247.8L140.7 245.6L144.2 246.7L140.4 248.9z" fill="#4852f4"/>
<path d="M129.6 249.1L133.4 247.0L136.9 247.8L133.1 250.0z" fill="#4747eb"/>
<path d="M122.3 250.5L126.1 248.5L129.6 249.1L125.8 251.2z" fill="#4741e5"/>
<path d="M115.0 252.1L118.7 250.1L122.3 250.5L118.5 252.6z" fill="#4537d5"/>
<path d="M107.7 253.6L111.4 251.5L115.0 252.1L111.2 254.1z" fill="#4332cb"/>
<path d="M100.3 254.8L104.1 252.7L107.7 253.6L103.9 255.6z" fill="#422ec0"/>
<path d="M93.0 255.8L96.8 253.6L100.3 254.8L96.6 256.9z" fill="#402ab4"/>
<path d="M85.7 256.5L89.5 254.3L93.0 255.8L89.2 257.9z" fill="#3e26a8"/>
<path d="M228.2 243.1L232.0 240.7L235.5 242.7L231.7 245.1z" fill="#2e87f7"/>
<path d="M220.9 243.5L224.7 241.1L228.2 243.1L224.4 245.4z" fill="#2f81fa"/>
<path d="M213.6 243.9L217.3 241.5L220.9 243.5L217.1 245.8z" fill="#2f81fa"/>
<path d="M206.2 244.3L210.0 241.9L213.6 243.9L209.8 246.2z" fill="#327cfc"/>
<path d="M198.9 244.7L202.7 242.3L206.2 244.3L202.5 246.6z" fill="#327cfc"/>
<path d="M191.6 245.1L195.4 242.7L198.9 244.7L195.2 247.0z" fill="#3875fe"/>
<path d="M184.3 245.4L188.1 243.1L191.6 245.1L187.8 247.4z" fill="#3875fe"/>
<path d="M177.0 245.8L180.8 243.5L184.3 245.4L180.5 247.8z" fill="#3e6fff"/>
<path d="M169.7 246.2L173.5 243.9L177.0 245.8L173.2 248.2z" fill="#4269fe"/>
<path d="M162.4 246.7L166.2 244.4L169.7 246.2L165.9 248.5z" fill="#4269fe"/>
<path d="M155.1 247.3L158.8 245.0L162.4 246.7L158.6 249.0z" fill="#4563fd"/>
<path d="M147.8 248.0L151.5 245.8L155.1 247.3L151.3 249.5z" fill="#465efb"/>
<path d="M140.4 248.9L144.2 246.7L147.8 248.0L144.0 250.3z" fill="#4758f8"/>
<path d="M133.1 250.0L136.9 247.8L140.4 248.9L136.7 251.1z" fill="#4852f4"/>
<path d="M125.8 251.2L129.6 249.1L133.1 250.0L129.3 252.2z" fill="#484df0"/>
<path d="M118.5 252.6L122.3 250.5L125.8 251.2L122.0 253.3z" fill="#4741e5"/>
<path d="M111.2 254.1L115.0 252.1L118.5 252.6L114.7 254.7z" fill="#463cde"/>
<path d="M103.9 255.6L107.7 253.6L111.2 254.1L107.4 256.1z" fill="#4332cb"/>
<path d="M96.6 256.9L100.3 254.8L103.9 255.6L100.1 257.7z" fill="#422ec0"/>
<path d="M89.2 257.9L93.0 255.8L96.6 256.9L92.8 258.9z" fill="#402ab4"/>
<path d="M224.4 245.4L228.2 243.1L231.7 245.1L227.9 247.4z" fill="#2e87f7"/>
<path d="M217.1 245.8L220.9 243.5L224.4 245.4L220.6 247.8z" fill="#2f81fa"/>
<path d="M209.8 246.2L213.6 243.9L217.1 245.8L213.3 248.2z" fill="#2f81fa"/>
<path d="M202.5 246.6L206.2 244.3L209.8 246.2L206.0 248.6z" fill="#327cfc"/>
<path d="M195.2 247.0L198.9 244.7L202.5 246.6L198.7 249.0z" fill="#327cfc"/>
<path d="M187.8 247.4L191.6 245.1L195.2 247.0L191.4 249.4z" fill="#3875fe"/>
<path d="M180.5 247.8L184.3 245.4L187.8 247.4L184.1 249.8z" fill="#3875fe"/>
<path d="M173.2 248.2L177.0 245.8L180.5 247.8L176.8 250.1z" fill="#3e6fff"/>
<path d="M165.9 248.5L169.7 246.2L173.2 248.2L169.4 250.5z" fill="#4269fe"/>
<path d="M158.6 249.0L162.4 246.7L165.9 248.5L162.1 250.9z" fill="#4269fe"/>
<path d="M151.3 249.5L155.1 247.3L158.6 249.0L154.8 251.3z" fill="#4563fd"/>
<path d="M144.0 250.3L147.8 248.0L151.3 249.5L147.5 251.8z" fill="#465efb"/>
<path d="M136.7 251.1L140.4 248.9L144.0 250.3L140.2 252.5z" fill="#4758f8"/>
<path d="M129.3 252.2L133.1 250.0L136.7 251.1L132.9 253.3z" fill="#4852f4"/>
<path d="M122.0 253.3L125.8 251.2L129.3 252.2L125.6 254.3z" fill="#484df0"/>
<path d="M114.7 254.7L118.5 252.6L122.0 253.3L118.3 255.5z" fill="#4747eb"/>
<path d="M107.4 256.1L111.2 254.1L114.7 254.7L110.9 256.8z" fill="#463cde"/>
<path d="M100.1 257.7L103.9 255.6L107.4 256.1L103.6 258.2z" fill="#4537d5"/>
<path d="M92.8 258.9L96.6 256.9L100.1 257.7L96.3 259.6z" fill="#422ec0"/>
<path d="M220.6 247.8L224.4 245.4L227.9 247.4L224.2 249.8z" fill="#2e87f7"/>
<path d="M213.3 248.2L217.1 245.8L220.6 247.8L216.8 250.1z" fill="#2f81fa"/>
<path d="M206.0 248.6L209.8 246.2L213.3 248.2L209.5 250.5z" fill="#2f81fa"/>
<path d="M198.7 249.0L202.5 246.6L206.0 248.6L202.2 251.0z" fill="#327cfc"/>
<path d="M191.4 249.4L195.2 247.0L198.7 249.0L194.9 251.4z" fill="#327cfc"/>
<path d="M184.1 249.8L187.8 247.4L191.4 249.4L187.6 251.8z" fill="#3875fe"/>
<path d="M176.8 250.1L180.5 247.8L184.1 249.8L180.3 252.1z" fill="#3875fe"/>
<path d="M169.4 250.5L173.2 248.2L176.8 250.1L173.0 252.5z" fill="#3e6fff"/>
<path d="M162.1 250.9L165.9 248.5L169.4 250.5L165.7 252.8z" fill="#4269fe"/>
<path d="M154.8 251.3L158.6 249.0L162.1 250.9L158.3 253.2z" fill="#4269fe"/>
<path d="M147.5 251.8L151.3 249.5L154.8 251.3L151.0 253.6z" fill="#4563fd"/>
<path d="M140.2 252.5L144.0 250.3L147.5 251.8L143.7 254.1z" fill="#465efb"/>
<path d="M132.9 253.3L136.7 251.1L140.2 252.5L136.4 254.8z" fill="#4758f8"/>
<path d="M125.6 254.3L129.3 252.2L132.9 253.3L129.1 255.6z" fill="#4852f4"/>
<path d="M118.3 255.5L122.0 253.3L125.6 254.3L121.8 256.5z" fill="#484df0"/>
<path d="M110.9 256.8L114.7 254.7L118.3 255.5L114.5 257.6z" fill="#4747eb"/>
<path d="M103.6 258.2L107.4 256.1L110.9 256.8L107.2 258.9z" fill="#463cde"/>
<path d="M96.3 259.6L100.1 257.7L103.6 258.2L99.8 260.2z" fill="#4537d5"/>
<path d="M216.8 250.1L220.6 247.8L224.2 249.8L220.4 252.1z" fill="#2e87f7"/>
<path d="M209.5 250.5L213.3 248.2L216.8 250.1L213.1 252.5z" fill="#2f81fa"/>
<path d="M202.2 251.0L206.0 248.6L209.5 250.5L205.8 252.9z" fill="#2f81fa"/>
<path d="M194.9 251.4L198.7 249.0L202.2 251.0L198.4 253.3z" fill="#327cfc"/>
<path d="M187.6 251.8L191.4 249.4L194.9 251.4L191.1 253.7z" fill="#327cfc"/>
<path d="M180.3 252.1L184.1 249.8L187.6 251.8L183.8 254.1z" fill="#3875fe"/>
<path d="M173.0 252.5L176.8 250.1L180.3 252.1L176.5 254.5z" fill="#3875fe"/>
<path d="M165.7 252.8L169.4 250.5L173.0 252.5L169.2 254.9z" fill="#3e6fff"/>
<path d="M158.3 253.2L162.1 250.9L165.7 252.8L161.9 255.2z" fill="#3e6fff"/>
<path d="M151.0 253.6L154.8 251.3L158.3 253.2L154.6 255.6z" fill="#4269fe"/>
<path d="M143.7 254.1L147.5 251.8L151.0 253.6L147.3 255.9z" fill="#4563fd"/>
<path d="M136.4 254.8L140.2 252.5L143.7 254.1L139.9 256.4z" fill="#465efb"/>
<path d="M129.1 255.6L132.9 253.3L136.4 254.8L132.6 257.1z" fill="#465efb"/>
<path d="M121.8 256.5L125.6 254.3L129.1 255.6L125.3 257.8z" fill="#4758f8"/>
<path d="M114.5 257.6L118.3 255.5L121.8 256.5L118.0 258.7z" fill="#484df0"/>
<path d="M107.2 258.9L110.9 256.8L114.5 257.6L110.7 259.8z" fill="#4747eb"/>
<path d="M99.8 260.2L103.6 258.2L107.2 258.9L103.4 260.9z" fill="#4741e5"/>
<path d="M213.1 252.5L216.8 250.1L220.4 252.1L216.6 254.5z" fill="#2e87f7"/>
<path d="M205.8 252.9L209.5 250.5L213.1 252.5L209.3 254.8z" fill="#2f81fa"/>
<path d="M198.4 253.3L202.2 251.0L205.8 252.9L202.0 255.3z" fill="#2f81fa"/>
<path d="M191.1 253.7L194.9 251.4L198.4 253.3L194.7 255.7z" fill="#327cfc"/>
<path d="M183.8 254.1L187.6 251.8L191.1 253.7L187.4 256.1z" fill="#327cfc"/>
<path d="M176.5 254.5L180.3 252.1L183.8 254.1L180.0 256.5z" fill="#3875fe"/>
<path d="M169.2 254.9L173.0 252.5L176.5 254.5L172.7 256.9z" fill="#3875fe"/>
<path d="M161.9 255.2L165.7 252.8L169.2 254.9L165.4 257.2z" fill="#3e6fff"/>
<path d="M154.6 255.6L158.3 253.2L161.9 255.2L158.1 257.5z" fill="#3e6fff"/>
<path d="M147.3 255.9L151.0 253.6L154.6 255.6L150.8 257.9z" fill="#4269fe"/>
<path d="M139.9 256.4L143.7 254.1L147.3 255.9L143.5 258.3z" fill="#4563fd"/>
<path d="M132.6 257.1L136.4 254.8L139.9 256.4L136.2 258.7z" fill="#4563fd"/>
<path d="M125.3 257.8L129.1 255.6L132.6 257.1L128.9 259.3z" fill="#465efb"/>
<path d="M118.0 258.7L121.8 256.5L125.3 257.8L121.5 260.1z" fill="#4758f8"/>
<path d="M110.7 259.8L114.5 257.6L118.0 258.7L114.2 260.9z" fill="#4852f4"/>
<path d="M103.4 260.9L107.2 258.9L110.7 259.8L106.9 261.9z" fill="#4747eb"/>
<path d="M209.3 254.8L213.1 252.5L216.6 254.5L212.8 256.8z" fill="#2e87f7"/>
<path d="M202.0 255.3L205.8 252.9L209.3 254.8L205.5 257.2z" fill="#2f81fa"/>
<path d="M194.7 255.7L198.4 253.3L202.0 255.3L198.2 257.6z" fill="#2f81fa"/>
<path d="M187.4 256.1L191.1 253.7L194.7 255.7L190.9 258.0z" fill="#327cfc"/>
<path d="M180.0 256.5L183.8 254.1L187.4 256.1L183.6 258.5z" fill="#327cfc"/>
<path d="M172.7 256.9L176.5 254.5L180.0 256.5L176.3 258.9z" fill="#3875fe"/>
<path d="M165.4 257.2L169.2 254.9L172.7 256.9L168.9 259.2z" fill="#3875fe"/>
<path d="M158.1 257.5L161.9 255.2L165.4 257.2L161.6 259.6z" fill="#3e6fff"/>
<path d="M150.8 257.9L154.6 255.6L158.1 257.5L154.3 259.9z" fill="#3e6fff"/>
<path d="M143.5 258.3L147.3 255.9L150.8 257.9L147.0 260.2z" fill="#4269fe"/>
<path d="M136.2 258.7L139.9 256.4L143.5 258.3L139.7 260.6z" fill="#4563fd"/>
<path d="M128.9 259.3L132.6 257.1L136.2 258.7L132.4 261.0z" fill="#4563fd"/>
<path d="M121.5 260.1L125.3 257.8L128.9 259.3L125.1 261.6z" fill="#465efb"/>
<path d="M114.2 260.9L118.0 258.7L121.5 260.1L117.8 262.3z" fill="#4758f8"/>
<path d="M106.9 261.9L110.7 259.8L114.2 260.9L110.4 263.1z" fill="#4852f4"/>
<path d="M205.5 257.2L209.3 254.8L212.8 256.8L209.0 259.2z" fill="#2e87f7"/>
<path d="M198.2 257.6L202.0 255.3L205.5 257.2L201.7 259.6z" fill="#2f81fa"/>
<path d="M190.9 258.0L194.7 255.7L198.2 257.6L194.4 260.0z" fill="#2f81fa"/>
<path d="M183.6 258.5L187.4 256.1L190.9 258.0L187.1 260.4z" fill="#327cfc"/>
<path d="M176.3 258.9L180.0 256.5L183.6 258.5L179.8 260.8z" fill="#327cfc"/>
<path d="M168.9 259.2L172.7 256.9L176.3 258.9L172.5 261.2z" fill="#3875fe"/>
<path d="M161.6 259.6L165.4 257.2L168.9 259.2L165.2 261.6z" fill="#3875fe"/>
<path d="M154.3 259.9L158.1 257.5L161.6 259.6L157.9 261.9z" fill="#3e6fff"/>
<path d="M147.0 260.2L150.8 257.9L154.3 259.9L150.5 262.2z" fill="#3e6fff"/>
<path d="M139.7 260.6L143.5 258.3L147.0 260.2L143.2 262.6z" fill="#4269fe"/>
<path d="M132.4 261.0L136.2 258.7L139.7 260.6L135.9 262.9z" fill="#4563fd"/>
<path d="M125.1 261.6L128.9 259.3L132.4 261.0L128.6 263.3z" fill="#4563fd"/>
<path d="M117.8 262.3L121.5 260.1L125.1 261.6L121.3 263.9z" fill="#465efb"/>
<path d="M110.4 263.1L114.2 260.9L117.8 262.3L114.0 264.6z" fill="#4758f8"/>
<path d="M201.7 259.6L205.5 257.2L209.0 259.2L205.3 261.5z" fill="#2e87f7"/>
<path d="M194.4 260.0L198.2 257.6L201.7 259.6L197.9 261.9z" fill="#2f81fa"/>
<path d="M187.1 260.4L190.9 258.0L194.4 260.0L190.6 262.3z" fill="#2f81fa"/>
<path d="M179.8 260.8L183.6 258.5L187.1 260.4L183.3 262.8z" fill="#327cfc"/>
<path d="M172.5 261.2L176.3 258.9L179.8 260.8L176.0 263.2z" fill="#327cfc"/>
<path d="M165.2 261.6L168.9 259.2L172.5 261.2L168.7 263.6z" fill="#3875fe"/>
<path d="M157.9 261.9L161.6 259.6L165.2 261.6L161.4 264.0z" fill="#3875fe"/>
<path d="M150.5 262.2L154.3 259.9L157.9 261.9L154.1 264.3z" fill="#3e6fff"/>
<path d="M143.2 262.6L147.0 260.2L150.5 262.2L146.8 264.6z" fill="#3e6fff"/>
<path d="M135.9 262.9L139.7 260.6L143.2 262.6L139.4 264.9z" fill="#4269fe"/>
<path d="M128.6 263.3L132.4 261.0L135.9 262.9L132.1 265.2z" fill="#4269fe"/>
<path d="M121.3 263.9L125.1 261.6L128.6 263.3L124.8 265.6z" fill="#4563fd"/>
<path d="M114.0 264.6L117.8 262.3L121.3 263.9L117.5 266.2z" fill="#465efb"/>
<path d="M197.9 261.9L201.7 259.6L205.3 261.5L201.5 263.9z" fill="#2e87f7"/>
<path d="M190.6 262.3L194.4 260.0L197.9 261.9L194.2 264.3z" fill="#2f81fa"/>
<path d="M183.3 262.8L187.1 260.4L190.6 262.3L186.9 264.7z" fill="#2f81fa"/>
<path d="M176.0 263.2L179.8 260.8L183.3 262.8L179.5 265.1z" fill="#327cfc"/>
<path d="M168.7 263.6L172.5 261.2L176.0 263.2L172.2 265.5z" fill="#327cfc"/>
<path d="M161.4 264.0L165.2 261.6L168.7 263.6L164.9 265.9z" fill="#3875fe"/>
<path d="M154.1 264.3L157.9 261.9L161.4 264.0L157.6 266.3z" fill="#3875fe"/>
<path d="M146.8 264.6L150.5 262.2L154.1 264.3L150.3 266.6z" fill="#3e6fff"/>
<path d="M139.4 264.9L143.2 262.6L146.8 264.6L143.0 266.9z" fill="#3e6fff"/>
<path d="M132.1 265.2L135.9 262.9L139.4 264.9L135.7 267.3z" fill="#4269fe"/>
<path d="M124.8 265.6L128.6 263.3L132.1 265.2L128.4 267.6z" fill="#4269fe"/>
<path d="M117.5 266.2L121.3 263.9L124.8 265.6L121.0 268.0z" fill="#4563fd"/>
<path d="M194.2 264.3L197.9 261.9L201.5 263.9L197.7 266.3z" fill="#2e87f7"/>
<path d="M186.9 264.7L190.6 262.3L194.2 264.3L190.4 266.6z" fill="#2f81fa"/>
<path d="M179.5 265.1L183.3 262.8L186.9 264.7L183.1 267.0z" fill="#2f81fa"/>
<path d="M172.2 265.5L176.0 263.2L179.5 265.1L175.8 267.5z" fill="#327cfc"/>
<path d="M164.9 265.9L168.7 263.6L172.2 265.5L168.4 267.9z" fill="#327cfc"/>
<path d="M157.6 266.3L161.4 264.0L164.9 265.9L161.1 268.3z" fill="#3875fe"/>
<path d="M150.3 266.6L154.1 264.3L157.6 266.3L153.8 268.7z" fill="#3875fe"/>
<path d="M143.0 266.9L146.8 264.6L150.3 266.6L146.5 269.0z" fill="#3e6fff"/>
<path d="M135.7 267.3L139.4 264.9L143.0 266.9L139.2 269.3z" fill="#3e6fff"/>
<path d="M128.4 267.6L132.1 265.2L135.7 267.3L131.9 269.6z" fill="#4269fe"/>
<path d="M121.0 268.0L124.8 265.6L128.4 267.6L124.6 269.9z" fill="#4269fe"/>
<path d="M190.4 266.6L194.2 264.3L197.7 266.3L193.9 268.6z" fill="#2e87f7"/>
<path d="M183.1 267.0L186.9 264.7L190.4 266.6L186.6 269.0z" fill="#2f81fa"/>
<path d="M175.8 267.5L179.5 265.1L183.1 267.0L179.3 269.4z" fill="#2f81fa"/>
<path d="M168.4 267.9L172.2 265.5L175.8 267.5L172.0 269.8z" fill="#327cfc"/>
<path d="M161.1 268.3L164.9 265.9L168.4 267.9L164.7 270.3z" fill="#327cfc"/>
<path d="M153.8 268.7L157.6 266.3L161.1 268.3L157.4 270.7z" fill="#3875fe"/>
<path d="M146.5 269.0L150.3 266.6L153.8 268.7L150.0 271.0z" fill="#3875fe"/>
<path d="M139.2 269.3L143.0 266.9L146.5 269.0L142.7 271.4z" fill="#3e6fff"/>
<path d="M131.9 269.6L135.7 267.3L139.2 269.3L135.4 271.6z" fill="#3e6fff"/>
<path d="M124.6 269.9L128.4 267.6L131.9 269.6L128.1 271.9z" fill="#4269fe"/>
<path d="M186.6 269.0L190.4 266.6L193.9 268.6L190.1 271.0z" fill="#2e87f7"/>
<path d="M179.3 269.4L183.1 267.0L186.6 269.0L182.8 271.3z" fill="#2f81fa"/>
<path d="M172.0 269.8L175.8 267.5L179.3 269.4L175.5 271.8z" fill="#2f81fa"/>
<path d="M164.7 270.3L168.4 267.9L172.0 269.8L168.2 272.2z" fill="#327cfc"/>
<path d="M157.4 270.7L161.1 268.3L164.7 270.3L160.9 272.6z" fill="#327cfc"/>
<path d="M150.0 271.0L153.8 268.7L157.4 270.7L153.6 273.0z" fill="#3875fe"/>
<path d="M142.7 271.4L146.5 269.0L150.0 271.0L146.3 273.4z" fill="#3875fe"/>
<path d="M135.4 271.6L139.2 269.3L142.7 271.4L139.0 273.7z" fill="#3e6fff"/>
<path d="M128.1 271.9L131.9 269.6L135.4 271.6L131.6 274.0z" fill="#3e6fff"/>
<path d="M182.8 271.3L186.6 269.0L190.1 271.0L186.4 273.3z" fill="#2e87f7"/>
<path d="M175.5 271.8L179.3 269.4L182.8 271.3L179.0 273.7z" fill="#2f81fa"/>
<path d="M168.2 272.2L172.0 269.8L175.5 271.8L171.7 274.1z" fill="#2f81fa"/>
<path d="M160.9 272.6L164.7 270.3L168.2 272.2L164.4 274.6z" fill="#327cfc"/>
<path d="M153.6 273.0L157.4 270.7L160.9 272.6L157.1 275.0z" fill="#327cfc"/>
<path d="M146.3 273.4L150.0 271.0L153.6 273.0L149.8 275.4z" fill="#3875fe"/>
<path d="M139.0 273.7L142.7 271.4L146.3 273.4L142.5 275.8z" fill="#3875fe"/>
<path d="M131.6 274.0L135.4 271.6L139.0 273.7L135.2 276.1z" fill="#3e6fff"/>
<path d="M179.0 273.7L182.8 271.3L186.4 273.3L182.6 275.7z" fill="#2e87f7"/>
<path d="M171.7 274.1L175.5 271.8L179.0 273.7L175.3 276.1z" fill="#2f81fa"/>
<path d="M164.4 274.6L168.2 272.2L171.7 274.1L168.0 276.5z" fill="#2f81fa"/>
<path d="M157.1 275.0L160.9 272.6L164.4 274.6L160.6 276.9z" fill="#327cfc"/>
<path d="M149.8 275.4L153.6 273.0L157.1 275.0L153.3 277.3z" fill="#327cfc"/>
<path d="M142.5 275.8L146.3 273.4L149.8 275.4L146.0 277.7z" fill="#3875fe"/>
<path d="M135.2 276.1L139.0 273.7L142.5 275.8L138.7 278.1z" fill="#3875fe"/>
<path d="M175.3 276.1L179.0 273.7L182.6 275.7L178.8 278.0z" fill="#2e87f7"/>
<path d="M168.0 276.5L171.7 274.1L175.3 276.1L171.5 278.4z" fill="#2f81fa"/>
<path d="M160.6 276.9L164.4 274.6L168.0 276.5L164.2 278.8z" fill="#2f81fa"/>
<path d="M153.3 277.3L157.1 275.0L160.6 276.9L156.9 279.3z" fill="#327cfc"/>
<path d="M146.0 277.7L149.8 275.4L153.3 277.3L149.6 279.7z" fill="#327cfc"/>
<path d="M138.7 278.1L142.5 275.8L146.0 277.7L142.2 280.1z" fill="#3875fe"/>
<path d="M171.5 278.4L175.3 276.1L178.8 278.0L175.0 280.4z" fill="#2e87f7"/>
<path d="M164.2 278.8L168.0 276.5L171.5 278.4L167.7 280.8z" fill="#2f81fa"/>
<path d="M156.9 279.3L160.6 276.9L164.2 278.8L160.4 281.2z" fill="#2f81fa"/>
<path d="M149.6 279.7L153.3 277.3L156.9 279.3L153.1 281.6z" fill="#327cfc"/>
<path d="M142.2 280.1L146.0 277.7L149.6 279.7L145.8 282.1z" fill="#327cfc"/>
<path d="M167.7 280.8L171.5 278.4L175.0 280.4L171.2 282.8z" fill="#2e87f7"/>
<path d="M160.4 281.2L164.2 278.8L167.7 280.8L163.9 283.1z" fill="#2f81fa"/>
<path d="M153.1 281.6L156.9 279.3L160.4 281.2L156.6 283.6z" fill="#2f81fa"/>
<path d="M145.8 282.1L149.6 279.7L153.1 281.6L149.3 284.0z" fill="#327cfc"/>
<path d="M163.9 283.1L167.7 280.8L171.2 282.8L167.5 285.1z" fill="#2e87f7"/>
<path d="M156.6 283.6L160.4 281.2L163.9 283.1L160.1 285.5z" fill="#2f81fa"/>
<path d="M149.3 284.0L153.1 281.6L156.6 283.6L152.8 285.9z" fill="#2f81fa"/>
<path d="M160.1 285.5L163.9 283.1L167.5 285.1L163.7 287.5z" fill="#2e87f7"/>
<path d="M152.8 285.9L156.6 283.6L160.1 285.5L156.4 287.9z" fill="#2f81fa"/>
<path d="M156.4 287.9L160.1 285.5L163.7 287.5L159.9 289.9z" fill="#2e87f7"/>
</g>
<path d="M18.6 222.9L18.6 117.6 M18.6 222.9L159.9 325.1 M159.9 325.1L311.1 230.4 M18.6 222.9L14.8 225.3 M159.9 325.1L163.5 327.7 M46.9 243.3L43.0 245.7 M190.1 306.2L193.8 308.8 M75.1 263.8L71.3 266.2 M220.4 287.2L224.0 289.9 M103.4 284.2L99.6 286.6 M250.6 268.3L254.3 270.9 M131.6 304.7L127.8 307.0 M280.9 249.3L284.5 252.0 M159.9 325.1L156.1 327.5 M311.1 230.4L314.7 233.0 M18.6 222.9L15.0 220.3 M18.6 187.8L15.0 185.2 M18.6 152.7L15.0 150.1 M18.6 117.6L15.0 115.0" fill="none" stroke="#262626" stroke-width="1"/>
<g font-family="'Liberation Sans', Arial, sans-serif" font-size="10.7" fill="#262626" stroke="#262626" stroke-width="0.2" text-anchor="middle">
<text x="8.6" y="238.9">0</text>
<text x="169.4" y="340.9">0</text>
<text x="36.9" y="259.3">1</text>
<text x="199.6" y="322.0">1</text>
<text x="65.1" y="279.8">2</text>
<text x="229.9" y="303.0">2</text>
<text x="93.4" y="300.2">3</text>
<text x="260.1" y="284.1">3</text>
<text x="121.6" y="320.7">4</text>
<text x="290.4" y="265.1">4</text>
<text x="149.9" y="341.1">5</text>
<text x="320.6" y="246.2">5</text>
<text text-anchor="end" x="12.2" y="223.4">-5</text>
<text text-anchor="end" x="12.2" y="188.3">0</text>
<text text-anchor="end" x="12.2" y="153.2">5</text>
<text text-anchor="end" x="12.2" y="118.1">10</text>
</g>
<path d="M379.6 224.2L530.0 129.2 M379.6 224.2L521.5 325.3 M408.0 244.4L558.4 149.4 M409.7 205.2L551.5 306.3 M436.3 264.6L586.8 169.6 M439.8 186.2L581.6 287.3 M464.7 284.9L615.2 189.9 M469.9 167.2L611.7 268.3 M493.1 305.1L643.5 210.1 M500.0 148.2L641.8 249.3 M521.5 325.3L671.9 230.3 M530.0 129.2L671.9 230.3 M379.6 224.2L379.6 117.6 M530.0 129.2L530.0 22.6 M409.7 205.2L409.7 98.6 M558.4 149.4L558.4 42.8 M439.8 186.2L439.8 79.6 M586.8 169.6L586.8 63.0 M469.9 167.2L469.9 60.6 M615.2 189.9L615.2 83.3 M500.0 148.2L500.0 41.6 M643.5 210.1L643.5 103.5 M530.0 129.2L530.0 22.6 M671.9 230.3L671.9 123.7 M379.6 224.2L530.0 129.2 M530.0 129.2L671.9 230.3 M379.6 197.5L530.0 102.5 M530.0 102.5L671.9 203.7 M379.6 170.9L530.0 75.9 M530.0 75.9L671.9 177.0 M379.6 144.2L530.0 49.2 M530.0 49.2L671.9 150.4 M379.6 117.6L530.0 22.6 M530.0 22.6L671.9 123.7" fill="none" stroke="#d8d8d8" stroke-width="0.8"/>
<g stroke="#000" stroke-width="0.8" stroke-linejoin="round">
<path d="M526.3 105.6L530.0 103.2L533.6 104.6L529.8 107.0z" fill="#4747eb"/>
<path d="M529.8 107.0L533.6 104.6L537.1 105.9L533.4 108.4z" fill="#4747eb"/>
<path d="M522.5 108.0L526.3 105.6L529.8 107.0L526.1 109.4z" fill="#4747eb"/>
<path d="M533.4 108.4L537.1 105.9L540.7 107.1L536.9 109.6z" fill="#484df0"/>
<path d="M526.1 109.4L529.8 107.0L533.4 108.4L529.6 110.7z" fill="#4747eb"/>
<path d="M518.8 110.3L522.5 108.0L526.1 109.4L522.3 111.8z" fill="#4747eb"/>
<path d="M536.9 109.6L540.7 107.1L544.2 108.2L540.5 110.7z" fill="#4852f4"/>
<path d="M529.6 110.7L533.4 108.4L536.9 109.6L533.2 111.9z" fill="#484df0"/>
<path d="M522.3 111.8L526.1 109.4L529.6 110.7L525.9 113.1z" fill="#4747eb"/>
<path d="M515.0 112.7L518.8 110.3L522.3 111.8L518.6 114.1z" fill="#4747eb"/>
<path d="M540.5 110.7L544.2 108.2L547.8 109.2L544.0 111.7z" fill="#4758f8"/>
<path d="M533.2 111.9L536.9 109.6L540.5 110.7L536.7 113.0z" fill="#4852f4"/>
<path d="M525.9 113.1L529.6 110.7L533.2 111.9L529.4 114.3z" fill="#484df0"/>
<path d="M518.6 114.1L522.3 111.8L525.9 113.1L522.1 115.5z" fill="#4747eb"/>
<path d="M511.2 115.1L515.0 112.7L518.6 114.1L514.8 116.5z" fill="#4747eb"/>
<path d="M544.0 111.7L547.8 109.2L551.3 110.1L547.6 112.5z" fill="#465efb"/>
<path d="M536.7 113.0L540.5 110.7L544.0 111.7L540.3 114.0z" fill="#4758f8"/>
<path d="M529.4 114.3L533.2 111.9L536.7 113.0L533.0 115.4z" fill="#4852f4"/>
<path d="M522.1 115.5L525.9 113.1L529.4 114.3L525.6 116.6z" fill="#484df0"/>
<path d="M514.8 116.5L518.6 114.1L522.1 115.5L518.3 117.8z" fill="#4747eb"/>
<path d="M507.5 117.4L511.2 115.1L514.8 116.5L511.0 118.9z" fill="#4747eb"/>
<path d="M547.6 112.5L551.3 110.1L554.9 110.9L551.1 113.3z" fill="#4563fd"/>
<path d="M540.3 114.0L544.0 111.7L547.6 112.5L543.8 114.9z" fill="#465efb"/>
<path d="M533.0 115.4L536.7 113.0L540.3 114.0L536.5 116.3z" fill="#4758f8"/>
<path d="M525.6 116.6L529.4 114.3L533.0 115.4L529.2 117.7z" fill="#4852f4"/>
<path d="M518.3 117.8L522.1 115.5L525.6 116.6L521.9 119.0z" fill="#484df0"/>
<path d="M511.0 118.9L514.8 116.5L518.3 117.8L514.6 120.2z" fill="#4747eb"/>
<path d="M503.7 119.8L507.5 117.4L511.0 118.9L507.3 121.2z" fill="#4747eb"/>
<path d="M551.1 113.3L554.9 110.9L558.4 111.7L554.7 114.1z" fill="#3e6fff"/>
<path d="M543.8 114.9L547.6 112.5L551.1 113.3L547.4 115.6z" fill="#4563fd"/>
<path d="M536.5 116.3L540.3 114.0L543.8 114.9L540.0 117.1z" fill="#465efb"/>
<path d="M529.2 117.7L533.0 115.4L536.5 116.3L532.7 118.6z" fill="#4758f8"/>
<path d="M521.9 119.0L525.6 116.6L529.2 117.7L525.4 120.0z" fill="#4852f4"/>
<path d="M514.6 120.2L518.3 117.8L521.9 119.0L518.1 121.3z" fill="#484df0"/>
<path d="M507.3 121.2L511.0 118.9L514.6 120.2L510.8 122.5z" fill="#4747eb"/>
<path d="M500.0 122.1L503.7 119.8L507.3 121.2L503.5 123.6z" fill="#4747eb"/>
<path d="M554.7 114.1L558.4 111.7L562.0 112.4L558.2 114.8z" fill="#3875fe"/>
<path d="M547.4 115.6L551.1 113.3L554.7 114.1L550.9 116.3z" fill="#3e6fff"/>
<path d="M540.0 117.1L543.8 114.9L547.4 115.6L543.6 117.9z" fill="#4269fe"/>
<path d="M532.7 118.6L536.5 116.3L540.0 117.1L536.3 119.4z" fill="#465efb"/>
<path d="M525.4 120.0L529.2 117.7L532.7 118.6L529.0 120.9z" fill="#4758f8"/>
<path d="M518.1 121.3L521.9 119.0L525.4 120.0L521.7 122.3z" fill="#4852f4"/>
<path d="M510.8 122.5L514.6 120.2L518.1 121.3L514.4 123.7z" fill="#484df0"/>
<path d="M503.5 123.6L507.3 121.2L510.8 122.5L507.1 124.9z" fill="#4747eb"/>
<path d="M496.2 124.5L500.0 122.1L503.5 123.6L499.7 126.0z" fill="#4747eb"/>
<path d="M558.2 114.8L562.0 112.4L565.5 113.1L561.8 115.4z" fill="#327cfc"/>
<path d="M550.9 116.3L554.7 114.1L558.2 114.8L554.4 117.0z" fill="#3875fe"/>
<path d="M543.6 117.9L547.4 115.6L550.9 116.3L547.1 118.5z" fill="#3e6fff"/>
<path d="M536.3 119.4L540.0 117.1L543.6 117.9L539.8 120.1z" fill="#4269fe"/>
<path d="M529.0 120.9L532.7 118.6L536.3 119.4L532.5 121.6z" fill="#465efb"/>
<path d="M521.7 122.3L525.4 120.0L529.0 120.9L525.2 123.2z" fill="#4758f8"/>
<path d="M514.4 123.7L518.1 121.3L521.7 122.3L517.9 124.6z" fill="#4852f4"/>
<path d="M507.1 124.9L510.8 122.5L514.4 123.7L510.6 126.0z" fill="#484df0"/>
<path d="M499.7 126.0L503.5 123.6L507.1 124.9L503.3 127.2z" fill="#4747eb"/>
<path d="M492.4 126.9L496.2 124.5L499.7 126.0L496.0 128.3z" fill="#4747eb"/>
<path d="M561.8 115.4L565.5 113.1L569.1 113.8L565.3 116.0z" fill="#2e87f7"/>
<path d="M554.4 117.0L558.2 114.8L561.8 115.4L558.0 117.6z" fill="#327cfc"/>
<path d="M547.1 118.5L550.9 116.3L554.4 117.0L550.7 119.1z" fill="#3875fe"/>
<path d="M539.8 120.1L543.6 117.9L547.1 118.5L543.4 120.7z" fill="#3e6fff"/>
<path d="M532.5 121.6L536.3 119.4L539.8 120.1L536.1 122.3z" fill="#4269fe"/>
<path d="M525.2 123.2L529.0 120.9L532.5 121.6L528.8 123.8z" fill="#4563fd"/>
<path d="M517.9 124.6L521.7 122.3L525.2 123.2L521.5 125.4z" fill="#4758f8"/>
<path d="M510.6 126.0L514.4 123.7L517.9 124.6L514.1 126.9z" fill="#4852f4"/>
<path d="M503.3 127.2L507.1 124.9L510.6 126.0L506.8 128.3z" fill="#484df0"/>
<path d="M496.0 128.3L499.7 126.0L503.3 127.2L499.5 129.6z" fill="#4747eb"/>
<path d="M488.7 129.2L492.4 126.9L496.0 128.3L492.2 130.7z" fill="#4747eb"/>
<path d="M565.3 116.0L569.1 113.8L572.6 114.3L568.8 116.4z" fill="#2d8cf3"/>
<path d="M558.0 117.6L561.8 115.4L565.3 116.0L561.5 118.0z" fill="#2e87f7"/>
<path d="M550.7 119.1L554.4 117.0L558.0 117.6L554.2 119.6z" fill="#2f81fa"/>
<path d="M543.4 120.7L547.1 118.5L550.7 119.1L546.9 121.2z" fill="#3875fe"/>
<path d="M536.1 122.3L539.8 120.1L543.4 120.7L539.6 122.8z" fill="#3e6fff"/>
<path d="M528.8 123.8L532.5 121.6L536.1 122.3L532.3 124.4z" fill="#4269fe"/>
<path d="M521.5 125.4L525.2 123.2L528.8 123.8L525.0 126.0z" fill="#4563fd"/>
<path d="M514.1 126.9L517.9 124.6L521.5 125.4L517.7 127.6z" fill="#4758f8"/>
<path d="M506.8 128.3L510.6 126.0L514.1 126.9L510.4 129.2z" fill="#4852f4"/>
<path d="M499.5 129.6L503.3 127.2L506.8 128.3L503.1 130.6z" fill="#484df0"/>
<path d="M492.2 130.7L496.0 128.3L499.5 129.6L495.8 131.9z" fill="#4747eb"/>
<path d="M484.9 131.6L488.7 129.2L492.2 130.7L488.5 133.0z" fill="#4747eb"/>
<path d="M568.8 116.4L572.6 114.3L576.2 114.9L572.4 116.9z" fill="#2797eb"/>
<path d="M561.5 118.0L565.3 116.0L568.8 116.4L565.1 118.4z" fill="#2d8cf3"/>
<path d="M554.2 119.6L558.0 117.6L561.5 118.0L557.8 120.0z" fill="#2e87f7"/>
<path d="M546.9 121.2L550.7 119.1L554.2 119.6L550.5 121.6z" fill="#2f81fa"/>
<path d="M539.6 122.8L543.4 120.7L546.9 121.2L543.2 123.3z" fill="#327cfc"/>
<path d="M532.3 124.4L536.1 122.3L539.6 122.8L535.9 124.9z" fill="#3e6fff"/>
<path d="M525.0 126.0L528.8 123.8L532.3 124.4L528.5 126.6z" fill="#4269fe"/>
<path d="M517.7 127.6L521.5 125.4L525.0 126.0L521.2 128.2z" fill="#4563fd"/>
<path d="M510.4 129.2L514.1 126.9L517.7 127.6L513.9 129.9z" fill="#465efb"/>
<path d="M503.1 130.6L506.8 128.3L510.4 129.2L506.6 131.4z" fill="#4852f4"/>
<path d="M495.8 131.9L499.5 129.6L503.1 130.6L499.3 132.9z" fill="#484df0"/>
<path d="M488.5 133.0L492.2 130.7L495.8 131.9L492.0 134.2z" fill="#4747eb"/>
<path d="M481.2 134.0L484.9 131.6L488.5 133.0L484.7 135.4z" fill="#4747eb"/>
<path d="M572.4 116.9L576.2 114.9L579.7 115.5L575.9 117.5z" fill="#259be8"/>
<path d="M565.1 118.4L568.8 116.4L572.4 116.9L568.6 118.8z" fill="#2797eb"/>
<path d="M557.8 120.0L561.5 118.0L565.1 118.4L561.3 120.3z" fill="#2b91ef"/>
<path d="M550.5 121.6L554.2 119.6L557.8 120.0L554.0 121.9z" fill="#2e87f7"/>
<path d="M543.2 123.3L546.9 121.2L550.5 121.6L546.7 123.6z" fill="#2f81fa"/>
<path d="M535.9 124.9L539.6 122.8L543.2 123.3L539.4 125.3z" fill="#327cfc"/>
<path d="M528.5 126.6L532.3 124.4L535.9 124.9L532.1 127.0z" fill="#3e6fff"/>
<path d="M521.2 128.2L525.0 126.0L528.5 126.6L524.8 128.7z" fill="#4269fe"/>
<path d="M513.9 129.9L517.7 127.6L521.2 128.2L517.5 130.4z" fill="#4563fd"/>
<path d="M506.6 131.4L510.4 129.2L513.9 129.9L510.2 132.1z" fill="#465efb"/>
<path d="M499.3 132.9L503.1 130.6L506.6 131.4L502.9 133.7z" fill="#4852f4"/>
<path d="M492.0 134.2L495.8 131.9L499.3 132.9L495.6 135.2z" fill="#484df0"/>
<path d="M484.7 135.4L488.5 133.0L492.0 134.2L488.2 136.5z" fill="#4747eb"/>
<path d="M477.4 136.3L481.2 134.0L484.7 135.4L480.9 137.7z" fill="#4747eb"/>
<path d="M575.9 117.5L579.7 115.5L583.2 116.5L579.5 118.4z" fill="#20a5e3"/>
<path d="M568.6 118.8L572.4 116.9L575.9 117.5L572.2 119.4z" fill="#23a0e5"/>
<path d="M561.3 120.3L565.1 118.4L568.6 118.8L564.9 120.6z" fill="#2797eb"/>
<path d="M554.0 121.9L557.8 120.0L561.3 120.3L557.6 122.1z" fill="#2b91ef"/>
<path d="M546.7 123.6L550.5 121.6L554.0 121.9L550.3 123.8z" fill="#2d8cf3"/>
<path d="M539.4 125.3L543.2 123.3L546.7 123.6L542.9 125.5z" fill="#2f81fa"/>
<path d="M532.1 127.0L535.9 124.9L539.4 125.3L535.6 127.3z" fill="#327cfc"/>
<path d="M524.8 128.7L528.5 126.6L532.1 127.0L528.3 129.0z" fill="#3875fe"/>
<path d="M517.5 130.4L521.2 128.2L524.8 128.7L521.0 130.8z" fill="#4269fe"/>
<path d="M510.2 132.1L513.9 129.9L517.5 130.4L513.7 132.5z" fill="#4563fd"/>
<path d="M502.9 133.7L506.6 131.4L510.2 132.1L506.4 134.2z" fill="#465efb"/>
<path d="M495.6 135.2L499.3 132.9L502.9 133.7L499.1 135.9z" fill="#4758f8"/>
<path d="M488.2 136.5L492.0 134.2L495.6 135.2L491.8 137.5z" fill="#484df0"/>
<path d="M480.9 137.7L484.7 135.4L488.2 136.5L484.5 138.8z" fill="#484df0"/>
<path d="M473.6 138.7L477.4 136.3L480.9 137.7L477.2 140.1z" fill="#4747eb"/>
<path d="M579.5 118.4L583.2 116.5L586.8 117.6L583.0 119.4z" fill="#1ca9df"/>
<path d="M572.2 119.4L575.9 117.5L579.5 118.4L575.7 120.2z" fill="#20a5e3"/>
<path d="M564.9 120.6L568.6 118.8L572.2 119.4L568.4 121.2z" fill="#23a0e5"/>
<path d="M557.6 122.1L561.3 120.3L564.9 120.6L561.1 122.4z" fill="#259be8"/>
<path d="M550.3 123.8L554.0 121.9L557.6 122.1L553.8 123.9z" fill="#2b91ef"/>
<path d="M542.9 125.5L546.7 123.6L550.3 123.8L546.5 125.6z" fill="#2d8cf3"/>
<path d="M535.6 127.3L539.4 125.3L542.9 125.5L539.2 127.4z" fill="#2e87f7"/>
<path d="M528.3 129.0L532.1 127.0L535.6 127.3L531.9 129.2z" fill="#327cfc"/>
<path d="M521.0 130.8L524.8 128.7L528.3 129.0L524.6 131.0z" fill="#3875fe"/>
<path d="M513.7 132.5L517.5 130.4L521.0 130.8L517.3 132.8z" fill="#4269fe"/>
<path d="M506.4 134.2L510.2 132.1L513.7 132.5L510.0 134.6z" fill="#4563fd"/>
<path d="M499.1 135.9L502.9 133.7L506.4 134.2L502.6 136.4z" fill="#465efb"/>
<path d="M491.8 137.5L495.6 135.2L499.1 135.9L495.3 138.1z" fill="#4758f8"/>
<path d="M484.5 138.8L488.2 136.5L491.8 137.5L488.0 139.7z" fill="#484df0"/>
<path d="M477.2 140.1L480.9 137.7L484.5 138.8L480.7 141.1z" fill="#484df0"/>
<path d="M469.9 141.1L473.6 138.7L477.2 140.1L473.4 142.4z" fill="#4747eb"/>
<path d="M583.0 119.4L586.8 117.6L590.3 118.7L586.6 120.4z" fill="#18addb"/>
<path d="M575.7 120.2L579.5 118.4L583.0 119.4L579.3 121.1z" fill="#1ca9df"/>
<path d="M568.4 121.2L572.2 119.4L575.7 120.2L572.0 122.0z" fill="#1ca9df"/>
<path d="M561.1 122.4L564.9 120.6L568.4 121.2L564.7 122.9z" fill="#20a5e3"/>
<path d="M553.8 123.9L557.6 122.1L561.1 122.4L557.3 124.2z" fill="#259be8"/>
<path d="M546.5 125.6L550.3 123.8L553.8 123.9L550.0 125.6z" fill="#2797eb"/>
<path d="M539.2 127.4L542.9 125.5L546.5 125.6L542.7 127.4z" fill="#2d8cf3"/>
<path d="M531.9 129.2L535.6 127.3L539.2 127.4L535.4 129.3z" fill="#2e87f7"/>
<path d="M524.6 131.0L528.3 129.0L531.9 129.2L528.1 131.1z" fill="#327cfc"/>
<path d="M517.3 132.8L521.0 130.8L524.6 131.0L520.8 133.0z" fill="#3875fe"/>
<path d="M510.0 134.6L513.7 132.5L517.3 132.8L513.5 134.9z" fill="#3e6fff"/>
<path d="M502.6 136.4L506.4 134.2L510.0 134.6L506.2 136.7z" fill="#4563fd"/>
<path d="M495.3 138.1L499.1 135.9L502.6 136.4L498.9 138.5z" fill="#465efb"/>
<path d="M488.0 139.7L491.8 137.5L495.3 138.1L491.6 140.3z" fill="#4758f8"/>
<path d="M480.7 141.1L484.5 138.8L488.0 139.7L484.3 141.9z" fill="#4852f4"/>
<path d="M473.4 142.4L477.2 140.1L480.7 141.1L477.0 143.4z" fill="#484df0"/>
<path d="M466.1 143.4L469.9 141.1L473.4 142.4L469.7 144.7z" fill="#4747eb"/>
<path d="M586.6 120.4L590.3 118.7L593.9 119.8L590.1 121.5z" fill="#12b1d6"/>
<path d="M579.3 121.1L583.0 119.4L586.6 120.4L582.8 122.1z" fill="#12b1d6"/>
<path d="M572.0 122.0L575.7 120.2L579.3 121.1L575.5 122.8z" fill="#18addb"/>
<path d="M564.7 122.9L568.4 121.2L572.0 122.0L568.2 123.7z" fill="#1ca9df"/>
<path d="M557.3 124.2L561.1 122.4L564.7 122.9L560.9 124.7z" fill="#20a5e3"/>
<path d="M550.0 125.6L553.8 123.9L557.3 124.2L553.6 125.9z" fill="#23a0e5"/>
<path d="M542.7 127.4L546.5 125.6L550.0 125.6L546.3 127.4z" fill="#2797eb"/>
<path d="M535.4 129.3L539.2 127.4L542.7 127.4L539.0 129.1z" fill="#2b91ef"/>
<path d="M528.1 131.1L531.9 129.2L535.4 129.3L531.7 131.1z" fill="#2e87f7"/>
<path d="M520.8 133.0L524.6 131.0L528.1 131.1L524.4 133.0z" fill="#2f81fa"/>
<path d="M513.5 134.9L517.3 132.8L520.8 133.0L517.0 135.0z" fill="#3875fe"/>
<path d="M506.2 136.7L510.0 134.6L513.5 134.9L509.7 136.9z" fill="#3e6fff"/>
<path d="M498.9 138.5L502.6 136.4L506.2 136.7L502.4 138.8z" fill="#4563fd"/>
<path d="M491.6 140.3L495.3 138.1L498.9 138.5L495.1 140.6z" fill="#465efb"/>
<path d="M484.3 141.9L488.0 139.7L491.6 140.3L487.8 142.4z" fill="#4758f8"/>
<path d="M477.0 143.4L480.7 141.1L484.3 141.9L480.5 144.1z" fill="#4852f4"/>
<path d="M469.7 144.7L473.4 142.4L477.0 143.4L473.2 145.7z" fill="#484df0"/>
<path d="M462.3 145.8L466.1 143.4L469.7 144.7L465.9 147.0z" fill="#4747eb"/>
<path d="M590.1 121.5L593.9 119.8L597.4 121.1L593.7 122.9z" fill="#01b8ca"/>
<path d="M582.8 122.1L586.6 120.4L590.1 121.5L586.4 123.2z" fill="#08b5d0"/>
<path d="M575.5 122.8L579.3 121.1L582.8 122.1L579.1 123.7z" fill="#12b1d6"/>
<path d="M568.2 123.7L572.0 122.0L575.5 122.8L571.7 124.5z" fill="#18addb"/>
<path d="M560.9 124.7L564.7 122.9L568.2 123.7L564.4 125.3z" fill="#18addb"/>
<path d="M553.6 125.9L557.3 124.2L560.9 124.7L557.1 126.4z" fill="#1ca9df"/>
<path d="M546.3 127.4L550.0 125.6L553.6 125.9L549.8 127.6z" fill="#23a0e5"/>
<path d="M539.0 129.1L542.7 127.4L546.3 127.4L542.5 129.1z" fill="#259be8"/>
<path d="M531.7 131.1L535.4 129.3L539.0 129.1L535.2 130.8z" fill="#2b91ef"/>
<path d="M524.4 133.0L528.1 131.1L531.7 131.1L527.9 132.8z" fill="#2d8cf3"/>
<path d="M517.0 135.0L520.8 133.0L524.4 133.0L520.6 134.9z" fill="#2f81fa"/>
<path d="M509.7 136.9L513.5 134.9L517.0 135.0L513.3 136.9z" fill="#327cfc"/>
<path d="M502.4 138.8L506.2 136.7L509.7 136.9L506.0 138.8z" fill="#3e6fff"/>
<path d="M495.1 140.6L498.9 138.5L502.4 138.8L498.7 140.8z" fill="#4269fe"/>
<path d="M487.8 142.4L491.6 140.3L495.1 140.6L491.4 142.7z" fill="#465efb"/>
<path d="M480.5 144.1L484.3 141.9L487.8 142.4L484.1 144.5z" fill="#4758f8"/>
<path d="M473.2 145.7L477.0 143.4L480.5 144.1L476.7 146.3z" fill="#4852f4"/>
<path d="M465.9 147.0L469.7 144.7L473.2 145.7L469.4 147.9z" fill="#484df0"/>
<path d="M458.6 148.2L462.3 145.8L465.9 147.0L462.1 149.3z" fill="#4747eb"/>
<path d="M593.7 122.9L597.4 121.1L601.0 122.8L597.2 124.6z" fill="#01b8ca"/>
<path d="M586.4 123.2L590.1 121.5L593.7 122.9L589.9 124.6z" fill="#01b8ca"/>
<path d="M579.1 123.7L582.8 122.1L586.4 123.2L582.6 124.8z" fill="#01b8ca"/>
<path d="M571.7 124.5L575.5 122.8L579.1 123.7L575.3 125.4z" fill="#08b5d0"/>
<path d="M564.4 125.3L568.2 123.7L571.7 124.5L568.0 126.1z" fill="#12b1d6"/>
<path d="M557.1 126.4L560.9 124.7L564.4 125.3L560.7 127.0z" fill="#18addb"/>
<path d="M549.8 127.6L553.6 125.9L557.1 126.4L553.4 128.0z" fill="#1ca9df"/>
<path d="M542.5 129.1L546.3 127.4L549.8 127.6L546.1 129.3z" fill="#20a5e3"/>
<path d="M535.2 130.8L539.0 129.1L542.5 129.1L538.8 130.7z" fill="#259be8"/>
<path d="M527.9 132.8L531.7 131.1L535.2 130.8L531.4 132.5z" fill="#2797eb"/>
<path d="M520.6 134.9L524.4 133.0L527.9 132.8L524.1 134.6z" fill="#2d8cf3"/>
<path d="M513.3 136.9L517.0 135.0L520.6 134.9L516.8 136.7z" fill="#2f81fa"/>
<path d="M506.0 138.8L509.7 136.9L513.3 136.9L509.5 138.7z" fill="#327cfc"/>
<path d="M498.7 140.8L502.4 138.8L506.0 138.8L502.2 140.8z" fill="#3e6fff"/>
<path d="M491.4 142.7L495.1 140.6L498.7 140.8L494.9 142.7z" fill="#4269fe"/>
<path d="M484.1 144.5L487.8 142.4L491.4 142.7L487.6 144.7z" fill="#465efb"/>
<path d="M476.7 146.3L480.5 144.1L484.1 144.5L480.3 146.6z" fill="#4758f8"/>
<path d="M469.4 147.9L473.2 145.7L476.7 146.3L473.0 148.4z" fill="#4852f4"/>
<path d="M462.1 149.3L465.9 147.0L469.4 147.9L465.7 150.1z" fill="#484df0"/>
<path d="M454.8 150.5L458.6 148.2L462.1 149.3L458.4 151.6z" fill="#4747eb"/>
<path d="M597.2 124.6L601.0 122.8L604.5 125.0L600.8 127.0z" fill="#02bac3"/>
<path d="M589.9 124.6L593.7 122.9L597.2 124.6L593.5 126.3z" fill="#02bac3"/>
<path d="M582.6 124.8L586.4 123.2L589.9 124.6L586.1 126.3z" fill="#02bac3"/>
<path d="M575.3 125.4L579.1 123.7L582.6 124.8L578.8 126.4z" fill="#01b8ca"/>
<path d="M568.0 126.1L571.7 124.5L575.3 125.4L571.5 126.9z" fill="#08b5d0"/>
<path d="M560.7 127.0L564.4 125.3L568.0 126.1L564.2 127.7z" fill="#08b5d0"/>
<path d="M553.4 128.0L557.1 126.4L560.7 127.0L556.9 128.6z" fill="#12b1d6"/>
<path d="M546.1 129.3L549.8 127.6L553.4 128.0L549.6 129.6z" fill="#18addb"/>
<path d="M538.8 130.7L542.5 129.1L546.1 129.3L542.3 130.9z" fill="#20a5e3"/>
<path d="M531.4 132.5L535.2 130.8L538.8 130.7L535.0 132.4z" fill="#23a0e5"/>
<path d="M524.1 134.6L527.9 132.8L531.4 132.5L527.7 134.2z" fill="#2797eb"/>
<path d="M516.8 136.7L520.6 134.9L524.1 134.6L520.4 136.3z" fill="#2d8cf3"/>
<path d="M509.5 138.7L513.3 136.9L516.8 136.7L513.1 138.5z" fill="#2e87f7"/>
<path d="M502.2 140.8L506.0 138.8L509.5 138.7L505.8 140.6z" fill="#327cfc"/>
<path d="M494.9 142.7L498.7 140.8L502.2 140.8L498.5 142.6z" fill="#3875fe"/>
<path d="M487.6 144.7L491.4 142.7L494.9 142.7L491.1 144.7z" fill="#4269fe"/>
<path d="M480.3 146.6L484.1 144.5L487.6 144.7L483.8 146.7z" fill="#4563fd"/>
<path d="M473.0 148.4L476.7 146.3L480.3 146.6L476.5 148.6z" fill="#4758f8"/>
<path d="M465.7 150.1L469.4 147.9L473.0 148.4L469.2 150.5z" fill="#4852f4"/>
<path d="M458.4 151.6L462.1 149.3L465.7 150.1L461.9 152.3z" fill="#484df0"/>
<path d="M451.1 152.9L454.8 150.5L458.4 151.6L454.6 153.9z" fill="#4747eb"/>
<path d="M600.8 127.0L604.5 125.0L608.1 128.3L604.3 130.5z" fill="#02bac3"/>
<path d="M593.5 126.3L597.2 124.6L600.8 127.0L597.0 129.1z" fill="#0bbdbd"/>
<path d="M586.1 126.3L589.9 124.6L593.5 126.3L589.7 128.2z" fill="#0bbdbd"/>
<path d="M578.8 126.4L582.6 124.8L586.1 126.3L582.4 128.0z" fill="#02bac3"/>
<path d="M571.5 126.9L575.3 125.4L578.8 126.4L575.1 128.1z" fill="#02bac3"/>
<path d="M564.2 127.7L568.0 126.1L571.5 126.9L567.8 128.5z" fill="#01b8ca"/>
<path d="M556.9 128.6L560.7 127.0L564.2 127.7L560.5 129.3z" fill="#08b5d0"/>
<path d="M549.6 129.6L553.4 128.0L556.9 128.6L553.2 130.2z" fill="#12b1d6"/>
<path d="M542.3 130.9L546.1 129.3L549.6 129.6L545.8 131.2z" fill="#18addb"/>
<path d="M535.0 132.4L538.8 130.7L542.3 130.9L538.5 132.5z" fill="#1ca9df"/>
<path d="M527.7 134.2L531.4 132.5L535.0 132.4L531.2 134.0z" fill="#23a0e5"/>
<path d="M520.4 136.3L524.1 134.6L527.7 134.2L523.9 135.8z" fill="#259be8"/>
<path d="M513.1 138.5L516.8 136.7L520.4 136.3L516.6 137.9z" fill="#2b91ef"/>
<path d="M505.8 140.6L509.5 138.7L513.1 138.5L509.3 140.2z" fill="#2e87f7"/>
<path d="M498.5 142.6L502.2 140.8L505.8 140.6L502.0 142.3z" fill="#2f81fa"/>
<path d="M491.1 144.7L494.9 142.7L498.5 142.6L494.7 144.4z" fill="#3875fe"/>
<path d="M483.8 146.7L487.6 144.7L491.1 144.7L487.4 146.5z" fill="#4269fe"/>
<path d="M476.5 148.6L480.3 146.6L483.8 146.7L480.1 148.6z" fill="#4563fd"/>
<path d="M469.2 150.5L473.0 148.4L476.5 148.6L472.8 150.6z" fill="#4758f8"/>
<path d="M461.9 152.3L465.7 150.1L469.2 150.5L465.5 152.6z" fill="#4852f4"/>
<path d="M454.6 153.9L458.4 151.6L461.9 152.3L458.2 154.4z" fill="#484df0"/>
<path d="M447.3 155.3L451.1 152.9L454.6 153.9L450.8 156.1z" fill="#4747eb"/>
<path d="M604.3 130.5L608.1 128.3L611.6 132.5L607.9 135.1z" fill="#01b8ca"/>
<path d="M597.0 129.1L600.8 127.0L604.3 130.5L600.5 132.7z" fill="#02bac3"/>
<path d="M589.7 128.2L593.5 126.3L597.0 129.1L593.2 131.2z" fill="#0bbdbd"/>
<path d="M582.4 128.0L586.1 126.3L589.7 128.2L585.9 130.1z" fill="#0bbdbd"/>
<path d="M575.1 128.1L578.8 126.4L582.4 128.0L578.6 129.7z" fill="#0bbdbd"/>
<path d="M567.8 128.5L571.5 126.9L575.1 128.1L571.3 129.8z" fill="#02bac3"/>
<path d="M560.5 129.3L564.2 127.7L567.8 128.5L564.0 130.1z" fill="#02bac3"/>
<path d="M553.2 130.2L556.9 128.6L560.5 129.3L556.7 130.8z" fill="#01b8ca"/>
<path d="M545.8 131.2L549.6 129.6L553.2 130.2L549.4 131.8z" fill="#08b5d0"/>
<path d="M538.5 132.5L542.3 130.9L545.8 131.2L542.1 132.8z" fill="#12b1d6"/>
<path d="M531.2 134.0L535.0 132.4L538.5 132.5L534.8 134.1z" fill="#1ca9df"/>
<path d="M523.9 135.8L527.7 134.2L531.2 134.0L527.5 135.7z" fill="#20a5e3"/>
<path d="M516.6 137.9L520.4 136.3L523.9 135.8L520.2 137.4z" fill="#259be8"/>
<path d="M509.3 140.2L513.1 138.5L516.6 137.9L512.9 139.5z" fill="#2b91ef"/>
<path d="M502.0 142.3L505.8 140.6L509.3 140.2L505.5 141.8z" fill="#2d8cf3"/>
<path d="M494.7 144.4L498.5 142.6L502.0 142.3L498.2 144.0z" fill="#2f81fa"/>
<path d="M487.4 146.5L491.1 144.7L494.7 144.4L490.9 146.1z" fill="#3875fe"/>
<path d="M480.1 148.6L483.8 146.7L487.4 146.5L483.6 148.3z" fill="#3e6fff"/>
<path d="M472.8 150.6L476.5 148.6L480.1 148.6L476.3 150.4z" fill="#4563fd"/>
<path d="M465.5 152.6L469.2 150.5L472.8 150.6L469.0 152.5z" fill="#465efb"/>
<path d="M458.2 154.4L461.9 152.3L465.5 152.6L461.7 154.6z" fill="#4852f4"/>
<path d="M450.8 156.1L454.6 153.9L458.2 154.4L454.4 156.6z" fill="#484df0"/>
<path d="M443.5 157.6L447.3 155.3L450.8 156.1L447.1 158.4z" fill="#4747eb"/>
<path d="M607.9 135.1L611.6 132.5L615.2 138.3L611.4 141.1z" fill="#08b5d0"/>
<path d="M600.5 132.7L604.3 130.5L607.9 135.1L604.1 137.8z" fill="#02bac3"/>
<path d="M593.2 131.2L597.0 129.1L600.5 132.7L596.8 135.0z" fill="#0bbdbd"/>
<path d="M585.9 130.1L589.7 128.2L593.2 131.2L589.5 133.3z" fill="#0bbdbd"/>
<path d="M578.6 129.7L582.4 128.0L585.9 130.1L582.2 132.0z" fill="#19bfb6"/>
<path d="M571.3 129.8L575.1 128.1L578.6 129.7L574.9 131.4z" fill="#0bbdbd"/>
<path d="M564.0 130.1L567.8 128.5L571.3 129.8L567.6 131.4z" fill="#0bbdbd"/>
<path d="M556.7 130.8L560.5 129.3L564.0 130.1L560.2 131.7z" fill="#02bac3"/>
<path d="M549.4 131.8L553.2 130.2L556.7 130.8L552.9 132.4z" fill="#01b8ca"/>
<path d="M542.1 132.8L545.8 131.2L549.4 131.8L545.6 133.3z" fill="#01b8ca"/>
<path d="M534.8 134.1L538.5 132.5L542.1 132.8L538.3 134.4z" fill="#12b1d6"/>
<path d="M527.5 135.7L531.2 134.0L534.8 134.1L531.0 135.7z" fill="#18addb"/>
<path d="M520.2 137.4L523.9 135.8L527.5 135.7L523.7 137.2z" fill="#1ca9df"/>
<path d="M512.9 139.5L516.6 137.9L520.2 137.4L516.4 139.0z" fill="#23a0e5"/>
<path d="M505.5 141.8L509.3 140.2L512.9 139.5L509.1 141.0z" fill="#2797eb"/>
<path d="M498.2 144.0L502.0 142.3L505.5 141.8L501.8 143.3z" fill="#2d8cf3"/>
<path d="M490.9 146.1L494.7 144.4L498.2 144.0L494.5 145.6z" fill="#2f81fa"/>
<path d="M483.6 148.3L487.4 146.5L490.9 146.1L487.2 147.8z" fill="#327cfc"/>
<path d="M476.3 150.4L480.1 148.6L483.6 148.3L479.9 150.0z" fill="#3e6fff"/>
<path d="M469.0 152.5L472.8 150.6L476.3 150.4L472.6 152.2z" fill="#4563fd"/>
<path d="M461.7 154.6L465.5 152.6L469.0 152.5L465.2 154.4z" fill="#465efb"/>
<path d="M454.4 156.6L458.2 154.4L461.7 154.6L457.9 156.6z" fill="#4852f4"/>
<path d="M447.1 158.4L450.8 156.1L454.4 156.6L450.6 158.7z" fill="#484df0"/>
<path d="M439.8 160.0L443.5 157.6L447.1 158.4L443.3 160.6z" fill="#4747eb"/>
<path d="M611.4 141.1L615.2 138.3L618.7 145.2L614.9 148.3z" fill="#1ca9df"/>
<path d="M604.1 137.8L607.9 135.1L611.4 141.1L607.6 144.0z" fill="#08b5d0"/>
<path d="M596.8 135.0L600.5 132.7L604.1 137.8L600.3 140.5z" fill="#02bac3"/>
<path d="M589.5 133.3L593.2 131.2L596.8 135.0L593.0 137.4z" fill="#0bbdbd"/>
<path d="M582.2 132.0L585.9 130.1L589.5 133.3L585.7 135.5z" fill="#19bfb6"/>
<path d="M574.9 131.4L578.6 129.7L582.2 132.0L578.4 134.0z" fill="#19bfb6"/>
<path d="M567.6 131.4L571.3 129.8L574.9 131.4L571.1 133.2z" fill="#19bfb6"/>
<path d="M560.2 131.7L564.0 130.1L567.6 131.4L563.8 133.1z" fill="#19bfb6"/>
<path d="M552.9 132.4L556.7 130.8L560.2 131.7L556.5 133.3z" fill="#0bbdbd"/>
<path d="M545.6 133.3L549.4 131.8L552.9 132.4L549.2 133.9z" fill="#02bac3"/>
<path d="M538.3 134.4L542.1 132.8L545.6 133.3L541.9 134.8z" fill="#01b8ca"/>
<path d="M531.0 135.7L534.8 134.1L538.3 134.4L534.6 136.0z" fill="#08b5d0"/>
<path d="M523.7 137.2L527.5 135.7L531.0 135.7L527.3 137.2z" fill="#12b1d6"/>
<path d="M516.4 139.0L520.2 137.4L523.7 137.2L519.9 138.7z" fill="#1ca9df"/>
<path d="M509.1 141.0L512.9 139.5L516.4 139.0L512.6 140.5z" fill="#23a0e5"/>
<path d="M501.8 143.3L505.5 141.8L509.1 141.0L505.3 142.5z" fill="#259be8"/>
<path d="M494.5 145.6L498.2 144.0L501.8 143.3L498.0 144.8z" fill="#2b91ef"/>
<path d="M487.2 147.8L490.9 146.1L494.5 145.6L490.7 147.1z" fill="#2e87f7"/>
<path d="M479.9 150.0L483.6 148.3L487.2 147.8L483.4 149.4z" fill="#327cfc"/>
<path d="M472.6 152.2L476.3 150.4L479.9 150.0L476.1 151.6z" fill="#3875fe"/>
<path d="M465.2 154.4L469.0 152.5L472.6 152.2L468.8 153.9z" fill="#4269fe"/>
<path d="M457.9 156.6L461.7 154.6L465.2 154.4L461.5 156.2z" fill="#465efb"/>
<path d="M450.6 158.7L454.4 156.6L457.9 156.6L454.2 158.5z" fill="#4758f8"/>
<path d="M443.3 160.6L447.1 158.4L450.6 158.7L446.9 160.7z" fill="#484df0"/>
<path d="M436.0 162.3L439.8 160.0L443.3 160.6L439.6 162.8z" fill="#4747eb"/>
<path d="M614.9 148.3L618.7 145.2L622.3 152.7L618.5 155.9z" fill="#259be8"/>
<path d="M607.6 144.0L611.4 141.1L614.9 148.3L611.2 151.3z" fill="#1ca9df"/>
<path d="M600.3 140.5L604.1 137.8L607.6 144.0L603.9 147.0z" fill="#12b1d6"/>
<path d="M593.0 137.4L596.8 135.0L600.3 140.5L596.6 143.2z" fill="#02bac3"/>
<path d="M585.7 135.5L589.5 133.3L593.0 137.4L589.3 140.0z" fill="#0bbdbd"/>
<path d="M578.4 134.0L582.2 132.0L585.7 135.5L582.0 137.7z" fill="#19bfb6"/>
<path d="M571.1 133.2L574.9 131.4L578.4 134.0L574.6 136.1z" fill="#24c1ae"/>
<path d="M563.8 133.1L567.6 131.4L571.1 133.2L567.3 135.1z" fill="#24c1ae"/>
<path d="M556.5 133.3L560.2 131.7L563.8 133.1L560.0 134.8z" fill="#19bfb6"/>
<path d="M549.2 133.9L552.9 132.4L556.5 133.3L552.7 134.9z" fill="#19bfb6"/>
<path d="M541.9 134.8L545.6 133.3L549.2 133.9L545.4 135.5z" fill="#0bbdbd"/>
<path d="M534.6 136.0L538.3 134.4L541.9 134.8L538.1 136.4z" fill="#02bac3"/>
<path d="M527.3 137.2L531.0 135.7L534.6 136.0L530.8 137.5z" fill="#01b8ca"/>
<path d="M519.9 138.7L523.7 137.2L527.3 137.2L523.5 138.7z" fill="#12b1d6"/>
<path d="M512.6 140.5L516.4 139.0L519.9 138.7L516.2 140.2z" fill="#18addb"/>
<path d="M505.3 142.5L509.1 141.0L512.6 140.5L508.9 141.9z" fill="#20a5e3"/>
<path d="M498.0 144.8L501.8 143.3L505.3 142.5L501.6 143.8z" fill="#259be8"/>
<path d="M490.7 147.1L494.5 145.6L498.0 144.8L494.3 146.1z" fill="#2b91ef"/>
<path d="M483.4 149.4L487.2 147.8L490.7 147.1L487.0 148.5z" fill="#2d8cf3"/>
<path d="M476.1 151.6L479.9 150.0L483.4 149.4L479.6 150.9z" fill="#2f81fa"/>
<path d="M468.8 153.9L472.6 152.2L476.1 151.6L472.3 153.2z" fill="#3875fe"/>
<path d="M461.5 156.2L465.2 154.4L468.8 153.9L465.0 155.6z" fill="#4269fe"/>
<path d="M454.2 158.5L457.9 156.6L461.5 156.2L457.7 158.0z" fill="#465efb"/>
<path d="M446.9 160.7L450.6 158.7L454.2 158.5L450.4 160.4z" fill="#4758f8"/>
<path d="M439.6 162.8L443.3 160.6L446.9 160.7L443.1 162.8z" fill="#484df0"/>
<path d="M432.3 164.7L436.0 162.3L439.6 162.8L435.8 165.0z" fill="#4747eb"/>
<path d="M618.5 155.9L622.3 152.7L625.8 160.7L622.0 163.8z" fill="#2e87f7"/>
<path d="M611.2 151.3L614.9 148.3L618.5 155.9L614.7 159.0z" fill="#2797eb"/>
<path d="M603.9 147.0L607.6 144.0L611.2 151.3L607.4 154.4z" fill="#20a5e3"/>
<path d="M596.6 143.2L600.3 140.5L603.9 147.0L600.1 149.9z" fill="#12b1d6"/>
<path d="M589.3 140.0L593.0 137.4L596.6 143.2L592.8 146.0z" fill="#01b8ca"/>
<path d="M582.0 137.7L585.7 135.5L589.3 140.0L585.5 142.6z" fill="#0bbdbd"/>
<path d="M574.6 136.1L578.4 134.0L582.0 137.7L578.2 139.9z" fill="#19bfb6"/>
<path d="M567.3 135.1L571.1 133.2L574.6 136.1L570.9 138.2z" fill="#24c1ae"/>
<path d="M560.0 134.8L563.8 133.1L567.3 135.1L563.6 136.9z" fill="#24c1ae"/>
<path d="M552.7 134.9L556.5 133.3L560.0 134.8L556.3 136.5z" fill="#24c1ae"/>
<path d="M545.4 135.5L549.2 133.9L552.7 134.9L549.0 136.6z" fill="#19bfb6"/>
<path d="M538.1 136.4L541.9 134.8L545.4 135.5L541.7 137.0z" fill="#19bfb6"/>
<path d="M530.8 137.5L534.6 136.0L538.1 136.4L534.3 137.9z" fill="#0bbdbd"/>
<path d="M523.5 138.7L527.3 137.2L530.8 137.5L527.0 138.9z" fill="#01b8ca"/>
<path d="M516.2 140.2L519.9 138.7L523.5 138.7L519.7 140.1z" fill="#08b5d0"/>
<path d="M508.9 141.9L512.6 140.5L516.2 140.2L512.4 141.6z" fill="#12b1d6"/>
<path d="M501.6 143.8L505.3 142.5L508.9 141.9L505.1 143.2z" fill="#1ca9df"/>
<path d="M494.3 146.1L498.0 144.8L501.6 143.8L497.8 145.1z" fill="#23a0e5"/>
<path d="M487.0 148.5L490.7 147.1L494.3 146.1L490.5 147.4z" fill="#2797eb"/>
<path d="M479.6 150.9L483.4 149.4L487.0 148.5L483.2 149.8z" fill="#2d8cf3"/>
<path d="M472.3 153.2L476.1 151.6L479.6 150.9L475.9 152.3z" fill="#2f81fa"/>
<path d="M465.0 155.6L468.8 153.9L472.3 153.2L468.6 154.7z" fill="#327cfc"/>
<path d="M457.7 158.0L461.5 156.2L465.0 155.6L461.3 157.2z" fill="#3e6fff"/>
<path d="M450.4 160.4L454.2 158.5L457.7 158.0L454.0 159.8z" fill="#4563fd"/>
<path d="M443.1 162.8L446.9 160.7L450.4 160.4L446.7 162.3z" fill="#4758f8"/>
<path d="M435.8 165.0L439.6 162.8L443.1 162.8L439.4 164.8z" fill="#484df0"/>
<path d="M428.5 167.1L432.3 164.7L435.8 165.0L432.0 167.2z" fill="#4747eb"/>
<path d="M622.0 163.8L625.8 160.7L629.3 168.0L625.6 171.1z" fill="#3e6fff"/>
<path d="M614.7 159.0L618.5 155.9L622.0 163.8L618.3 166.9z" fill="#2f81fa"/>
<path d="M607.4 154.4L611.2 151.3L614.7 159.0L611.0 162.2z" fill="#2797eb"/>
<path d="M600.1 149.9L603.9 147.0L607.4 154.4L603.7 157.4z" fill="#20a5e3"/>
<path d="M592.8 146.0L596.6 143.2L600.1 149.9L596.4 152.9z" fill="#12b1d6"/>
<path d="M585.5 142.6L589.3 140.0L592.8 146.0L589.0 148.8z" fill="#01b8ca"/>
<path d="M578.2 139.9L582.0 137.7L585.5 142.6L581.7 145.2z" fill="#0bbdbd"/>
<path d="M570.9 138.2L574.6 136.1L578.2 139.9L574.4 142.2z" fill="#24c1ae"/>
<path d="M563.6 136.9L567.3 135.1L570.9 138.2L567.1 140.3z" fill="#24c1ae"/>
<path d="M556.3 136.5L560.0 134.8L563.6 136.9L559.8 138.9z" fill="#2cc4a7"/>
<path d="M549.0 136.6L552.7 134.9L556.3 136.5L552.5 138.2z" fill="#2cc4a7"/>
<path d="M541.7 137.0L545.4 135.5L549.0 136.6L545.2 138.2z" fill="#24c1ae"/>
<path d="M534.3 137.9L538.1 136.4L541.7 137.0L537.9 138.5z" fill="#19bfb6"/>
<path d="M527.0 138.9L530.8 137.5L534.3 137.9L530.6 139.3z" fill="#0bbdbd"/>
<path d="M519.7 140.1L523.5 138.7L527.0 138.9L523.3 140.3z" fill="#02bac3"/>
<path d="M512.4 141.6L516.2 140.2L519.7 140.1L516.0 141.5z" fill="#01b8ca"/>
<path d="M505.1 143.2L508.9 141.9L512.4 141.6L508.7 142.8z" fill="#12b1d6"/>
<path d="M497.8 145.1L501.6 143.8L505.1 143.2L501.4 144.5z" fill="#18addb"/>
<path d="M490.5 147.4L494.3 146.1L497.8 145.1L494.0 146.3z" fill="#20a5e3"/>
<path d="M483.2 149.8L487.0 148.5L490.5 147.4L486.7 148.6z" fill="#259be8"/>
<path d="M475.9 152.3L479.6 150.9L483.2 149.8L479.4 151.1z" fill="#2b91ef"/>
<path d="M468.6 154.7L472.3 153.2L475.9 152.3L472.1 153.6z" fill="#2e87f7"/>
<path d="M461.3 157.2L465.0 155.6L468.6 154.7L464.8 156.2z" fill="#327cfc"/>
<path d="M454.0 159.8L457.7 158.0L461.3 157.2L457.5 158.8z" fill="#3e6fff"/>
<path d="M446.7 162.3L450.4 160.4L454.0 159.8L450.2 161.4z" fill="#4563fd"/>
<path d="M439.4 164.8L443.1 162.8L446.7 162.3L442.9 164.1z" fill="#4758f8"/>
<path d="M432.0 167.2L435.8 165.0L439.4 164.8L435.6 166.8z" fill="#484df0"/>
<path d="M424.7 169.4L428.5 167.1L432.0 167.2L428.3 169.4z" fill="#4747eb"/>
<path d="M625.6 171.1L629.3 168.0L632.9 175.2L629.1 178.3z" fill="#4758f8"/>
<path d="M618.3 166.9L622.0 163.8L625.6 171.1L621.8 174.2z" fill="#4269fe"/>
<path d="M611.0 162.2L614.7 159.0L618.3 166.9L614.5 170.0z" fill="#2f81fa"/>
<path d="M603.7 157.4L607.4 154.4L611.0 162.2L607.2 165.3z" fill="#2b91ef"/>
<path d="M596.4 152.9L600.1 149.9L603.7 157.4L599.9 160.5z" fill="#23a0e5"/>
<path d="M589.0 148.8L592.8 146.0L596.4 152.9L592.6 155.9z" fill="#18addb"/>
<path d="M581.7 145.2L585.5 142.6L589.0 148.8L585.3 151.7z" fill="#01b8ca"/>
<path d="M574.4 142.2L578.2 139.9L581.7 145.2L578.0 147.9z" fill="#0bbdbd"/>
<path d="M567.1 140.3L570.9 138.2L574.4 142.2L570.7 144.7z" fill="#24c1ae"/>
<path d="M559.8 138.9L563.6 136.9L567.1 140.3L563.4 142.5z" fill="#2cc4a7"/>
<path d="M552.5 138.2L556.3 136.5L559.8 138.9L556.1 140.9z" fill="#2cc4a7"/>
<path d="M545.2 138.2L549.0 136.6L552.5 138.2L548.7 140.0z" fill="#2cc4a7"/>
<path d="M537.9 138.5L541.7 137.0L545.2 138.2L541.4 139.9z" fill="#2cc4a7"/>
<path d="M530.6 139.3L534.3 137.9L537.9 138.5L534.1 140.1z" fill="#24c1ae"/>
<path d="M523.3 140.3L527.0 138.9L530.6 139.3L526.8 140.7z" fill="#19bfb6"/>
<path d="M516.0 141.5L519.7 140.1L523.3 140.3L519.5 141.7z" fill="#0bbdbd"/>
<path d="M508.7 142.8L512.4 141.6L516.0 141.5L512.2 142.8z" fill="#02bac3"/>
<path d="M501.4 144.5L505.1 143.2L508.7 142.8L504.9 144.1z" fill="#08b5d0"/>
<path d="M494.0 146.3L497.8 145.1L501.4 144.5L497.6 145.6z" fill="#12b1d6"/>
<path d="M486.7 148.6L490.5 147.4L494.0 146.3L490.3 147.5z" fill="#1ca9df"/>
<path d="M479.4 151.1L483.2 149.8L486.7 148.6L483.0 149.7z" fill="#23a0e5"/>
<path d="M472.1 153.6L475.9 152.3L479.4 151.1L475.7 152.2z" fill="#2797eb"/>
<path d="M464.8 156.2L468.6 154.7L472.1 153.6L468.4 154.9z" fill="#2d8cf3"/>
<path d="M457.5 158.8L461.3 157.2L464.8 156.2L461.1 157.5z" fill="#2f81fa"/>
<path d="M450.2 161.4L454.0 159.8L457.5 158.8L453.8 160.3z" fill="#3875fe"/>
<path d="M442.9 164.1L446.7 162.3L450.2 161.4L446.4 163.0z" fill="#4269fe"/>
<path d="M435.6 166.8L439.4 164.8L442.9 164.1L439.1 165.9z" fill="#465efb"/>
<path d="M428.3 169.4L432.0 167.2L435.6 166.8L431.8 168.7z" fill="#4852f4"/>
<path d="M421.0 171.8L424.7 169.4L428.3 169.4L424.5 171.5z" fill="#4747eb"/>
<path d="M629.1 178.3L632.9 175.2L636.4 181.6L632.7 184.5z" fill="#4747eb"/>
<path d="M621.8 174.2L625.6 171.1L629.1 178.3L625.4 181.3z" fill="#4758f8"/>
<path d="M614.5 170.0L618.3 166.9L621.8 174.2L618.1 177.3z" fill="#4269fe"/>
<path d="M607.2 165.3L611.0 162.2L614.5 170.0L610.8 173.0z" fill="#327cfc"/>
<path d="M599.9 160.5L603.7 157.4L607.2 165.3L603.4 168.5z" fill="#2d8cf3"/>
<path d="M592.6 155.9L596.4 152.9L599.9 160.5L596.1 163.5z" fill="#23a0e5"/>
<path d="M585.3 151.7L589.0 148.8L592.6 155.9L588.8 158.9z" fill="#18addb"/>
<path d="M578.0 147.9L581.7 145.2L585.3 151.7L581.5 154.5z" fill="#01b8ca"/>
<path d="M570.7 144.7L574.4 142.2L578.0 147.9L574.2 150.7z" fill="#0bbdbd"/>
<path d="M563.4 142.5L567.1 140.3L570.7 144.7L566.9 147.2z" fill="#24c1ae"/>
<path d="M556.1 140.9L559.8 138.9L563.4 142.5L559.6 144.7z" fill="#2cc4a7"/>
<path d="M548.7 140.0L552.5 138.2L556.1 140.9L552.3 143.0z" fill="#31c69f"/>
<path d="M541.4 139.9L545.2 138.2L548.7 140.0L545.0 141.9z" fill="#31c69f"/>
<path d="M534.1 140.1L537.9 138.5L541.4 139.9L537.7 141.5z" fill="#2cc4a7"/>
<path d="M526.8 140.7L530.6 139.3L534.1 140.1L530.4 141.6z" fill="#2cc4a7"/>
<path d="M519.5 141.7L523.3 140.3L526.8 140.7L523.1 142.1z" fill="#24c1ae"/>
<path d="M512.2 142.8L516.0 141.5L519.5 141.7L515.8 142.9z" fill="#19bfb6"/>
<path d="M504.9 144.1L508.7 142.8L512.2 142.8L508.4 144.0z" fill="#0bbdbd"/>
<path d="M497.6 145.6L501.4 144.5L504.9 144.1L501.1 145.3z" fill="#01b8ca"/>
<path d="M490.3 147.5L494.0 146.3L497.6 145.6L493.8 146.8z" fill="#08b5d0"/>
<path d="M483.0 149.7L486.7 148.6L490.3 147.5L486.5 148.6z" fill="#18addb"/>
<path d="M475.7 152.2L479.4 151.1L483.0 149.7L479.2 150.7z" fill="#20a5e3"/>
<path d="M468.4 154.9L472.1 153.6L475.7 152.2L471.9 153.3z" fill="#259be8"/>
<path d="M461.1 157.5L464.8 156.2L468.4 154.9L464.6 156.0z" fill="#2b91ef"/>
<path d="M453.8 160.3L457.5 158.8L461.1 157.5L457.3 158.8z" fill="#2f81fa"/>
<path d="M446.4 163.0L450.2 161.4L453.8 160.3L450.0 161.7z" fill="#3875fe"/>
<path d="M439.1 165.9L442.9 164.1L446.4 163.0L442.7 164.6z" fill="#4269fe"/>
<path d="M431.8 168.7L435.6 166.8L439.1 165.9L435.4 167.6z" fill="#465efb"/>
<path d="M424.5 171.5L428.3 169.4L431.8 168.7L428.1 170.6z" fill="#4852f4"/>
<path d="M417.2 174.1L421.0 171.8L424.5 171.5L420.8 173.6z" fill="#4747eb"/>
<path d="M632.7 184.5L636.4 181.6L640.0 185.8L636.2 188.4z" fill="#463cde"/>
<path d="M625.4 181.3L629.1 178.3L632.7 184.5L628.9 187.3z" fill="#4747eb"/>
<path d="M618.1 177.3L621.8 174.2L625.4 181.3L621.6 184.3z" fill="#4852f4"/>
<path d="M610.8 173.0L614.5 170.0L618.1 177.3L614.3 180.4z" fill="#4563fd"/>
<path d="M603.4 168.5L607.2 165.3L610.8 173.0L607.0 176.1z" fill="#3875fe"/>
<path d="M596.1 163.5L599.9 160.5L603.4 168.5L599.7 171.6z" fill="#2d8cf3"/>
<path d="M588.8 158.9L592.6 155.9L596.1 163.5L592.4 166.7z" fill="#259be8"/>
<path d="M581.5 154.5L585.3 151.7L588.8 158.9L585.1 161.9z" fill="#18addb"/>
<path d="M574.2 150.7L578.0 147.9L581.5 154.5L577.8 157.4z" fill="#01b8ca"/>
<path d="M566.9 147.2L570.7 144.7L574.2 150.7L570.5 153.4z" fill="#0bbdbd"/>
<path d="M559.6 144.7L563.4 142.5L566.9 147.2L563.1 149.8z" fill="#24c1ae"/>
<path d="M552.3 143.0L556.1 140.9L559.6 144.7L555.8 146.9z" fill="#2cc4a7"/>
<path d="M545.0 141.9L548.7 140.0L552.3 143.0L548.5 145.0z" fill="#31c69f"/>
<path d="M537.7 141.5L541.4 139.9L545.0 141.9L541.2 143.7z" fill="#31c69f"/>
<path d="M530.4 141.6L534.1 140.1L537.7 141.5L533.9 143.1z" fill="#31c69f"/>
<path d="M523.1 142.1L526.8 140.7L530.4 141.6L526.6 143.1z" fill="#31c69f"/>
<path d="M515.8 142.9L519.5 141.7L523.1 142.1L519.3 143.4z" fill="#2cc4a7"/>
<path d="M508.4 144.0L512.2 142.8L515.8 142.9L512.0 144.2z" fill="#24c1ae"/>
<path d="M501.1 145.3L504.9 144.1L508.4 144.0L504.7 145.2z" fill="#19bfb6"/>
<path d="M493.8 146.8L497.6 145.6L501.1 145.3L497.4 146.4z" fill="#02bac3"/>
<path d="M486.5 148.6L490.3 147.5L493.8 146.8L490.1 147.8z" fill="#01b8ca"/>
<path d="M479.2 150.7L483.0 149.7L486.5 148.6L482.8 149.6z" fill="#12b1d6"/>
<path d="M471.9 153.3L475.7 152.2L479.2 150.7L475.5 151.7z" fill="#1ca9df"/>
<path d="M464.6 156.0L468.4 154.9L471.9 153.3L468.1 154.2z" fill="#23a0e5"/>
<path d="M457.3 158.8L461.1 157.5L464.6 156.0L460.8 157.1z" fill="#2b91ef"/>
<path d="M450.0 161.7L453.8 160.3L457.3 158.8L453.5 160.0z" fill="#2e87f7"/>
<path d="M442.7 164.6L446.4 163.0L450.0 161.7L446.2 163.0z" fill="#327cfc"/>
<path d="M435.4 167.6L439.1 165.9L442.7 164.6L438.9 166.1z" fill="#4269fe"/>
<path d="M428.1 170.6L431.8 168.7L435.4 167.6L431.6 169.3z" fill="#465efb"/>
<path d="M420.8 173.6L424.5 171.5L428.1 170.6L424.3 172.5z" fill="#4852f4"/>
<path d="M413.5 176.5L417.2 174.1L420.8 173.6L417.0 175.7z" fill="#4747eb"/>
<path d="M636.2 188.4L640.0 185.8L643.5 188.9L639.8 191.5z" fill="#4537d5"/>
<path d="M628.9 187.3L632.7 184.5L636.2 188.4L632.5 191.0z" fill="#4537d5"/>
<path d="M621.6 184.3L625.4 181.3L628.9 187.3L625.2 190.0z" fill="#4741e5"/>
<path d="M614.3 180.4L618.1 177.3L621.6 184.3L617.8 187.3z" fill="#4852f4"/>
<path d="M607.0 176.1L610.8 173.0L614.3 180.4L610.5 183.5z" fill="#4563fd"/>
<path d="M599.7 171.6L603.4 168.5L607.0 176.1L603.2 179.1z" fill="#3875fe"/>
<path d="M592.4 166.7L596.1 163.5L599.7 171.6L595.9 174.7z" fill="#2e87f7"/>
<path d="M585.1 161.9L588.8 158.9L592.4 166.7L588.6 169.8z" fill="#259be8"/>
<path d="M577.8 157.4L581.5 154.5L585.1 161.9L581.3 164.9z" fill="#1ca9df"/>
<path d="M570.5 153.4L574.2 150.7L577.8 157.4L574.0 160.3z" fill="#08b5d0"/>
<path d="M563.1 149.8L566.9 147.2L570.5 153.4L566.7 156.2z" fill="#0bbdbd"/>
<path d="M555.8 146.9L559.6 144.7L563.1 149.8L559.4 152.4z" fill="#24c1ae"/>
<path d="M548.5 145.0L552.3 143.0L555.8 146.9L552.1 149.3z" fill="#31c69f"/>
<path d="M541.2 143.7L545.0 141.9L548.5 145.0L544.8 147.2z" fill="#37c897"/>
<path d="M533.9 143.1L537.7 141.5L541.2 143.7L537.5 145.6z" fill="#37c897"/>
<path d="M526.6 143.1L530.4 141.6L533.9 143.1L530.2 144.8z" fill="#37c897"/>
<path d="M519.3 143.4L523.1 142.1L526.6 143.1L522.8 144.6z" fill="#31c69f"/>
<path d="M512.0 144.2L515.8 142.9L519.3 143.4L515.5 144.8z" fill="#31c69f"/>
<path d="M504.7 145.2L508.4 144.0L512.0 144.2L508.2 145.4z" fill="#2cc4a7"/>
<path d="M497.4 146.4L501.1 145.3L504.7 145.2L500.9 146.3z" fill="#24c1ae"/>
<path d="M490.1 147.8L493.8 146.8L497.4 146.4L493.6 147.4z" fill="#0bbdbd"/>
<path d="M482.8 149.6L486.5 148.6L490.1 147.8L486.3 148.8z" fill="#02bac3"/>
<path d="M475.5 151.7L479.2 150.7L482.8 149.6L479.0 150.5z" fill="#08b5d0"/>
<path d="M468.1 154.2L471.9 153.3L475.5 151.7L471.7 152.6z" fill="#18addb"/>
<path d="M460.8 157.1L464.6 156.0L468.1 154.2L464.4 155.1z" fill="#20a5e3"/>
<path d="M453.5 160.0L457.3 158.8L460.8 157.1L457.1 158.1z" fill="#2797eb"/>
<path d="M446.2 163.0L450.0 161.7L453.5 160.0L449.8 161.1z" fill="#2d8cf3"/>
<path d="M438.9 166.1L442.7 164.6L446.2 163.0L442.5 164.2z" fill="#327cfc"/>
<path d="M431.6 169.3L435.4 167.6L438.9 166.1L435.2 167.5z" fill="#3e6fff"/>
<path d="M424.3 172.5L428.1 170.6L431.6 169.3L427.9 170.8z" fill="#4563fd"/>
<path d="M417.0 175.7L420.8 173.6L424.3 172.5L420.5 174.3z" fill="#4852f4"/>
<path d="M409.7 178.8L413.5 176.5L417.0 175.7L413.2 177.7z" fill="#4747eb"/>
<path d="M639.8 191.5L643.5 188.9L647.1 191.7L643.3 194.3z" fill="#4332cb"/>
<path d="M632.5 191.0L636.2 188.4L639.8 191.5L636.0 194.1z" fill="#4332cb"/>
<path d="M625.2 190.0L628.9 187.3L632.5 191.0L628.7 193.6z" fill="#4537d5"/>
<path d="M617.8 187.3L621.6 184.3L625.2 190.0L621.4 192.7z" fill="#4741e5"/>
<path d="M610.5 183.5L614.3 180.4L617.8 187.3L614.1 190.3z" fill="#484df0"/>
<path d="M603.2 179.1L607.0 176.1L610.5 183.5L606.8 186.5z" fill="#465efb"/>
<path d="M595.9 174.7L599.7 171.6L603.2 179.1L599.5 182.1z" fill="#3e6fff"/>
<path d="M588.6 169.8L592.4 166.7L595.9 174.7L592.2 177.7z" fill="#2e87f7"/>
<path d="M581.3 164.9L585.1 161.9L588.6 169.8L584.9 172.9z" fill="#2797eb"/>
<path d="M574.0 160.3L577.8 157.4L581.3 164.9L577.5 167.9z" fill="#1ca9df"/>
<path d="M566.7 156.2L570.5 153.4L574.0 160.3L570.2 163.2z" fill="#08b5d0"/>
<path d="M559.4 152.4L563.1 149.8L566.7 156.2L562.9 159.0z" fill="#0bbdbd"/>
<path d="M552.1 149.3L555.8 146.9L559.4 152.4L555.6 155.1z" fill="#24c1ae"/>
<path d="M544.8 147.2L548.5 145.0L552.1 149.3L548.3 151.7z" fill="#31c69f"/>
<path d="M537.5 145.6L541.2 143.7L544.8 147.2L541.0 149.3z" fill="#37c897"/>
<path d="M530.2 144.8L533.9 143.1L537.5 145.6L533.7 147.6z" fill="#3fca8e"/>
<path d="M522.8 144.6L526.6 143.1L530.2 144.8L526.4 146.5z" fill="#3fca8e"/>
<path d="M515.5 144.8L519.3 143.4L522.8 144.6L519.1 146.1z" fill="#37c897"/>
<path d="M508.2 145.4L512.0 144.2L515.5 144.8L511.8 146.1z" fill="#37c897"/>
<path d="M500.9 146.3L504.7 145.2L508.2 145.4L504.5 146.6z" fill="#31c69f"/>
<path d="M493.6 147.4L497.4 146.4L500.9 146.3L497.2 147.4z" fill="#2cc4a7"/>
<path d="M486.3 148.8L490.1 147.8L493.6 147.4L489.9 148.4z" fill="#24c1ae"/>
<path d="M479.0 150.5L482.8 149.6L486.3 148.8L482.6 149.7z" fill="#0bbdbd"/>
<path d="M471.7 152.6L475.5 151.7L479.0 150.5L475.2 151.4z" fill="#01b8ca"/>
<path d="M464.4 155.1L468.1 154.2L471.7 152.6L467.9 153.4z" fill="#12b1d6"/>
<path d="M457.1 158.1L460.8 157.1L464.4 155.1L460.6 156.0z" fill="#1ca9df"/>
<path d="M449.8 161.1L453.5 160.0L457.1 158.1L453.3 159.0z" fill="#259be8"/>
<path d="M442.5 164.2L446.2 163.0L449.8 161.1L446.0 162.1z" fill="#2b91ef"/>
<path d="M435.2 167.5L438.9 166.1L442.5 164.2L438.7 165.4z" fill="#2f81fa"/>
<path d="M427.9 170.8L431.6 169.3L435.2 167.5L431.4 168.8z" fill="#3875fe"/>
<path d="M420.5 174.3L424.3 172.5L427.9 170.8L424.1 172.3z" fill="#4563fd"/>
<path d="M413.2 177.7L417.0 175.7L420.5 174.3L416.8 176.0z" fill="#4852f4"/>
<path d="M405.9 181.2L409.7 178.8L413.2 177.7L409.5 179.7z" fill="#4747eb"/>
<path d="M643.3 194.3L647.1 191.7L650.6 193.9L646.9 196.4z" fill="#4332cb"/>
<path d="M636.0 194.1L639.8 191.5L643.3 194.3L639.6 196.8z" fill="#4332cb"/>
<path d="M628.7 193.6L632.5 191.0L636.0 194.1L632.2 196.7z" fill="#4332cb"/>
<path d="M621.4 192.7L625.2 190.0L628.7 193.6L624.9 196.2z" fill="#4537d5"/>
<path d="M614.1 190.3L617.8 187.3L621.4 192.7L617.6 195.4z" fill="#463cde"/>
<path d="M606.8 186.5L610.5 183.5L614.1 190.3L610.3 193.2z" fill="#484df0"/>
<path d="M599.5 182.1L603.2 179.1L606.8 186.5L603.0 189.6z" fill="#465efb"/>
<path d="M592.2 177.7L595.9 174.7L599.5 182.1L595.7 185.2z" fill="#3e6fff"/>
<path d="M584.9 172.9L588.6 169.8L592.2 177.7L588.4 180.8z" fill="#2f81fa"/>
<path d="M577.5 167.9L581.3 164.9L584.9 172.9L581.1 175.9z" fill="#2797eb"/>
<path d="M570.2 163.2L574.0 160.3L577.5 167.9L573.8 170.9z" fill="#20a5e3"/>
<path d="M562.9 159.0L566.7 156.2L570.2 163.2L566.5 166.2z" fill="#08b5d0"/>
<path d="M555.6 155.1L559.4 152.4L562.9 159.0L559.2 161.8z" fill="#0bbdbd"/>
<path d="M548.3 151.7L552.1 149.3L555.6 155.1L551.9 157.8z" fill="#24c1ae"/>
<path d="M541.0 149.3L544.8 147.2L548.3 151.7L544.6 154.2z" fill="#31c69f"/>
<path d="M533.7 147.6L537.5 145.6L541.0 149.3L537.2 151.5z" fill="#37c897"/>
<path d="M526.4 146.5L530.2 144.8L533.7 147.6L529.9 149.6z" fill="#3fca8e"/>
<path d="M519.1 146.1L522.8 144.6L526.4 146.5L522.6 148.2z" fill="#3fca8e"/>
<path d="M511.8 146.1L515.5 144.8L519.1 146.1L515.3 147.6z" fill="#3fca8e"/>
<path d="M504.5 146.6L508.2 145.4L511.8 146.1L508.0 147.5z" fill="#3fca8e"/>
<path d="M497.2 147.4L500.9 146.3L504.5 146.6L500.7 147.7z" fill="#37c897"/>
<path d="M489.9 148.4L493.6 147.4L497.2 147.4L493.4 148.4z" fill="#31c69f"/>
<path d="M482.6 149.7L486.3 148.8L489.9 148.4L486.1 149.4z" fill="#2cc4a7"/>
<path d="M475.2 151.4L479.0 150.5L482.6 149.7L478.8 150.6z" fill="#19bfb6"/>
<path d="M467.9 153.4L471.7 152.6L475.2 151.4L471.5 152.2z" fill="#02bac3"/>
<path d="M460.6 156.0L464.4 155.1L467.9 153.4L464.2 154.2z" fill="#08b5d0"/>
<path d="M453.3 159.0L457.1 158.1L460.6 156.0L456.9 156.7z" fill="#18addb"/>
<path d="M446.0 162.1L449.8 161.1L453.3 159.0L449.6 159.7z" fill="#23a0e5"/>
<path d="M438.7 165.4L442.5 164.2L446.0 162.1L442.3 163.0z" fill="#2797eb"/>
<path d="M431.4 168.8L435.2 167.5L438.7 165.4L434.9 166.4z" fill="#2e87f7"/>
<path d="M424.1 172.3L427.9 170.8L431.4 168.8L427.6 170.0z" fill="#3875fe"/>
<path d="M416.8 176.0L420.5 174.3L424.1 172.3L420.3 173.7z" fill="#4563fd"/>
<path d="M409.5 179.7L413.2 177.7L416.8 176.0L413.0 177.6z" fill="#4758f8"/>
<path d="M402.2 183.5L405.9 181.2L409.5 179.7L405.7 181.7z" fill="#4747eb"/>
<path d="M646.9 196.4L650.6 193.9L654.2 195.6L650.4 198.0z" fill="#4332cb"/>
<path d="M639.6 196.8L643.3 194.3L646.9 196.4L643.1 198.8z" fill="#4332cb"/>
<path d="M632.2 196.7L636.0 194.1L639.6 196.8L635.8 199.3z" fill="#4332cb"/>
<path d="M624.9 196.2L628.7 193.6L632.2 196.7L628.5 199.3z" fill="#4332cb"/>
<path d="M617.6 195.4L621.4 192.7L624.9 196.2L621.2 198.8z" fill="#4537d5"/>
<path d="M610.3 193.2L614.1 190.3L617.6 195.4L613.9 198.0z" fill="#463cde"/>
<path d="M603.0 189.6L606.8 186.5L610.3 193.2L606.6 196.1z" fill="#4747eb"/>
<path d="M595.7 185.2L599.5 182.1L603.0 189.6L599.3 192.6z" fill="#4758f8"/>
<path d="M588.4 180.8L592.2 177.7L595.7 185.2L591.9 188.3z" fill="#4269fe"/>
<path d="M581.1 175.9L584.9 172.9L588.4 180.8L584.6 183.8z" fill="#2f81fa"/>
<path d="M573.8 170.9L577.5 167.9L581.1 175.9L577.3 179.0z" fill="#2b91ef"/>
<path d="M566.5 166.2L570.2 163.2L573.8 170.9L570.0 173.9z" fill="#20a5e3"/>
<path d="M559.2 161.8L562.9 159.0L566.5 166.2L562.7 169.1z" fill="#12b1d6"/>
<path d="M551.9 157.8L555.6 155.1L559.2 161.8L555.4 164.6z" fill="#02bac3"/>
<path d="M544.6 154.2L548.3 151.7L551.9 157.8L548.1 160.6z" fill="#24c1ae"/>
<path d="M537.2 151.5L541.0 149.3L544.6 154.2L540.8 156.9z" fill="#31c69f"/>
<path d="M529.9 149.6L533.7 147.6L537.2 151.5L533.5 153.8z" fill="#3fca8e"/>
<path d="M522.6 148.2L526.4 146.5L529.9 149.6L526.2 151.6z" fill="#4acb84"/>
<path d="M515.3 147.6L519.1 146.1L522.6 148.2L518.9 150.0z" fill="#4acb84"/>
<path d="M508.0 147.5L511.8 146.1L515.3 147.6L511.6 149.1z" fill="#4acb84"/>
<path d="M500.7 147.7L504.5 146.6L508.0 147.5L504.3 148.8z" fill="#4acb84"/>
<path d="M493.4 148.4L497.2 147.4L500.7 147.7L497.0 148.8z" fill="#3fca8e"/>
<path d="M486.1 149.4L489.9 148.4L493.4 148.4L489.6 149.4z" fill="#37c897"/>
<path d="M478.8 150.6L482.6 149.7L486.1 149.4L482.3 150.2z" fill="#31c69f"/>
<path d="M471.5 152.2L475.2 151.4L478.8 150.6L475.0 151.4z" fill="#24c1ae"/>
<path d="M464.2 154.2L467.9 153.4L471.5 152.2L467.7 152.9z" fill="#19bfb6"/>
<path d="M456.9 156.7L460.6 156.0L464.2 154.2L460.4 154.9z" fill="#02bac3"/>
<path d="M449.6 159.7L453.3 159.0L456.9 156.7L453.1 157.3z" fill="#12b1d6"/>
<path d="M442.3 163.0L446.0 162.1L449.6 159.7L445.8 160.3z" fill="#20a5e3"/>
<path d="M434.9 166.4L438.7 165.4L442.3 163.0L438.5 163.7z" fill="#259be8"/>
<path d="M427.6 170.0L431.4 168.8L434.9 166.4L431.2 167.3z" fill="#2d8cf3"/>
<path d="M420.3 173.7L424.1 172.3L427.6 170.0L423.9 171.0z" fill="#327cfc"/>
<path d="M413.0 177.6L416.8 176.0L420.3 173.7L416.6 175.0z" fill="#4269fe"/>
<path d="M405.7 181.7L409.5 179.7L413.0 177.6L409.3 179.2z" fill="#4758f8"/>
<path d="M398.4 185.9L402.2 183.5L405.7 181.7L402.0 183.6z" fill="#4747eb"/>
<path d="M650.4 198.0L654.2 195.6L657.7 197.3L654.0 199.7z" fill="#4537d5"/>
<path d="M643.1 198.8L646.9 196.4L650.4 198.0L646.6 200.4z" fill="#4332cb"/>
<path d="M635.8 199.3L639.6 196.8L643.1 198.8L639.3 201.2z" fill="#4332cb"/>
<path d="M628.5 199.3L632.2 196.7L635.8 199.3L632.0 201.8z" fill="#4332cb"/>
<path d="M621.2 198.8L624.9 196.2L628.5 199.3L624.7 201.8z" fill="#4332cb"/>
<path d="M613.9 198.0L617.6 195.4L621.2 198.8L617.4 201.4z" fill="#4332cb"/>
<path d="M606.6 196.1L610.3 193.2L613.9 198.0L610.1 200.6z" fill="#463cde"/>
<path d="M599.3 192.6L603.0 189.6L606.6 196.1L602.8 198.9z" fill="#4747eb"/>
<path d="M591.9 188.3L595.7 185.2L599.3 192.6L595.5 195.7z" fill="#4758f8"/>
<path d="M584.6 183.8L588.4 180.8L591.9 188.3L588.2 191.4z" fill="#4269fe"/>
<path d="M577.3 179.0L581.1 175.9L584.6 183.8L580.9 186.7z" fill="#327cfc"/>
<path d="M570.0 173.9L573.8 170.9L577.3 179.0L573.6 182.0z" fill="#2b91ef"/>
<path d="M562.7 169.1L566.5 166.2L570.0 173.9L566.3 177.0z" fill="#20a5e3"/>
<path d="M555.4 164.6L559.2 161.8L562.7 169.1L559.0 172.0z" fill="#12b1d6"/>
<path d="M548.1 160.6L551.9 157.8L555.4 164.6L551.6 167.5z" fill="#02bac3"/>
<path d="M540.8 156.9L544.6 154.2L548.1 160.6L544.3 163.4z" fill="#24c1ae"/>
<path d="M533.5 153.8L537.2 151.5L540.8 156.9L537.0 159.5z" fill="#31c69f"/>
<path d="M526.2 151.6L529.9 149.6L533.5 153.8L529.7 156.2z" fill="#3fca8e"/>
<path d="M518.9 150.0L522.6 148.2L526.2 151.6L522.4 153.8z" fill="#4acb84"/>
<path d="M511.6 149.1L515.3 147.6L518.9 150.0L515.1 151.9z" fill="#57cc7a"/>
<path d="M504.3 148.8L508.0 147.5L511.6 149.1L507.8 150.7z" fill="#57cc7a"/>
<path d="M497.0 148.8L500.7 147.7L504.3 148.8L500.5 150.2z" fill="#57cc7a"/>
<path d="M489.6 149.4L493.4 148.4L497.0 148.8L493.2 150.0z" fill="#4acb84"/>
<path d="M482.3 150.2L486.1 149.4L489.6 149.4L485.9 150.3z" fill="#3fca8e"/>
<path d="M475.0 151.4L478.8 150.6L482.3 150.2L478.6 151.1z" fill="#37c897"/>
<path d="M467.7 152.9L471.5 152.2L475.0 151.4L471.3 152.2z" fill="#31c69f"/>
<path d="M460.4 154.9L464.2 154.2L467.7 152.9L464.0 153.6z" fill="#24c1ae"/>
<path d="M453.1 157.3L456.9 156.7L460.4 154.9L456.7 155.5z" fill="#0bbdbd"/>
<path d="M445.8 160.3L449.6 159.7L453.1 157.3L449.3 157.9z" fill="#08b5d0"/>
<path d="M438.5 163.7L442.3 163.0L445.8 160.3L442.0 160.8z" fill="#18addb"/>
<path d="M431.2 167.3L434.9 166.4L438.5 163.7L434.7 164.3z" fill="#23a0e5"/>
<path d="M423.9 171.0L427.6 170.0L431.2 167.3L427.4 168.0z" fill="#2b91ef"/>
<path d="M416.6 175.0L420.3 173.7L423.9 171.0L420.1 171.9z" fill="#2f81fa"/>
<path d="M409.3 179.2L413.0 177.6L416.6 175.0L412.8 176.1z" fill="#3e6fff"/>
<path d="M402.0 183.6L405.7 181.7L409.3 179.2L405.5 180.6z" fill="#4758f8"/>
<path d="M394.6 188.2L398.4 185.9L402.0 183.6L398.2 185.5z" fill="#4747eb"/>
<path d="M654.0 199.7L657.7 197.3L661.3 199.0L657.5 201.4z" fill="#463cde"/>
<path d="M646.6 200.4L650.4 198.0L654.0 199.7L650.2 202.0z" fill="#4537d5"/>
<path d="M639.3 201.2L643.1 198.8L646.6 200.4L642.9 202.7z" fill="#4332cb"/>
<path d="M632.0 201.8L635.8 199.3L639.3 201.2L635.6 203.6z" fill="#4332cb"/>
<path d="M624.7 201.8L628.5 199.3L632.0 201.8L628.3 204.3z" fill="#4332cb"/>
<path d="M617.4 201.4L621.2 198.8L624.7 201.8L621.0 204.3z" fill="#4332cb"/>
<path d="M610.1 200.6L613.9 198.0L617.4 201.4L613.7 203.9z" fill="#4332cb"/>
<path d="M602.8 198.9L606.6 196.1L610.1 200.6L606.3 203.2z" fill="#4537d5"/>
<path d="M595.5 195.7L599.3 192.6L602.8 198.9L599.0 201.7z" fill="#4741e5"/>
<path d="M588.2 191.4L591.9 188.3L595.5 195.7L591.7 198.6z" fill="#4852f4"/>
<path d="M580.9 186.7L584.6 183.8L588.2 191.4L584.4 194.5z" fill="#4563fd"/>
<path d="M573.6 182.0L577.3 179.0L580.9 186.7L577.1 189.8z" fill="#327cfc"/>
<path d="M566.3 177.0L570.0 173.9L573.6 182.0L569.8 185.1z" fill="#2d8cf3"/>
<path d="M559.0 172.0L562.7 169.1L566.3 177.0L562.5 180.0z" fill="#23a0e5"/>
<path d="M551.6 167.5L555.4 164.6L559.0 172.0L555.2 175.0z" fill="#12b1d6"/>
<path d="M544.3 163.4L548.1 160.6L551.6 167.5L547.9 170.4z" fill="#02bac3"/>
<path d="M537.0 159.5L540.8 156.9L544.3 163.4L540.6 166.2z" fill="#24c1ae"/>
<path d="M529.7 156.2L533.5 153.8L537.0 159.5L533.3 162.3z" fill="#31c69f"/>
<path d="M522.4 153.8L526.2 151.6L529.7 156.2L526.0 158.7z" fill="#3fca8e"/>
<path d="M515.1 151.9L518.9 150.0L522.4 153.8L518.7 155.9z" fill="#57cc7a"/>
<path d="M507.8 150.7L511.6 149.1L515.1 151.9L511.3 153.8z" fill="#57cc7a"/>
<path d="M500.5 150.2L504.3 148.8L507.8 150.7L504.0 152.3z" fill="#64cd6f"/>
<path d="M493.2 150.0L497.0 148.8L500.5 150.2L496.7 151.5z" fill="#64cd6f"/>
<path d="M485.9 150.3L489.6 149.4L493.2 150.0L489.4 151.2z" fill="#57cc7a"/>
<path d="M478.6 151.1L482.3 150.2L485.9 150.3L482.1 151.3z" fill="#57cc7a"/>
<path d="M471.3 152.2L475.0 151.4L478.6 151.1L474.8 151.9z" fill="#4acb84"/>
<path d="M464.0 153.6L467.7 152.9L471.3 152.2L467.5 152.9z" fill="#37c897"/>
<path d="M456.7 155.5L460.4 154.9L464.0 153.6L460.2 154.2z" fill="#31c69f"/>
<path d="M449.3 157.9L453.1 157.3L456.7 155.5L452.9 155.9z" fill="#19bfb6"/>
<path d="M442.0 160.8L445.8 160.3L449.3 157.9L445.6 158.3z" fill="#02bac3"/>
<path d="M434.7 164.3L438.5 163.7L442.0 160.8L438.3 161.1z" fill="#12b1d6"/>
<path d="M427.4 168.0L431.2 167.3L434.7 164.3L431.0 164.7z" fill="#20a5e3"/>
<path d="M420.1 171.9L423.9 171.0L427.4 168.0L423.7 168.5z" fill="#2797eb"/>
<path d="M412.8 176.1L416.6 175.0L420.1 171.9L416.4 172.7z" fill="#2e87f7"/>
<path d="M405.5 180.6L409.3 179.2L412.8 176.1L409.0 177.1z" fill="#3e6fff"/>
<path d="M398.2 185.5L402.0 183.6L405.5 180.6L401.7 182.0z" fill="#465efb"/>
<path d="M390.9 190.5L394.6 188.2L398.2 185.5L394.4 187.2z" fill="#4747eb"/>
<path d="M657.5 201.4L661.3 199.0L664.8 200.8L661.0 203.1z" fill="#463cde"/>
<path d="M650.2 202.0L654.0 199.7L657.5 201.4L653.7 203.7z" fill="#463cde"/>
<path d="M642.9 202.7L646.6 200.4L650.2 202.0L646.4 204.4z" fill="#4537d5"/>
<path d="M635.6 203.6L639.3 201.2L642.9 202.7L639.1 205.1z" fill="#4332cb"/>
<path d="M628.3 204.3L632.0 201.8L635.6 203.6L631.8 206.0z" fill="#4332cb"/>
<path d="M621.0 204.3L624.7 201.8L628.3 204.3L624.5 206.7z" fill="#4332cb"/>
<path d="M613.7 203.9L617.4 201.4L621.0 204.3L617.2 206.9z" fill="#4332cb"/>
<path d="M606.3 203.2L610.1 200.6L613.7 203.9L609.9 206.5z" fill="#4332cb"/>
<path d="M599.0 201.7L602.8 198.9L606.3 203.2L602.6 205.8z" fill="#4537d5"/>
<path d="M591.7 198.6L595.5 195.7L599.0 201.7L595.3 204.4z" fill="#4741e5"/>
<path d="M584.4 194.5L588.2 191.4L591.7 198.6L588.0 201.6z" fill="#4852f4"/>
<path d="M577.1 189.8L580.9 186.7L584.4 194.5L580.7 197.5z" fill="#4563fd"/>
<path d="M569.8 185.1L573.6 182.0L577.1 189.8L573.4 192.8z" fill="#3875fe"/>
<path d="M562.5 180.0L566.3 177.0L569.8 185.1L566.0 188.1z" fill="#2d8cf3"/>
<path d="M555.2 175.0L559.0 172.0L562.5 180.0L558.7 183.1z" fill="#23a0e5"/>
<path d="M547.9 170.4L551.6 167.5L555.2 175.0L551.4 178.1z" fill="#18addb"/>
<path d="M540.6 166.2L544.3 163.4L547.9 170.4L544.1 173.4z" fill="#01b8ca"/>
<path d="M533.3 162.3L537.0 159.5L540.6 166.2L536.8 169.1z" fill="#19bfb6"/>
<path d="M526.0 158.7L529.7 156.2L533.3 162.3L529.5 165.2z" fill="#31c69f"/>
<path d="M518.7 155.9L522.4 153.8L526.0 158.7L522.2 161.4z" fill="#3fca8e"/>
<path d="M511.3 153.8L515.1 151.9L518.7 155.9L514.9 158.2z" fill="#57cc7a"/>
<path d="M504.0 152.3L507.8 150.7L511.3 153.8L507.6 155.9z" fill="#64cd6f"/>
<path d="M496.7 151.5L500.5 150.2L504.0 152.3L500.3 154.0z" fill="#72cd64"/>
<path d="M489.4 151.2L493.2 150.0L496.7 151.5L493.0 152.9z" fill="#72cd64"/>
<path d="M482.1 151.3L485.9 150.3L489.4 151.2L485.7 152.4z" fill="#72cd64"/>
<path d="M474.8 151.9L478.6 151.1L482.1 151.3L478.4 152.3z" fill="#64cd6f"/>
<path d="M467.5 152.9L471.3 152.2L474.8 151.9L471.1 152.7z" fill="#57cc7a"/>
<path d="M460.2 154.2L464.0 153.6L467.5 152.9L463.7 153.5z" fill="#4acb84"/>
<path d="M452.9 155.9L456.7 155.5L460.2 154.2L456.4 154.7z" fill="#37c897"/>
<path d="M445.6 158.3L449.3 157.9L452.9 155.9L449.1 156.3z" fill="#2cc4a7"/>
<path d="M438.3 161.1L442.0 160.8L445.6 158.3L441.8 158.5z" fill="#19bfb6"/>
<path d="M431.0 164.7L434.7 164.3L438.3 161.1L434.5 161.3z" fill="#01b8ca"/>
<path d="M423.7 168.5L427.4 168.0L431.0 164.7L427.2 164.8z" fill="#18addb"/>
<path d="M416.4 172.7L420.1 171.9L423.7 168.5L419.9 168.8z" fill="#259be8"/>
<path d="M409.0 177.1L412.8 176.1L416.4 172.7L412.6 173.2z" fill="#2d8cf3"/>
<path d="M401.7 182.0L405.5 180.6L409.0 177.1L405.3 177.9z" fill="#3875fe"/>
<path d="M394.4 187.2L398.2 185.5L401.7 182.0L398.0 183.2z" fill="#465efb"/>
<path d="M387.1 192.9L390.9 190.5L394.4 187.2L390.7 189.0z" fill="#4747eb"/>
<path d="M661.0 203.1L664.8 200.8L668.4 202.5L664.6 204.9z" fill="#4741e5"/>
<path d="M653.7 203.7L657.5 201.4L661.0 203.1L657.3 205.4z" fill="#463cde"/>
<path d="M646.4 204.4L650.2 202.0L653.7 203.7L650.0 206.0z" fill="#463cde"/>
<path d="M639.1 205.1L642.9 202.7L646.4 204.4L642.7 206.7z" fill="#4537d5"/>
<path d="M631.8 206.0L635.6 203.6L639.1 205.1L635.4 207.4z" fill="#4332cb"/>
<path d="M624.5 206.7L628.3 204.3L631.8 206.0L628.1 208.4z" fill="#4332cb"/>
<path d="M617.2 206.9L621.0 204.3L624.5 206.7L620.7 209.1z" fill="#422ec0"/>
<path d="M609.9 206.5L613.7 203.9L617.2 206.9L613.4 209.4z" fill="#4332cb"/>
<path d="M602.6 205.8L606.3 203.2L609.9 206.5L606.1 209.0z" fill="#4332cb"/>
<path d="M595.3 204.4L599.0 201.7L602.6 205.8L598.8 208.3z" fill="#4537d5"/>
<path d="M588.0 201.6L591.7 198.6L595.3 204.4L591.5 207.1z" fill="#4741e5"/>
<path d="M580.7 197.5L584.4 194.5L588.0 201.6L584.2 204.5z" fill="#484df0"/>
<path d="M573.4 192.8L577.1 189.8L580.7 197.5L576.9 200.5z" fill="#4563fd"/>
<path d="M566.0 188.1L569.8 185.1L573.4 192.8L569.6 195.9z" fill="#3875fe"/>
<path d="M558.7 183.1L562.5 180.0L566.0 188.1L562.3 191.2z" fill="#2e87f7"/>
<path d="M551.4 178.1L555.2 175.0L558.7 183.1L555.0 186.3z" fill="#259be8"/>
<path d="M544.1 173.4L547.9 170.4L551.4 178.1L547.7 181.2z" fill="#18addb"/>
<path d="M536.8 169.1L540.6 166.2L544.1 173.4L540.4 176.4z" fill="#01b8ca"/>
<path d="M529.5 165.2L533.3 162.3L536.8 169.1L533.1 172.0z" fill="#19bfb6"/>
<path d="M522.2 161.4L526.0 158.7L529.5 165.2L525.8 168.0z" fill="#31c69f"/>
<path d="M514.9 158.2L518.7 155.9L522.2 161.4L518.4 164.1z" fill="#3fca8e"/>
<path d="M507.6 155.9L511.3 153.8L514.9 158.2L511.1 160.6z" fill="#57cc7a"/>
<path d="M500.3 154.0L504.0 152.3L507.6 155.9L503.8 157.9z" fill="#72cd64"/>
<path d="M493.0 152.9L496.7 151.5L500.3 154.0L496.5 155.8z" fill="#72cd64"/>
<path d="M485.7 152.4L489.4 151.2L493.0 152.9L489.2 154.4z" fill="#81cc59"/>
<path d="M478.4 152.3L482.1 151.3L485.7 152.4L481.9 153.6z" fill="#81cc59"/>
<path d="M471.1 152.7L474.8 151.9L478.4 152.3L474.6 153.3z" fill="#72cd64"/>
<path d="M463.7 153.5L467.5 152.9L471.1 152.7L467.3 153.5z" fill="#64cd6f"/>
<path d="M456.4 154.7L460.2 154.2L463.7 153.5L460.0 154.1z" fill="#57cc7a"/>
<path d="M449.1 156.3L452.9 155.9L456.4 154.7L452.7 155.1z" fill="#4acb84"/>
<path d="M441.8 158.5L445.6 158.3L449.1 156.3L445.4 156.5z" fill="#37c897"/>
<path d="M434.5 161.3L438.3 161.1L441.8 158.5L438.1 158.6z" fill="#24c1ae"/>
<path d="M427.2 164.8L431.0 164.7L434.5 161.3L430.8 161.2z" fill="#02bac3"/>
<path d="M419.9 168.8L423.7 168.5L427.2 164.8L423.4 164.7z" fill="#12b1d6"/>
<path d="M412.6 173.2L416.4 172.7L419.9 168.8L416.1 168.9z" fill="#20a5e3"/>
<path d="M405.3 177.9L409.0 177.1L412.6 173.2L408.8 173.5z" fill="#2b91ef"/>
<path d="M398.0 183.2L401.7 182.0L405.3 177.9L401.5 178.6z" fill="#327cfc"/>
<path d="M390.7 189.0L394.4 187.2L398.0 183.2L394.2 184.3z" fill="#4563fd"/>
<path d="M383.4 195.2L387.1 192.9L390.7 189.0L386.9 190.6z" fill="#4747eb"/>
<path d="M664.6 204.9L668.4 202.5L671.9 204.3L668.1 206.7z" fill="#4741e5"/>
<path d="M657.3 205.4L661.0 203.1L664.6 204.9L660.8 207.2z" fill="#4741e5"/>
<path d="M650.0 206.0L653.7 203.7L657.3 205.4L653.5 207.8z" fill="#463cde"/>
<path d="M642.7 206.7L646.4 204.4L650.0 206.0L646.2 208.4z" fill="#463cde"/>
<path d="M635.4 207.4L639.1 205.1L642.7 206.7L638.9 209.0z" fill="#4537d5"/>
<path d="M628.1 208.4L631.8 206.0L635.4 207.4L631.6 209.8z" fill="#4332cb"/>
<path d="M620.7 209.1L624.5 206.7L628.1 208.4L624.3 210.7z" fill="#4332cb"/>
<path d="M613.4 209.4L617.2 206.9L620.7 209.1L617.0 211.6z" fill="#422ec0"/>
<path d="M606.1 209.0L609.9 206.5L613.4 209.4L609.7 211.8z" fill="#4332cb"/>
<path d="M598.8 208.3L602.6 205.8L606.1 209.0L602.4 211.6z" fill="#4332cb"/>
<path d="M591.5 207.1L595.3 204.4L598.8 208.3L595.1 210.9z" fill="#4537d5"/>
<path d="M584.2 204.5L588.0 201.6L591.5 207.1L587.8 209.8z" fill="#463cde"/>
<path d="M576.9 200.5L580.7 197.5L584.2 204.5L580.4 207.3z" fill="#484df0"/>
<path d="M569.6 195.9L573.4 192.8L576.9 200.5L573.1 203.6z" fill="#465efb"/>
<path d="M562.3 191.2L566.0 188.1L569.6 195.9L565.8 199.0z" fill="#3e6fff"/>
<path d="M555.0 186.3L558.7 183.1L562.3 191.2L558.5 194.3z" fill="#2e87f7"/>
<path d="M547.7 181.2L551.4 178.1L555.0 186.3L551.2 189.4z" fill="#2797eb"/>
<path d="M540.4 176.4L544.1 173.4L547.7 181.2L543.9 184.4z" fill="#1ca9df"/>
<path d="M533.1 172.0L536.8 169.1L540.4 176.4L536.6 179.5z" fill="#08b5d0"/>
<path d="M525.8 168.0L529.5 165.2L533.1 172.0L529.3 175.0z" fill="#0bbdbd"/>
<path d="M518.4 164.1L522.2 161.4L525.8 168.0L522.0 170.9z" fill="#31c69f"/>
<path d="M511.1 160.6L514.9 158.2L518.4 164.1L514.7 166.9z" fill="#3fca8e"/>
<path d="M503.8 157.9L507.6 155.9L511.1 160.6L507.4 163.2z" fill="#57cc7a"/>
<path d="M496.5 155.8L500.3 154.0L503.8 157.9L500.1 160.1z" fill="#72cd64"/>
<path d="M489.2 154.4L493.0 152.9L496.5 155.8L492.8 157.7z" fill="#81cc59"/>
<path d="M481.9 153.6L485.7 152.4L489.2 154.4L485.5 155.9z" fill="#8fcb4e"/>
<path d="M474.6 153.3L478.4 152.3L481.9 153.6L478.1 154.9z" fill="#8fcb4e"/>
<path d="M467.3 153.5L471.1 152.7L474.6 153.3L470.8 154.3z" fill="#8fcb4e"/>
<path d="M460.0 154.1L463.7 153.5L467.3 153.5L463.5 154.2z" fill="#81cc59"/>
<path d="M452.7 155.1L456.4 154.7L460.0 154.1L456.2 154.6z" fill="#72cd64"/>
<path d="M445.4 156.5L449.1 156.3L452.7 155.1L448.9 155.4z" fill="#64cd6f"/>
<path d="M438.1 158.6L441.8 158.5L445.4 156.5L441.6 156.6z" fill="#4acb84"/>
<path d="M430.8 161.2L434.5 161.3L438.1 158.6L434.3 158.4z" fill="#31c69f"/>
<path d="M423.4 164.7L427.2 164.8L430.8 161.2L427.0 160.9z" fill="#19bfb6"/>
<path d="M416.1 168.9L419.9 168.8L423.4 164.7L419.7 164.3z" fill="#01b8ca"/>
<path d="M408.8 173.5L412.6 173.2L416.1 168.9L412.4 168.6z" fill="#1ca9df"/>
<path d="M401.5 178.6L405.3 177.9L408.8 173.5L405.1 173.5z" fill="#2797eb"/>
<path d="M394.2 184.3L398.0 183.2L401.5 178.6L397.8 179.1z" fill="#2f81fa"/>
<path d="M386.9 190.6L390.7 189.0L394.2 184.3L390.5 185.2z" fill="#4563fd"/>
<path d="M379.6 197.5L383.4 195.2L386.9 190.6L383.1 192.1z" fill="#4747eb"/>
<path d="M660.8 207.2L664.6 204.9L668.1 206.7L664.4 209.0z" fill="#4741e5"/>
<path d="M653.5 207.8L657.3 205.4L660.8 207.2L657.1 209.6z" fill="#4741e5"/>
<path d="M646.2 208.4L650.0 206.0L653.5 207.8L649.8 210.1z" fill="#463cde"/>
<path d="M638.9 209.0L642.7 206.7L646.2 208.4L642.5 210.7z" fill="#463cde"/>
<path d="M631.6 209.8L635.4 207.4L638.9 209.0L635.1 211.4z" fill="#4537d5"/>
<path d="M624.3 210.7L628.1 208.4L631.6 209.8L627.8 212.1z" fill="#4332cb"/>
<path d="M617.0 211.6L620.7 209.1L624.3 210.7L620.5 213.0z" fill="#4332cb"/>
<path d="M609.7 211.8L613.4 209.4L617.0 211.6L613.2 213.9z" fill="#422ec0"/>
<path d="M602.4 211.6L606.1 209.0L609.7 211.8L605.9 214.3z" fill="#422ec0"/>
<path d="M595.1 210.9L598.8 208.3L602.4 211.6L598.6 214.1z" fill="#4332cb"/>
<path d="M587.8 209.8L591.5 207.1L595.1 210.9L591.3 213.4z" fill="#4332cb"/>
<path d="M580.4 207.3L584.2 204.5L587.8 209.8L584.0 212.4z" fill="#463cde"/>
<path d="M573.1 203.6L576.9 200.5L580.4 207.3L576.7 210.2z" fill="#4747eb"/>
<path d="M565.8 199.0L569.6 195.9L573.1 203.6L569.4 206.6z" fill="#465efb"/>
<path d="M558.5 194.3L562.3 191.2L565.8 199.0L562.1 202.2z" fill="#3e6fff"/>
<path d="M551.2 189.4L555.0 186.3L558.5 194.3L554.8 197.4z" fill="#2f81fa"/>
<path d="M543.9 184.4L547.7 181.2L551.2 189.4L547.5 192.7z" fill="#2797eb"/>
<path d="M536.6 179.5L540.4 176.4L543.9 184.4L540.1 187.6z" fill="#1ca9df"/>
<path d="M529.3 175.0L533.1 172.0L536.6 179.5L532.8 182.7z" fill="#08b5d0"/>
<path d="M522.0 170.9L525.8 168.0L529.3 175.0L525.5 178.1z" fill="#0bbdbd"/>
<path d="M514.7 166.9L518.4 164.1L522.0 170.9L518.2 173.8z" fill="#2cc4a7"/>
<path d="M507.4 163.2L511.1 160.6L514.7 166.9L510.9 169.8z" fill="#3fca8e"/>
<path d="M500.1 160.1L503.8 157.9L507.4 163.2L503.6 165.8z" fill="#64cd6f"/>
<path d="M492.8 157.7L496.5 155.8L500.1 160.1L496.3 162.3z" fill="#81cc59"/>
<path d="M485.5 155.9L489.2 154.4L492.8 157.7L489.0 159.7z" fill="#8fcb4e"/>
<path d="M478.1 154.9L481.9 153.6L485.5 155.9L481.7 157.5z" fill="#9dc943"/>
<path d="M470.8 154.3L474.6 153.3L478.1 154.9L474.4 156.1z" fill="#9dc943"/>
<path d="M463.5 154.2L467.3 153.5L470.8 154.3L467.1 155.3z" fill="#9dc943"/>
<path d="M456.2 154.6L460.0 154.1L463.5 154.2L459.8 154.9z" fill="#8fcb4e"/>
<path d="M448.9 155.4L452.7 155.1L456.2 154.6L452.5 155.1z" fill="#8fcb4e"/>
<path d="M441.6 156.6L445.4 156.5L448.9 155.4L445.2 155.6z" fill="#72cd64"/>
<path d="M434.3 158.4L438.1 158.6L441.6 156.6L437.8 156.6z" fill="#64cd6f"/>
<path d="M427.0 160.9L430.8 161.2L434.3 158.4L430.5 158.0z" fill="#4acb84"/>
<path d="M419.7 164.3L423.4 164.7L427.0 160.9L423.2 160.4z" fill="#31c69f"/>
<path d="M412.4 168.6L416.1 168.9L419.7 164.3L415.9 163.7z" fill="#0bbdbd"/>
<path d="M405.1 173.5L408.8 173.5L412.4 168.6L408.6 168.1z" fill="#12b1d6"/>
<path d="M397.8 179.1L401.5 178.6L405.1 173.5L401.3 173.3z" fill="#23a0e5"/>
<path d="M390.5 185.2L394.2 184.3L397.8 179.1L394.0 179.3z" fill="#2e87f7"/>
<path d="M383.1 192.1L386.9 190.6L390.5 185.2L386.7 185.9z" fill="#4269fe"/>
<path d="M657.1 209.6L660.8 207.2L664.4 209.0L660.6 211.4z" fill="#4741e5"/>
<path d="M649.8 210.1L653.5 207.8L657.1 209.6L653.3 211.9z" fill="#4741e5"/>
<path d="M642.5 210.7L646.2 208.4L649.8 210.1L646.0 212.4z" fill="#463cde"/>
<path d="M635.1 211.4L638.9 209.0L642.5 210.7L638.7 213.0z" fill="#463cde"/>
<path d="M627.8 212.1L631.6 209.8L635.1 211.4L631.4 213.7z" fill="#4537d5"/>
<path d="M620.5 213.0L624.3 210.7L627.8 212.1L624.1 214.5z" fill="#4332cb"/>
<path d="M613.2 213.9L617.0 211.6L620.5 213.0L616.8 215.4z" fill="#4332cb"/>
<path d="M605.9 214.3L609.7 211.8L613.2 213.9L609.5 216.3z" fill="#422ec0"/>
<path d="M598.6 214.1L602.4 211.6L605.9 214.3L602.2 216.8z" fill="#422ec0"/>
<path d="M591.3 213.4L595.1 210.9L598.6 214.1L594.8 216.6z" fill="#4332cb"/>
<path d="M584.0 212.4L587.8 209.8L591.3 213.4L587.5 216.0z" fill="#4332cb"/>
<path d="M576.7 210.2L580.4 207.3L584.0 212.4L580.2 214.9z" fill="#463cde"/>
<path d="M569.4 206.6L573.1 203.6L576.7 210.2L572.9 213.0z" fill="#4747eb"/>
<path d="M562.1 202.2L565.8 199.0L569.4 206.6L565.6 209.6z" fill="#4758f8"/>
<path d="M554.8 197.4L558.5 194.3L562.1 202.2L558.3 205.4z" fill="#4269fe"/>
<path d="M547.5 192.7L551.2 189.4L554.8 197.4L551.0 200.6z" fill="#2f81fa"/>
<path d="M540.1 187.6L543.9 184.4L547.5 192.7L543.7 195.9z" fill="#2b91ef"/>
<path d="M532.8 182.7L536.6 179.5L540.1 187.6L536.4 190.9z" fill="#20a5e3"/>
<path d="M525.5 178.1L529.3 175.0L532.8 182.7L529.1 185.9z" fill="#12b1d6"/>
<path d="M518.2 173.8L522.0 170.9L525.5 178.1L521.8 181.1z" fill="#0bbdbd"/>
<path d="M510.9 169.8L514.7 166.9L518.2 173.8L514.5 176.7z" fill="#2cc4a7"/>
<path d="M503.6 165.8L507.4 163.2L510.9 169.8L507.2 172.7z" fill="#3fca8e"/>
<path d="M496.3 162.3L500.1 160.1L503.6 165.8L499.9 168.5z" fill="#64cd6f"/>
<path d="M489.0 159.7L492.8 157.7L496.3 162.3L492.5 164.7z" fill="#81cc59"/>
<path d="M481.7 157.5L485.5 155.9L489.0 159.7L485.2 161.7z" fill="#9dc943"/>
<path d="M474.4 156.1L478.1 154.9L481.7 157.5L477.9 159.2z" fill="#abc739"/>
<path d="M467.1 155.3L470.8 154.3L474.4 156.1L470.6 157.4z" fill="#abc739"/>
<path d="M459.8 154.9L463.5 154.2L467.1 155.3L463.3 156.3z" fill="#abc739"/>
<path d="M452.5 155.1L456.2 154.6L459.8 154.9L456.0 155.6z" fill="#abc739"/>
<path d="M445.2 155.6L448.9 155.4L452.5 155.1L448.7 155.4z" fill="#abc739"/>
<path d="M437.8 156.6L441.6 156.6L445.2 155.6L441.4 155.6z" fill="#9dc943"/>
<path d="M430.5 158.0L434.3 158.4L437.8 156.6L434.1 156.2z" fill="#81cc59"/>
<path d="M423.2 160.4L427.0 160.9L430.5 158.0L426.8 157.4z" fill="#64cd6f"/>
<path d="M415.9 163.7L419.7 164.3L423.2 160.4L419.5 159.5z" fill="#3fca8e"/>
<path d="M408.6 168.1L412.4 168.6L415.9 163.7L412.2 162.7z" fill="#24c1ae"/>
<path d="M401.3 173.3L405.1 173.5L408.6 168.1L404.9 167.3z" fill="#01b8ca"/>
<path d="M394.0 179.3L397.8 179.1L401.3 173.3L397.5 172.8z" fill="#20a5e3"/>
<path d="M386.7 185.9L390.5 185.2L394.0 179.3L390.2 179.2z" fill="#2d8cf3"/>
<path d="M653.3 211.9L657.1 209.6L660.6 211.4L656.9 213.8z" fill="#4741e5"/>
<path d="M646.0 212.4L649.8 210.1L653.3 211.9L649.5 214.2z" fill="#4741e5"/>
<path d="M638.7 213.0L642.5 210.7L646.0 212.4L642.2 214.8z" fill="#463cde"/>
<path d="M631.4 213.7L635.1 211.4L638.7 213.0L634.9 215.4z" fill="#463cde"/>
<path d="M624.1 214.5L627.8 212.1L631.4 213.7L627.6 216.0z" fill="#4537d5"/>
<path d="M616.8 215.4L620.5 213.0L624.1 214.5L620.3 216.8z" fill="#4332cb"/>
<path d="M609.5 216.3L613.2 213.9L616.8 215.4L613.0 217.7z" fill="#4332cb"/>
<path d="M602.2 216.8L605.9 214.3L609.5 216.3L605.7 218.7z" fill="#422ec0"/>
<path d="M594.8 216.6L598.6 214.1L602.2 216.8L598.4 219.2z" fill="#422ec0"/>
<path d="M587.5 216.0L591.3 213.4L594.8 216.6L591.1 219.1z" fill="#4332cb"/>
<path d="M580.2 214.9L584.0 212.4L587.5 216.0L583.8 218.5z" fill="#4332cb"/>
<path d="M572.9 213.0L576.7 210.2L580.2 214.9L576.5 217.5z" fill="#4537d5"/>
<path d="M565.6 209.6L569.4 206.6L572.9 213.0L569.2 215.8z" fill="#4747eb"/>
<path d="M558.3 205.4L562.1 202.2L565.6 209.6L561.9 212.7z" fill="#4852f4"/>
<path d="M551.0 200.6L554.8 197.4L558.3 205.4L554.5 208.6z" fill="#4269fe"/>
<path d="M543.7 195.9L547.5 192.7L551.0 200.6L547.2 203.8z" fill="#327cfc"/>
<path d="M536.4 190.9L540.1 187.6L543.7 195.9L539.9 199.1z" fill="#2b91ef"/>
<path d="M529.1 185.9L532.8 182.7L536.4 190.9L532.6 194.2z" fill="#23a0e5"/>
<path d="M521.8 181.1L525.5 178.1L529.1 185.9L525.3 189.2z" fill="#12b1d6"/>
<path d="M514.5 176.7L518.2 173.8L521.8 181.1L518.0 184.2z" fill="#02bac3"/>
<path d="M507.2 172.7L510.9 169.8L514.5 176.7L510.7 179.6z" fill="#24c1ae"/>
<path d="M499.9 168.5L503.6 165.8L507.2 172.7L503.4 175.5z" fill="#3fca8e"/>
<path d="M492.5 164.7L496.3 162.3L499.9 168.5L496.1 171.3z" fill="#64cd6f"/>
<path d="M485.2 161.7L489.0 159.7L492.5 164.7L488.8 167.3z" fill="#81cc59"/>
<path d="M477.9 159.2L481.7 157.5L485.2 161.7L481.5 163.8z" fill="#9dc943"/>
<path d="M470.6 157.4L474.4 156.1L477.9 159.2L474.2 161.0z" fill="#b9c431"/>
<path d="M463.3 156.3L467.1 155.3L470.6 157.4L466.9 158.7z" fill="#b9c431"/>
<path d="M456.0 155.6L459.8 154.9L463.3 156.3L459.6 157.3z" fill="#c5c22a"/>
<path d="M448.7 155.4L452.5 155.1L456.0 155.6L452.2 156.3z" fill="#c5c22a"/>
<path d="M441.4 155.6L445.2 155.6L448.7 155.4L444.9 155.6z" fill="#c5c22a"/>
<path d="M434.1 156.2L437.8 156.6L441.4 155.6L437.6 155.5z" fill="#b9c431"/>
<path d="M426.8 157.4L430.5 158.0L434.1 156.2L430.3 155.7z" fill="#abc739"/>
<path d="M419.5 159.5L423.2 160.4L426.8 157.4L423.0 156.6z" fill="#8fcb4e"/>
<path d="M412.2 162.7L415.9 163.7L419.5 159.5L415.7 158.4z" fill="#64cd6f"/>
<path d="M404.9 167.3L408.6 168.1L412.2 162.7L408.4 161.5z" fill="#37c897"/>
<path d="M397.5 172.8L401.3 173.3L404.9 167.3L401.1 166.1z" fill="#0bbdbd"/>
<path d="M390.2 179.2L394.0 179.3L397.5 172.8L393.8 171.9z" fill="#18addb"/>
<path d="M649.5 214.2L653.3 211.9L656.9 213.8L653.1 216.1z" fill="#4741e5"/>
<path d="M642.2 214.8L646.0 212.4L649.5 214.2L645.8 216.6z" fill="#4741e5"/>
<path d="M634.9 215.4L638.7 213.0L642.2 214.8L638.5 217.1z" fill="#463cde"/>
<path d="M627.6 216.0L631.4 213.7L634.9 215.4L631.2 217.7z" fill="#463cde"/>
<path d="M620.3 216.8L624.1 214.5L627.6 216.0L623.9 218.3z" fill="#4537d5"/>
<path d="M613.0 217.7L616.8 215.4L620.3 216.8L616.6 219.1z" fill="#4332cb"/>
<path d="M605.7 218.7L609.5 216.3L613.0 217.7L609.2 220.0z" fill="#4332cb"/>
<path d="M598.4 219.2L602.2 216.8L605.7 218.7L601.9 221.0z" fill="#422ec0"/>
<path d="M591.1 219.1L594.8 216.6L598.4 219.2L594.6 221.6z" fill="#422ec0"/>
<path d="M583.8 218.5L587.5 216.0L591.1 219.1L587.3 221.6z" fill="#422ec0"/>
<path d="M576.5 217.5L580.2 214.9L583.8 218.5L580.0 221.0z" fill="#4332cb"/>
<path d="M569.2 215.8L572.9 213.0L576.5 217.5L572.7 220.1z" fill="#4537d5"/>
<path d="M561.9 212.7L565.6 209.6L569.2 215.8L565.4 218.5z" fill="#4741e5"/>
<path d="M554.5 208.6L558.3 205.4L561.9 212.7L558.1 215.7z" fill="#4852f4"/>
<path d="M547.2 203.8L551.0 200.6L554.5 208.6L550.8 211.8z" fill="#4563fd"/>
<path d="M539.9 199.1L543.7 195.9L547.2 203.8L543.5 207.2z" fill="#3875fe"/>
<path d="M532.6 194.2L536.4 190.9L539.9 199.1L536.2 202.3z" fill="#2d8cf3"/>
<path d="M525.3 189.2L529.1 185.9L532.6 194.2L528.9 197.5z" fill="#23a0e5"/>
<path d="M518.0 184.2L521.8 181.1L525.3 189.2L521.6 192.4z" fill="#18addb"/>
<path d="M510.7 179.6L514.5 176.7L518.0 184.2L514.3 187.4z" fill="#02bac3"/>
<path d="M503.4 175.5L507.2 172.7L510.7 179.6L506.9 182.6z" fill="#24c1ae"/>
<path d="M496.1 171.3L499.9 168.5L503.4 175.5L499.6 178.3z" fill="#37c897"/>
<path d="M488.8 167.3L492.5 164.7L496.1 171.3L492.3 174.2z" fill="#64cd6f"/>
<path d="M481.5 163.8L485.2 161.7L488.8 167.3L485.0 169.9z" fill="#81cc59"/>
<path d="M474.2 161.0L477.9 159.2L481.5 163.8L477.7 166.0z" fill="#abc739"/>
<path d="M466.9 158.7L470.6 157.4L474.2 161.0L470.4 162.9z" fill="#b9c431"/>
<path d="M459.6 157.3L463.3 156.3L466.9 158.7L463.1 160.2z" fill="#d1bf27"/>
<path d="M452.2 156.3L456.0 155.6L459.6 157.3L455.8 158.3z" fill="#d1bf27"/>
<path d="M444.9 155.6L448.7 155.4L452.2 156.3L448.5 156.9z" fill="#dcbd29"/>
<path d="M437.6 155.5L441.4 155.6L444.9 155.6L441.2 155.7z" fill="#dcbd29"/>
<path d="M430.3 155.7L434.1 156.2L437.6 155.5L433.9 155.1z" fill="#d1bf27"/>
<path d="M423.0 156.6L426.8 157.4L430.3 155.7L426.6 155.1z" fill="#d1bf27"/>
<path d="M415.7 158.4L419.5 159.5L423.0 156.6L419.3 155.6z" fill="#b9c431"/>
<path d="M408.4 161.5L412.2 162.7L415.7 158.4L411.9 157.1z" fill="#8fcb4e"/>
<path d="M401.1 166.1L404.9 167.3L408.4 161.5L404.6 160.1z" fill="#57cc7a"/>
<path d="M393.8 171.9L397.5 172.8L401.1 166.1L397.3 164.5z" fill="#2cc4a7"/>
<path d="M645.8 216.6L649.5 214.2L653.1 216.1L649.3 218.5z" fill="#4741e5"/>
<path d="M638.5 217.1L642.2 214.8L645.8 216.6L642.0 218.9z" fill="#4741e5"/>
<path d="M631.2 217.7L634.9 215.4L638.5 217.1L634.7 219.5z" fill="#463cde"/>
<path d="M623.9 218.3L627.6 216.0L631.2 217.7L627.4 220.0z" fill="#463cde"/>
<path d="M616.6 219.1L620.3 216.8L623.9 218.3L620.1 220.7z" fill="#4537d5"/>
<path d="M609.2 220.0L613.0 217.7L616.6 219.1L612.8 221.4z" fill="#4332cb"/>
<path d="M601.9 221.0L605.7 218.7L609.2 220.0L605.5 222.4z" fill="#4332cb"/>
<path d="M594.6 221.6L598.4 219.2L601.9 221.0L598.2 223.4z" fill="#422ec0"/>
<path d="M587.3 221.6L591.1 219.1L594.6 221.6L590.9 224.0z" fill="#422ec0"/>
<path d="M580.0 221.0L583.8 218.5L587.3 221.6L583.6 224.1z" fill="#422ec0"/>
<path d="M572.7 220.1L576.5 217.5L580.0 221.0L576.3 223.6z" fill="#4332cb"/>
<path d="M565.4 218.5L569.2 215.8L572.7 220.1L569.0 222.7z" fill="#4537d5"/>
<path d="M558.1 215.7L561.9 212.7L565.4 218.5L561.6 221.3z" fill="#4741e5"/>
<path d="M550.8 211.8L554.5 208.6L558.1 215.7L554.3 218.7z" fill="#484df0"/>
<path d="M543.5 207.2L547.2 203.8L550.8 211.8L547.0 214.9z" fill="#465efb"/>
<path d="M536.2 202.3L539.9 199.1L543.5 207.2L539.7 210.5z" fill="#3875fe"/>
<path d="M528.9 197.5L532.6 194.2L536.2 202.3L532.4 205.6z" fill="#2e87f7"/>
<path d="M521.6 192.4L525.3 189.2L528.9 197.5L525.1 200.8z" fill="#259be8"/>
<path d="M514.3 187.4L518.0 184.2L521.6 192.4L517.8 195.7z" fill="#18addb"/>
<path d="M506.9 182.6L510.7 179.6L514.3 187.4L510.5 190.6z" fill="#01b8ca"/>
<path d="M499.6 178.3L503.4 175.5L506.9 182.6L503.2 185.7z" fill="#24c1ae"/>
<path d="M492.3 174.2L496.1 171.3L499.6 178.3L495.9 181.1z" fill="#37c897"/>
<path d="M485.0 169.9L488.8 167.3L492.3 174.2L488.6 177.0z" fill="#57cc7a"/>
<path d="M477.7 166.0L481.5 163.8L485.0 169.9L481.3 172.6z" fill="#8fcb4e"/>
<path d="M470.4 162.9L474.2 161.0L477.7 166.0L474.0 168.4z" fill="#abc739"/>
<path d="M463.1 160.2L466.9 158.7L470.4 162.9L466.6 164.8z" fill="#c5c22a"/>
<path d="M455.8 158.3L459.6 157.3L463.1 160.2L459.3 161.7z" fill="#dcbd29"/>
<path d="M448.5 156.9L452.2 156.3L455.8 158.3L452.0 159.2z" fill="#e6bb2d"/>
<path d="M441.2 155.7L444.9 155.6L448.5 156.9L444.7 157.4z" fill="#f0ba36"/>
<path d="M433.9 155.1L437.6 155.5L441.2 155.7L437.4 155.9z" fill="#f0ba36"/>
<path d="M426.6 155.1L430.3 155.7L433.9 155.1L430.1 154.7z" fill="#f0ba36"/>
<path d="M419.3 155.6L423.0 156.6L426.6 155.1L422.8 154.3z" fill="#e6bb2d"/>
<path d="M411.9 157.1L415.7 158.4L419.3 155.6L415.5 154.5z" fill="#dcbd29"/>
<path d="M404.6 160.1L408.4 161.5L411.9 157.1L408.2 155.6z" fill="#b9c431"/>
<path d="M397.3 164.5L401.1 166.1L404.6 160.1L400.9 158.2z" fill="#81cc59"/>
<path d="M642.0 218.9L645.8 216.6L649.3 218.5L645.6 220.8z" fill="#4741e5"/>
<path d="M634.7 219.5L638.5 217.1L642.0 218.9L638.3 221.3z" fill="#4741e5"/>
<path d="M627.4 220.0L631.2 217.7L634.7 219.5L631.0 221.8z" fill="#463cde"/>
<path d="M620.1 220.7L623.9 218.3L627.4 220.0L623.6 222.4z" fill="#463cde"/>
<path d="M612.8 221.4L616.6 219.1L620.1 220.7L616.3 223.0z" fill="#4537d5"/>
<path d="M605.5 222.4L609.2 220.0L612.8 221.4L609.0 223.8z" fill="#4332cb"/>
<path d="M598.2 223.4L601.9 221.0L605.5 222.4L601.7 224.7z" fill="#4332cb"/>
<path d="M590.9 224.0L594.6 221.6L598.2 223.4L594.4 225.7z" fill="#422ec0"/>
<path d="M583.6 224.1L587.3 221.6L590.9 224.0L587.1 226.4z" fill="#422ec0"/>
<path d="M576.3 223.6L580.0 221.0L583.6 224.1L579.8 226.5z" fill="#422ec0"/>
<path d="M569.0 222.7L572.7 220.1L576.3 223.6L572.5 226.1z" fill="#4332cb"/>
<path d="M561.6 221.3L565.4 218.5L569.0 222.7L565.2 225.3z" fill="#4537d5"/>
<path d="M554.3 218.7L558.1 215.7L561.6 221.3L557.9 224.0z" fill="#463cde"/>
<path d="M547.0 214.9L550.8 211.8L554.3 218.7L550.6 221.6z" fill="#484df0"/>
<path d="M539.7 210.5L543.5 207.2L547.0 214.9L543.3 218.1z" fill="#465efb"/>
<path d="M532.4 205.6L536.2 202.3L539.7 210.5L536.0 213.8z" fill="#3e6fff"/>
<path d="M525.1 200.8L528.9 197.5L532.4 205.6L528.7 208.9z" fill="#2e87f7"/>
<path d="M517.8 195.7L521.6 192.4L525.1 200.8L521.3 204.0z" fill="#2797eb"/>
<path d="M510.5 190.6L514.3 187.4L517.8 195.7L514.0 199.0z" fill="#1ca9df"/>
<path d="M503.2 185.7L506.9 182.6L510.5 190.6L506.7 193.8z" fill="#01b8ca"/>
<path d="M495.9 181.1L499.6 178.3L503.2 185.7L499.4 188.8z" fill="#19bfb6"/>
<path d="M488.6 177.0L492.3 174.2L495.9 181.1L492.1 184.0z" fill="#37c897"/>
<path d="M481.3 172.6L485.0 169.9L488.6 177.0L484.8 179.7z" fill="#57cc7a"/>
<path d="M474.0 168.4L477.7 166.0L481.3 172.6L477.5 175.4z" fill="#8fcb4e"/>
<path d="M466.6 164.8L470.4 162.9L474.0 168.4L470.2 170.9z" fill="#abc739"/>
<path d="M459.3 161.7L463.1 160.2L466.6 164.8L462.9 166.8z" fill="#d1bf27"/>
<path d="M452.0 159.2L455.8 158.3L459.3 161.7L455.6 163.4z" fill="#e6bb2d"/>
<path d="M444.7 157.4L448.5 156.9L452.0 159.2L448.3 160.2z" fill="#f8ba3d"/>
<path d="M437.4 155.9L441.2 155.7L444.7 157.4L441.0 157.9z" fill="#febe3c"/>
<path d="M430.1 154.7L433.9 155.1L437.4 155.9L433.7 156.0z" fill="#fec338"/>
<path d="M422.8 154.3L426.6 155.1L430.1 154.7L426.3 154.3z" fill="#fec338"/>
<path d="M415.5 154.5L419.3 155.6L422.8 154.3L419.0 153.4z" fill="#fec338"/>
<path d="M408.2 155.6L411.9 157.1L415.5 154.5L411.7 153.2z" fill="#f8ba3d"/>
<path d="M400.9 158.2L404.6 160.1L408.2 155.6L404.4 153.9z" fill="#e6bb2d"/>
<path d="M638.3 221.3L642.0 218.9L645.6 220.8L641.8 223.2z" fill="#4741e5"/>
<path d="M631.0 221.8L634.7 219.5L638.3 221.3L634.5 223.6z" fill="#4741e5"/>
<path d="M623.6 222.4L627.4 220.0L631.0 221.8L627.2 224.2z" fill="#463cde"/>
<path d="M616.3 223.0L620.1 220.7L623.6 222.4L619.9 224.7z" fill="#463cde"/>
<path d="M609.0 223.8L612.8 221.4L616.3 223.0L612.6 225.3z" fill="#4537d5"/>
<path d="M601.7 224.7L605.5 222.4L609.0 223.8L605.3 226.1z" fill="#4332cb"/>
<path d="M594.4 225.7L598.2 223.4L601.7 224.7L598.0 227.0z" fill="#4332cb"/>
<path d="M587.1 226.4L590.9 224.0L594.4 225.7L590.7 228.0z" fill="#422ec0"/>
<path d="M579.8 226.5L583.6 224.1L587.1 226.4L583.4 228.8z" fill="#422ec0"/>
<path d="M572.5 226.1L576.3 223.6L579.8 226.5L576.0 228.9z" fill="#422ec0"/>
<path d="M565.2 225.3L569.0 222.7L572.5 226.1L568.7 228.6z" fill="#4332cb"/>
<path d="M557.9 224.0L561.6 221.3L565.2 225.3L561.4 227.8z" fill="#4332cb"/>
<path d="M550.6 221.6L554.3 218.7L557.9 224.0L554.1 226.6z" fill="#463cde"/>
<path d="M543.3 218.1L547.0 214.9L550.6 221.6L546.8 224.5z" fill="#4747eb"/>
<path d="M536.0 213.8L539.7 210.5L543.3 218.1L539.5 221.2z" fill="#4758f8"/>
<path d="M528.7 208.9L532.4 205.6L536.0 213.8L532.2 217.1z" fill="#4269fe"/>
<path d="M521.3 204.0L525.1 200.8L528.7 208.9L524.9 212.3z" fill="#2f81fa"/>
<path d="M514.0 199.0L517.8 195.7L521.3 204.0L517.6 207.3z" fill="#2797eb"/>
<path d="M506.7 193.8L510.5 190.6L514.0 199.0L510.3 202.3z" fill="#20a5e3"/>
<path d="M499.4 188.8L503.2 185.7L506.7 193.8L503.0 197.1z" fill="#08b5d0"/>
<path d="M492.1 184.0L495.9 181.1L499.4 188.8L495.7 191.9z" fill="#19bfb6"/>
<path d="M484.8 179.7L488.6 177.0L492.1 184.0L488.4 187.0z" fill="#31c69f"/>
<path d="M477.5 175.4L481.3 172.6L484.8 179.7L481.0 182.4z" fill="#57cc7a"/>
<path d="M470.2 170.9L474.0 168.4L477.5 175.4L473.7 178.2z" fill="#81cc59"/>
<path d="M462.9 166.8L466.6 164.8L470.2 170.9L466.4 173.5z" fill="#b9c431"/>
<path d="M455.6 163.4L459.3 161.7L462.9 166.8L459.1 169.0z" fill="#dcbd29"/>
<path d="M448.3 160.2L452.0 159.2L455.6 163.4L451.8 165.0z" fill="#f0ba36"/>
<path d="M441.0 157.9L444.7 157.4L448.3 160.2L444.5 161.4z" fill="#febe3c"/>
<path d="M433.7 156.0L437.4 155.9L441.0 157.9L437.2 158.3z" fill="#fec934"/>
<path d="M426.3 154.3L430.1 154.7L433.7 156.0L429.9 156.0z" fill="#fccf30"/>
<path d="M419.0 153.4L422.8 154.3L426.3 154.3L422.6 154.0z" fill="#fad62d"/>
<path d="M411.7 153.2L415.5 154.5L419.0 153.4L415.3 152.4z" fill="#fad62d"/>
<path d="M404.4 153.9L408.2 155.6L411.7 153.2L408.0 151.9z" fill="#fccf30"/>
<path d="M634.5 223.6L638.3 221.3L641.8 223.2L638.0 225.5z" fill="#4741e5"/>
<path d="M627.2 224.2L631.0 221.8L634.5 223.6L630.7 226.0z" fill="#4741e5"/>
<path d="M619.9 224.7L623.6 222.4L627.2 224.2L623.4 226.5z" fill="#463cde"/>
<path d="M612.6 225.3L616.3 223.0L619.9 224.7L616.1 227.0z" fill="#463cde"/>
<path d="M605.3 226.1L609.0 223.8L612.6 225.3L608.8 227.7z" fill="#4537d5"/>
<path d="M598.0 227.0L601.7 224.7L605.3 226.1L601.5 228.4z" fill="#4537d5"/>
<path d="M590.7 228.0L594.4 225.7L598.0 227.0L594.2 229.3z" fill="#4332cb"/>
<path d="M583.4 228.8L587.1 226.4L590.7 228.0L586.9 230.3z" fill="#422ec0"/>
<path d="M576.0 228.9L579.8 226.5L583.4 228.8L579.6 231.1z" fill="#422ec0"/>
<path d="M568.7 228.6L572.5 226.1L576.0 228.9L572.3 231.4z" fill="#422ec0"/>
<path d="M561.4 227.8L565.2 225.3L568.7 228.6L565.0 231.1z" fill="#422ec0"/>
<path d="M554.1 226.6L557.9 224.0L561.4 227.8L557.7 230.3z" fill="#4332cb"/>
<path d="M546.8 224.5L550.6 221.6L554.1 226.6L550.4 229.2z" fill="#4537d5"/>
<path d="M539.5 221.2L543.3 218.1L546.8 224.5L543.1 227.4z" fill="#4747eb"/>
<path d="M532.2 217.1L536.0 213.8L539.5 221.2L535.7 224.3z" fill="#4852f4"/>
<path d="M524.9 212.3L528.7 208.9L532.2 217.1L528.4 220.3z" fill="#4269fe"/>
<path d="M517.6 207.3L521.3 204.0L524.9 212.3L521.1 215.6z" fill="#327cfc"/>
<path d="M510.3 202.3L514.0 199.0L517.6 207.3L513.8 210.6z" fill="#2b91ef"/>
<path d="M503.0 197.1L506.7 193.8L510.3 202.3L506.5 205.6z" fill="#20a5e3"/>
<path d="M495.7 191.9L499.4 188.8L503.0 197.1L499.2 200.3z" fill="#08b5d0"/>
<path d="M488.4 187.0L492.1 184.0L495.7 191.9L491.9 195.1z" fill="#0bbdbd"/>
<path d="M481.0 182.4L484.8 179.7L488.4 187.0L484.6 190.0z" fill="#31c69f"/>
<path d="M473.7 178.2L477.5 175.4L481.0 182.4L477.3 185.2z" fill="#4acb84"/>
<path d="M466.4 173.5L470.2 170.9L473.7 178.2L470.0 180.8z" fill="#81cc59"/>
<path d="M459.1 169.0L462.9 166.8L466.4 173.5L462.7 176.3z" fill="#b9c431"/>
<path d="M451.8 165.0L455.6 163.4L459.1 169.0L455.4 171.3z" fill="#dcbd29"/>
<path d="M444.5 161.4L448.3 160.2L451.8 165.0L448.1 166.7z" fill="#f8ba3d"/>
<path d="M437.2 158.3L441.0 157.9L444.5 161.4L440.7 162.7z" fill="#fec934"/>
<path d="M429.9 156.0L433.7 156.0L437.2 158.3L433.4 158.9z" fill="#fad62d"/>
<path d="M422.6 154.0L426.3 154.3L429.9 156.0L426.1 156.1z" fill="#f5e327"/>
<path d="M415.3 152.4L419.0 153.4L422.6 154.0L418.8 153.7z" fill="#f5e924"/>
<path d="M408.0 151.9L411.7 153.2L415.3 152.4L411.5 151.6z" fill="#f5e924"/>
<path d="M630.7 226.0L634.5 223.6L638.0 225.5L634.3 227.9z" fill="#4741e5"/>
<path d="M623.4 226.5L627.2 224.2L630.7 226.0L627.0 228.3z" fill="#4741e5"/>
<path d="M616.1 227.0L619.9 224.7L623.4 226.5L619.7 228.8z" fill="#463cde"/>
<path d="M608.8 227.7L612.6 225.3L616.1 227.0L612.4 229.4z" fill="#463cde"/>
<path d="M601.5 228.4L605.3 226.1L608.8 227.7L605.1 230.0z" fill="#4537d5"/>
<path d="M594.2 229.3L598.0 227.0L601.5 228.4L597.8 230.7z" fill="#4537d5"/>
<path d="M586.9 230.3L590.7 228.0L594.2 229.3L590.4 231.6z" fill="#4332cb"/>
<path d="M579.6 231.1L583.4 228.8L586.9 230.3L583.1 232.6z" fill="#422ec0"/>
<path d="M572.3 231.4L576.0 228.9L579.6 231.1L575.8 233.4z" fill="#422ec0"/>
<path d="M565.0 231.1L568.7 228.6L572.3 231.4L568.5 233.8z" fill="#422ec0"/>
<path d="M557.7 230.3L561.4 227.8L565.0 231.1L561.2 233.5z" fill="#422ec0"/>
<path d="M550.4 229.2L554.1 226.6L557.7 230.3L553.9 232.9z" fill="#4332cb"/>
<path d="M543.1 227.4L546.8 224.5L550.4 229.2L546.6 231.8z" fill="#4537d5"/>
<path d="M535.7 224.3L539.5 221.2L543.1 227.4L539.3 230.1z" fill="#4741e5"/>
<path d="M528.4 220.3L532.2 217.1L535.7 224.3L532.0 227.4z" fill="#4852f4"/>
<path d="M521.1 215.6L524.9 212.3L528.4 220.3L524.7 223.5z" fill="#4563fd"/>
<path d="M513.8 210.6L517.6 207.3L521.1 215.6L517.4 219.0z" fill="#327cfc"/>
<path d="M506.5 205.6L510.3 202.3L513.8 210.6L510.1 213.9z" fill="#2d8cf3"/>
<path d="M499.2 200.3L503.0 197.1L506.5 205.6L502.8 208.9z" fill="#23a0e5"/>
<path d="M491.9 195.1L495.7 191.9L499.2 200.3L495.4 203.6z" fill="#12b1d6"/>
<path d="M484.6 190.0L488.4 187.0L491.9 195.1L488.1 198.3z" fill="#0bbdbd"/>
<path d="M477.3 185.2L481.0 182.4L484.6 190.0L480.8 193.1z" fill="#31c69f"/>
<path d="M470.0 180.8L473.7 178.2L477.3 185.2L473.5 188.1z" fill="#4acb84"/>
<path d="M462.7 176.3L466.4 173.5L470.0 180.8L466.2 183.4z" fill="#81cc59"/>
<path d="M455.4 171.3L459.1 169.0L462.7 176.3L458.9 178.9z" fill="#b9c431"/>
<path d="M448.1 166.7L451.8 165.0L455.4 171.3L451.6 173.7z" fill="#e6bb2d"/>
<path d="M440.7 162.7L444.5 161.4L448.1 166.7L444.3 168.7z" fill="#febe3c"/>
<path d="M433.4 158.9L437.2 158.3L440.7 162.7L437.0 164.0z" fill="#fad62d"/>
<path d="M426.1 156.1L429.9 156.0L433.4 158.9L429.7 159.8z" fill="#f5e327"/>
<path d="M418.8 153.7L422.6 154.0L426.1 156.1L422.4 156.1z" fill="#f6ef20"/>
<path d="M411.5 151.6L415.3 152.4L418.8 153.7L415.1 153.5z" fill="#f9fb15"/>
<path d="M627.0 228.3L630.7 226.0L634.3 227.9L630.5 230.3z" fill="#4741e5"/>
<path d="M619.7 228.8L623.4 226.5L627.0 228.3L623.2 230.7z" fill="#4741e5"/>
<path d="M612.4 229.4L616.1 227.0L619.7 228.8L615.9 231.2z" fill="#463cde"/>
<path d="M605.1 230.0L608.8 227.7L612.4 229.4L608.6 231.7z" fill="#463cde"/>
<path d="M597.8 230.7L601.5 228.4L605.1 230.0L601.3 232.3z" fill="#4537d5"/>
<path d="M590.4 231.6L594.2 229.3L597.8 230.7L594.0 233.0z" fill="#4537d5"/>
<path d="M583.1 232.6L586.9 230.3L590.4 231.6L586.7 233.9z" fill="#4332cb"/>
<path d="M575.8 233.4L579.6 231.1L583.1 232.6L579.4 234.9z" fill="#422ec0"/>
<path d="M568.5 233.8L572.3 231.4L575.8 233.4L572.1 235.7z" fill="#422ec0"/>
<path d="M561.2 233.5L565.0 231.1L568.5 233.8L564.8 236.1z" fill="#422ec0"/>
<path d="M553.9 232.9L557.7 230.3L561.2 233.5L557.5 236.0z" fill="#422ec0"/>
<path d="M546.6 231.8L550.4 229.2L553.9 232.9L550.1 235.4z" fill="#4332cb"/>
<path d="M539.3 230.1L543.1 227.4L546.6 231.8L542.8 234.4z" fill="#4537d5"/>
<path d="M532.0 227.4L535.7 224.3L539.3 230.1L535.5 232.9z" fill="#4741e5"/>
<path d="M524.7 223.5L528.4 220.3L532.0 227.4L528.2 230.4z" fill="#484df0"/>
<path d="M517.4 219.0L521.1 215.6L524.7 223.5L520.9 226.7z" fill="#465efb"/>
<path d="M510.1 213.9L513.8 210.6L517.4 219.0L513.6 222.4z" fill="#3875fe"/>
<path d="M502.8 208.9L506.5 205.6L510.1 213.9L506.3 217.3z" fill="#2e87f7"/>
<path d="M495.4 203.6L499.2 200.3L502.8 208.9L499.0 212.2z" fill="#259be8"/>
<path d="M488.1 198.3L491.9 195.1L495.4 203.6L491.7 207.0z" fill="#18addb"/>
<path d="M480.8 193.1L484.6 190.0L488.1 198.3L484.4 201.6z" fill="#02bac3"/>
<path d="M473.5 188.1L477.3 185.2L480.8 193.1L477.1 196.3z" fill="#2cc4a7"/>
<path d="M466.2 183.4L470.0 180.8L473.5 188.1L469.8 191.0z" fill="#4acb84"/>
<path d="M458.9 178.9L462.7 176.3L466.2 183.4L462.5 185.9z" fill="#81cc59"/>
<path d="M451.6 173.7L455.4 171.3L458.9 178.9L455.1 181.3z" fill="#b9c431"/>
<path d="M444.3 168.7L448.1 166.7L451.6 173.7L447.8 176.3z" fill="#e6bb2d"/>
<path d="M437.0 164.0L440.7 162.7L444.3 168.7L440.5 170.8z" fill="#fec338"/>
<path d="M429.7 159.8L433.4 158.9L437.0 164.0L433.2 165.6z" fill="#f7dc2a"/>
<path d="M422.4 156.1L426.1 156.1L429.7 159.8L425.9 161.0z" fill="#f6ef20"/>
<path d="M415.1 153.5L418.8 153.7L422.4 156.1L418.6 156.6z" fill="#f9fb15"/>
<path d="M623.2 230.7L627.0 228.3L630.5 230.3L626.8 232.6z" fill="#4741e5"/>
<path d="M615.9 231.2L619.7 228.8L623.2 230.7L619.5 233.1z" fill="#4741e5"/>
<path d="M608.6 231.7L612.4 229.4L615.9 231.2L612.1 233.5z" fill="#463cde"/>
<path d="M601.3 232.3L605.1 230.0L608.6 231.7L604.8 234.0z" fill="#463cde"/>
<path d="M594.0 233.0L597.8 230.7L601.3 232.3L597.5 234.6z" fill="#4537d5"/>
<path d="M586.7 233.9L590.4 231.6L594.0 233.0L590.2 235.3z" fill="#4537d5"/>
<path d="M579.4 234.9L583.1 232.6L586.7 233.9L582.9 236.1z" fill="#4332cb"/>
<path d="M572.1 235.7L575.8 233.4L579.4 234.9L575.6 237.1z" fill="#422ec0"/>
<path d="M564.8 236.1L568.5 233.8L572.1 235.7L568.3 238.0z" fill="#422ec0"/>
<path d="M557.5 236.0L561.2 233.5L564.8 236.1L561.0 238.5z" fill="#422ec0"/>
<path d="M550.1 235.4L553.9 232.9L557.5 236.0L553.7 238.4z" fill="#422ec0"/>
<path d="M542.8 234.4L546.6 231.8L550.1 235.4L546.4 237.9z" fill="#4332cb"/>
<path d="M535.5 232.9L539.3 230.1L542.8 234.4L539.1 237.0z" fill="#4537d5"/>
<path d="M528.2 230.4L532.0 227.4L535.5 232.9L531.8 235.6z" fill="#463cde"/>
<path d="M520.9 226.7L524.7 223.5L528.2 230.4L524.5 233.3z" fill="#484df0"/>
<path d="M513.6 222.4L517.4 219.0L520.9 226.7L517.2 229.9z" fill="#465efb"/>
<path d="M506.3 217.3L510.1 213.9L513.6 222.4L509.8 225.7z" fill="#3e6fff"/>
<path d="M499.0 212.2L502.8 208.9L506.3 217.3L502.5 220.7z" fill="#2e87f7"/>
<path d="M491.7 207.0L495.4 203.6L499.0 212.2L495.2 215.5z" fill="#259be8"/>
<path d="M484.4 201.6L488.1 198.3L491.7 207.0L487.9 210.3z" fill="#18addb"/>
<path d="M477.1 196.3L480.8 193.1L484.4 201.6L480.6 204.9z" fill="#02bac3"/>
<path d="M469.8 191.0L473.5 188.1L477.1 196.3L473.3 199.5z" fill="#2cc4a7"/>
<path d="M462.5 185.9L466.2 183.4L469.8 191.0L466.0 194.0z" fill="#4acb84"/>
<path d="M455.1 181.3L458.9 178.9L462.5 185.9L458.7 188.6z" fill="#81cc59"/>
<path d="M447.8 176.3L451.6 173.7L455.1 181.3L451.4 183.6z" fill="#b9c431"/>
<path d="M440.5 170.8L444.3 168.7L447.8 176.3L444.1 178.9z" fill="#f0ba36"/>
<path d="M433.2 165.6L437.0 164.0L440.5 170.8L436.8 173.2z" fill="#fec934"/>
<path d="M425.9 161.0L429.7 159.8L433.2 165.6L429.5 167.6z" fill="#f5e327"/>
<path d="M418.6 156.6L422.4 156.1L425.9 161.0L422.2 162.3z" fill="#f9fb15"/>
<path d="M619.5 233.1L623.2 230.7L626.8 232.6L623.0 235.0z" fill="#4741e5"/>
<path d="M612.1 233.5L615.9 231.2L619.5 233.1L615.7 235.4z" fill="#4741e5"/>
<path d="M604.8 234.0L608.6 231.7L612.1 233.5L608.4 235.9z" fill="#463cde"/>
<path d="M597.5 234.6L601.3 232.3L604.8 234.0L601.1 236.4z" fill="#463cde"/>
<path d="M590.2 235.3L594.0 233.0L597.5 234.6L593.8 236.9z" fill="#4537d5"/>
<path d="M582.9 236.1L586.7 233.9L590.2 235.3L586.5 237.6z" fill="#4537d5"/>
<path d="M575.6 237.1L579.4 234.9L582.9 236.1L579.2 238.4z" fill="#4332cb"/>
<path d="M568.3 238.0L572.1 235.7L575.6 237.1L571.9 239.4z" fill="#422ec0"/>
<path d="M561.0 238.5L564.8 236.1L568.3 238.0L564.5 240.3z" fill="#422ec0"/>
<path d="M553.7 238.4L557.5 236.0L561.0 238.5L557.2 240.8z" fill="#422ec0"/>
<path d="M546.4 237.9L550.1 235.4L553.7 238.4L549.9 240.9z" fill="#422ec0"/>
<path d="M539.1 237.0L542.8 234.4L546.4 237.9L542.6 240.4z" fill="#4332cb"/>
<path d="M531.8 235.6L535.5 232.9L539.1 237.0L535.3 239.5z" fill="#4332cb"/>
<path d="M524.5 233.3L528.2 230.4L531.8 235.6L528.0 238.2z" fill="#463cde"/>
<path d="M517.2 229.9L520.9 226.7L524.5 233.3L520.7 236.1z" fill="#4747eb"/>
<path d="M509.8 225.7L513.6 222.4L517.2 229.9L513.4 233.0z" fill="#4758f8"/>
<path d="M502.5 220.7L506.3 217.3L509.8 225.7L506.1 228.9z" fill="#4269fe"/>
<path d="M495.2 215.5L499.0 212.2L502.5 220.7L498.8 224.2z" fill="#2f81fa"/>
<path d="M487.9 210.3L491.7 207.0L495.2 215.5L491.5 218.9z" fill="#2797eb"/>
<path d="M480.6 204.9L484.4 201.6L487.9 210.3L484.2 213.7z" fill="#1ca9df"/>
<path d="M473.3 199.5L477.1 196.3L480.6 204.9L476.9 208.3z" fill="#01b8ca"/>
<path d="M466.0 194.0L469.8 191.0L473.3 199.5L469.5 202.7z" fill="#24c1ae"/>
<path d="M458.7 188.6L462.5 185.9L466.0 194.0L462.2 197.1z" fill="#4acb84"/>
<path d="M451.4 183.6L455.1 181.3L458.7 188.6L454.9 191.4z" fill="#81cc59"/>
<path d="M444.1 178.9L447.8 176.3L451.4 183.6L447.6 186.0z" fill="#b9c431"/>
<path d="M436.8 173.2L440.5 170.8L444.1 178.9L440.3 181.1z" fill="#e6bb2d"/>
<path d="M429.5 167.6L433.2 165.6L436.8 173.2L433.0 175.9z" fill="#fec934"/>
<path d="M422.2 162.3L425.9 161.0L429.5 167.6L425.7 169.8z" fill="#f5e924"/>
<path d="M615.7 235.4L619.5 233.1L623.0 235.0L619.2 237.3z" fill="#4741e5"/>
<path d="M608.4 235.9L612.1 233.5L615.7 235.4L611.9 237.7z" fill="#4741e5"/>
<path d="M601.1 236.4L604.8 234.0L608.4 235.9L604.6 238.2z" fill="#4741e5"/>
<path d="M593.8 236.9L597.5 234.6L601.1 236.4L597.3 238.7z" fill="#463cde"/>
<path d="M586.5 237.6L590.2 235.3L593.8 236.9L590.0 239.2z" fill="#4537d5"/>
<path d="M579.2 238.4L582.9 236.1L586.5 237.6L582.7 239.9z" fill="#4537d5"/>
<path d="M571.9 239.4L575.6 237.1L579.2 238.4L575.4 240.7z" fill="#4332cb"/>
<path d="M564.5 240.3L568.3 238.0L571.9 239.4L568.1 241.6z" fill="#422ec0"/>
<path d="M557.2 240.8L561.0 238.5L564.5 240.3L560.8 242.6z" fill="#422ec0"/>
<path d="M549.9 240.9L553.7 238.4L557.2 240.8L553.5 243.1z" fill="#422ec0"/>
<path d="M542.6 240.4L546.4 237.9L549.9 240.9L546.2 243.3z" fill="#422ec0"/>
<path d="M535.3 239.5L539.1 237.0L542.6 240.4L538.9 242.8z" fill="#422ec0"/>
<path d="M528.0 238.2L531.8 235.6L535.3 239.5L531.6 242.0z" fill="#4332cb"/>
<path d="M520.7 236.1L524.5 233.3L528.0 238.2L524.2 240.8z" fill="#463cde"/>
<path d="M513.4 233.0L517.2 229.9L520.7 236.1L516.9 238.9z" fill="#4747eb"/>
<path d="M506.1 228.9L509.8 225.7L513.4 233.0L509.6 236.0z" fill="#4852f4"/>
<path d="M498.8 224.2L502.5 220.7L506.1 228.9L502.3 232.2z" fill="#4269fe"/>
<path d="M491.5 218.9L495.2 215.5L498.8 224.2L495.0 227.7z" fill="#327cfc"/>
<path d="M484.2 213.7L487.9 210.3L491.5 218.9L487.7 222.4z" fill="#2b91ef"/>
<path d="M476.9 208.3L480.6 204.9L484.2 213.7L480.4 217.1z" fill="#20a5e3"/>
<path d="M469.5 202.7L473.3 199.5L476.9 208.3L473.1 211.6z" fill="#08b5d0"/>
<path d="M462.2 197.1L466.0 194.0L469.5 202.7L465.8 205.9z" fill="#24c1ae"/>
<path d="M454.9 191.4L458.7 188.6L462.2 197.1L458.5 200.2z" fill="#3fca8e"/>
<path d="M447.6 186.0L451.4 183.6L454.9 191.4L451.2 194.4z" fill="#81cc59"/>
<path d="M440.3 181.1L444.1 178.9L447.6 186.0L443.9 188.6z" fill="#b9c431"/>
<path d="M433.0 175.9L436.8 173.2L440.3 181.1L436.6 183.2z" fill="#e6bb2d"/>
<path d="M425.7 169.8L429.5 167.6L433.0 175.9L429.2 178.3z" fill="#fccf30"/>
<path d="M611.9 237.7L615.7 235.4L619.2 237.3L615.5 239.7z" fill="#4741e5"/>
<path d="M604.6 238.2L608.4 235.9L611.9 237.7L608.2 240.1z" fill="#4741e5"/>
<path d="M597.3 238.7L601.1 236.4L604.6 238.2L600.9 240.5z" fill="#4741e5"/>
<path d="M590.0 239.2L593.8 236.9L597.3 238.7L593.6 241.0z" fill="#463cde"/>
<path d="M582.7 239.9L586.5 237.6L590.0 239.2L586.3 241.6z" fill="#463cde"/>
<path d="M575.4 240.7L579.2 238.4L582.7 239.9L578.9 242.2z" fill="#4537d5"/>
<path d="M568.1 241.6L571.9 239.4L575.4 240.7L571.6 243.0z" fill="#4332cb"/>
<path d="M560.8 242.6L564.5 240.3L568.1 241.6L564.3 243.9z" fill="#422ec0"/>
<path d="M553.5 243.1L557.2 240.8L560.8 242.6L557.0 244.8z" fill="#422ec0"/>
<path d="M546.2 243.3L549.9 240.9L553.5 243.1L549.7 245.4z" fill="#422ec0"/>
<path d="M538.9 242.8L542.6 240.4L546.2 243.3L542.4 245.6z" fill="#422ec0"/>
<path d="M531.6 242.0L535.3 239.5L538.9 242.8L535.1 245.3z" fill="#422ec0"/>
<path d="M524.2 240.8L528.0 238.2L531.6 242.0L527.8 244.5z" fill="#4332cb"/>
<path d="M516.9 238.9L520.7 236.1L524.2 240.8L520.5 243.4z" fill="#4537d5"/>
<path d="M509.6 236.0L513.4 233.0L516.9 238.9L513.2 241.7z" fill="#4741e5"/>
<path d="M502.3 232.2L506.1 228.9L509.6 236.0L505.9 239.1z" fill="#4852f4"/>
<path d="M495.0 227.7L498.8 224.2L502.3 232.2L498.6 235.4z" fill="#4563fd"/>
<path d="M487.7 222.4L491.5 218.9L495.0 227.7L491.3 231.1z" fill="#3875fe"/>
<path d="M480.4 217.1L484.2 213.7L487.7 222.4L483.9 226.0z" fill="#2d8cf3"/>
<path d="M473.1 211.6L476.9 208.3L480.4 217.1L476.6 220.5z" fill="#23a0e5"/>
<path d="M465.8 205.9L469.5 202.7L473.1 211.6L469.3 215.0z" fill="#08b5d0"/>
<path d="M458.5 200.2L462.2 197.1L465.8 205.9L462.0 209.3z" fill="#19bfb6"/>
<path d="M451.2 194.4L454.9 191.4L458.5 200.2L454.7 203.4z" fill="#3fca8e"/>
<path d="M443.9 188.6L447.6 186.0L451.2 194.4L447.4 197.5z" fill="#72cd64"/>
<path d="M436.6 183.2L440.3 181.1L443.9 188.6L440.1 191.5z" fill="#b9c431"/>
<path d="M429.2 178.3L433.0 175.9L436.6 183.2L432.8 185.7z" fill="#e6bb2d"/>
<path d="M608.2 240.1L611.9 237.7L615.5 239.7L611.7 242.0z" fill="#4741e5"/>
<path d="M600.9 240.5L604.6 238.2L608.2 240.1L604.4 242.4z" fill="#4741e5"/>
<path d="M593.6 241.0L597.3 238.7L600.9 240.5L597.1 242.9z" fill="#4741e5"/>
<path d="M586.3 241.6L590.0 239.2L593.6 241.0L589.8 243.4z" fill="#463cde"/>
<path d="M578.9 242.2L582.7 239.9L586.3 241.6L582.5 243.9z" fill="#463cde"/>
<path d="M571.6 243.0L575.4 240.7L578.9 242.2L575.2 244.5z" fill="#4537d5"/>
<path d="M564.3 243.9L568.1 241.6L571.6 243.0L567.9 245.2z" fill="#4332cb"/>
<path d="M557.0 244.8L560.8 242.6L564.3 243.9L560.6 246.1z" fill="#4332cb"/>
<path d="M549.7 245.4L553.5 243.1L557.0 244.8L553.3 247.1z" fill="#422ec0"/>
<path d="M542.4 245.6L546.2 243.3L549.7 245.4L546.0 247.7z" fill="#422ec0"/>
<path d="M535.1 245.3L538.9 242.8L542.4 245.6L538.6 248.0z" fill="#422ec0"/>
<path d="M527.8 244.5L531.6 242.0L535.1 245.3L531.3 247.7z" fill="#422ec0"/>
<path d="M520.5 243.4L524.2 240.8L527.8 244.5L524.0 247.0z" fill="#4332cb"/>
<path d="M513.2 241.7L516.9 238.9L520.5 243.4L516.7 246.0z" fill="#4537d5"/>
<path d="M505.9 239.1L509.6 236.0L513.2 241.7L509.4 244.4z" fill="#4741e5"/>
<path d="M498.6 235.4L502.3 232.2L505.9 239.1L502.1 242.0z" fill="#484df0"/>
<path d="M491.3 231.1L495.0 227.7L498.6 235.4L494.8 238.6z" fill="#465efb"/>
<path d="M483.9 226.0L487.7 222.4L491.3 231.1L487.5 234.5z" fill="#3875fe"/>
<path d="M476.6 220.5L480.4 217.1L483.9 226.0L480.2 229.6z" fill="#2d8cf3"/>
<path d="M469.3 215.0L473.1 211.6L476.6 220.5L472.9 224.1z" fill="#23a0e5"/>
<path d="M462.0 209.3L465.8 205.9L469.3 215.0L465.6 218.4z" fill="#12b1d6"/>
<path d="M454.7 203.4L458.5 200.2L462.0 209.3L458.3 212.7z" fill="#0bbdbd"/>
<path d="M447.4 197.5L451.2 194.4L454.7 203.4L451.0 206.7z" fill="#37c897"/>
<path d="M440.1 191.5L443.9 188.6L447.4 197.5L443.6 200.7z" fill="#72cd64"/>
<path d="M432.8 185.7L436.6 183.2L440.1 191.5L436.3 194.6z" fill="#b9c431"/>
<path d="M604.4 242.4L608.2 240.1L611.7 242.0L608.0 244.4z" fill="#4741e5"/>
<path d="M597.1 242.9L600.9 240.5L604.4 242.4L600.7 244.8z" fill="#4741e5"/>
<path d="M589.8 243.4L593.6 241.0L597.1 242.9L593.3 245.2z" fill="#4741e5"/>
<path d="M582.5 243.9L586.3 241.6L589.8 243.4L586.0 245.7z" fill="#463cde"/>
<path d="M575.2 244.5L578.9 242.2L582.5 243.9L578.7 246.2z" fill="#463cde"/>
<path d="M567.9 245.2L571.6 243.0L575.2 244.5L571.4 246.8z" fill="#4537d5"/>
<path d="M560.6 246.1L564.3 243.9L567.9 245.2L564.1 247.5z" fill="#4332cb"/>
<path d="M553.3 247.1L557.0 244.8L560.6 246.1L556.8 248.3z" fill="#4332cb"/>
<path d="M546.0 247.7L549.7 245.4L553.3 247.1L549.5 249.3z" fill="#422ec0"/>
<path d="M538.6 248.0L542.4 245.6L546.0 247.7L542.2 250.0z" fill="#422ec0"/>
<path d="M531.3 247.7L535.1 245.3L538.6 248.0L534.9 250.3z" fill="#422ec0"/>
<path d="M524.0 247.0L527.8 244.5L531.3 247.7L527.6 250.1z" fill="#422ec0"/>
<path d="M516.7 246.0L520.5 243.4L524.0 247.0L520.3 249.5z" fill="#4332cb"/>
<path d="M509.4 244.4L513.2 241.7L516.7 246.0L513.0 248.6z" fill="#4537d5"/>
<path d="M502.1 242.0L505.9 239.1L509.4 244.4L505.7 247.1z" fill="#463cde"/>
<path d="M494.8 238.6L498.6 235.4L502.1 242.0L498.3 244.9z" fill="#484df0"/>
<path d="M487.5 234.5L491.3 231.1L494.8 238.6L491.0 241.8z" fill="#4758f8"/>
<path d="M480.2 229.6L483.9 226.0L487.5 234.5L483.7 237.8z" fill="#3e6fff"/>
<path d="M472.9 224.1L476.6 220.5L480.2 229.6L476.4 233.2z" fill="#2e87f7"/>
<path d="M465.6 218.4L469.3 215.0L472.9 224.1L469.1 227.8z" fill="#259be8"/>
<path d="M458.3 212.7L462.0 209.3L465.6 218.4L461.8 222.0z" fill="#18addb"/>
<path d="M451.0 206.7L454.7 203.4L458.3 212.7L454.5 216.2z" fill="#0bbdbd"/>
<path d="M443.6 200.7L447.4 197.5L451.0 206.7L447.2 210.2z" fill="#31c69f"/>
<path d="M436.3 194.6L440.1 191.5L443.6 200.7L439.9 204.0z" fill="#64cd6f"/>
<path d="M600.7 244.8L604.4 242.4L608.0 244.4L604.2 246.7z" fill="#4741e5"/>
<path d="M593.3 245.2L597.1 242.9L600.7 244.8L596.9 247.1z" fill="#4741e5"/>
<path d="M586.0 245.7L589.8 243.4L593.3 245.2L589.6 247.6z" fill="#4741e5"/>
<path d="M578.7 246.2L582.5 243.9L586.0 245.7L582.3 248.0z" fill="#463cde"/>
<path d="M571.4 246.8L575.2 244.5L578.7 246.2L575.0 248.5z" fill="#463cde"/>
<path d="M564.1 247.5L567.9 245.2L571.4 246.8L567.7 249.1z" fill="#4537d5"/>
<path d="M556.8 248.3L560.6 246.1L564.1 247.5L560.4 249.8z" fill="#4332cb"/>
<path d="M549.5 249.3L553.3 247.1L556.8 248.3L553.0 250.6z" fill="#4332cb"/>
<path d="M542.2 250.0L546.0 247.7L549.5 249.3L545.7 251.5z" fill="#422ec0"/>
<path d="M534.9 250.3L538.6 248.0L542.2 250.0L538.4 252.2z" fill="#422ec0"/>
<path d="M527.6 250.1L531.3 247.7L534.9 250.3L531.1 252.6z" fill="#422ec0"/>
<path d="M520.3 249.5L524.0 247.0L527.6 250.1L523.8 252.5z" fill="#422ec0"/>
<path d="M513.0 248.6L516.7 246.0L520.3 249.5L516.5 252.0z" fill="#4332cb"/>
<path d="M505.7 247.1L509.4 244.4L513.0 248.6L509.2 251.1z" fill="#4537d5"/>
<path d="M498.3 244.9L502.1 242.0L505.7 247.1L501.9 249.7z" fill="#463cde"/>
<path d="M491.0 241.8L494.8 238.6L498.3 244.9L494.6 247.7z" fill="#4747eb"/>
<path d="M483.7 237.8L487.5 234.5L491.0 241.8L487.3 244.9z" fill="#4758f8"/>
<path d="M476.4 233.2L480.2 229.6L483.7 237.8L480.0 241.1z" fill="#4269fe"/>
<path d="M469.1 227.8L472.9 224.1L476.4 233.2L472.7 236.7z" fill="#2f81fa"/>
<path d="M461.8 222.0L465.6 218.4L469.1 227.8L465.4 231.5z" fill="#2797eb"/>
<path d="M454.5 216.2L458.3 212.7L461.8 222.0L458.0 225.7z" fill="#1ca9df"/>
<path d="M447.2 210.2L451.0 206.7L454.5 216.2L450.7 219.8z" fill="#02bac3"/>
<path d="M439.9 204.0L443.6 200.7L447.2 210.2L443.4 213.8z" fill="#31c69f"/>
<path d="M596.9 247.1L600.7 244.8L604.2 246.7L600.4 249.1z" fill="#4741e5"/>
<path d="M589.6 247.6L593.3 245.2L596.9 247.1L593.1 249.5z" fill="#4741e5"/>
<path d="M582.3 248.0L586.0 245.7L589.6 247.6L585.8 249.9z" fill="#4741e5"/>
<path d="M575.0 248.5L578.7 246.2L582.3 248.0L578.5 250.3z" fill="#463cde"/>
<path d="M567.7 249.1L571.4 246.8L575.0 248.5L571.2 250.8z" fill="#463cde"/>
<path d="M560.4 249.8L564.1 247.5L567.7 249.1L563.9 251.4z" fill="#4537d5"/>
<path d="M553.0 250.6L556.8 248.3L560.4 249.8L556.6 252.0z" fill="#4537d5"/>
<path d="M545.7 251.5L549.5 249.3L553.0 250.6L549.3 252.8z" fill="#4332cb"/>
<path d="M538.4 252.2L542.2 250.0L545.7 251.5L542.0 253.7z" fill="#422ec0"/>
<path d="M531.1 252.6L534.9 250.3L538.4 252.2L534.7 254.5z" fill="#422ec0"/>
<path d="M523.8 252.5L527.6 250.1L531.1 252.6L527.4 254.9z" fill="#422ec0"/>
<path d="M516.5 252.0L520.3 249.5L523.8 252.5L520.1 254.9z" fill="#422ec0"/>
<path d="M509.2 251.1L513.0 248.6L516.5 252.0L512.7 254.4z" fill="#4332cb"/>
<path d="M501.9 249.7L505.7 247.1L509.2 251.1L505.4 253.6z" fill="#4332cb"/>
<path d="M494.6 247.7L498.3 244.9L501.9 249.7L498.1 252.4z" fill="#463cde"/>
<path d="M487.3 244.9L491.0 241.8L494.6 247.7L490.8 250.5z" fill="#4741e5"/>
<path d="M480.0 241.1L483.7 237.8L487.3 244.9L483.5 248.0z" fill="#4852f4"/>
<path d="M472.7 236.7L476.4 233.2L480.0 241.1L476.2 244.4z" fill="#4563fd"/>
<path d="M465.4 231.5L469.1 227.8L472.7 236.7L468.9 240.1z" fill="#327cfc"/>
<path d="M458.0 225.7L461.8 222.0L465.4 231.5L461.6 235.3z" fill="#2b91ef"/>
<path d="M450.7 219.8L454.5 216.2L458.0 225.7L454.3 229.5z" fill="#20a5e3"/>
<path d="M443.4 213.8L447.2 210.2L450.7 219.8L447.0 223.5z" fill="#01b8ca"/>
<path d="M593.1 249.5L596.9 247.1L600.4 249.1L596.7 251.4z" fill="#4747eb"/>
<path d="M585.8 249.9L589.6 247.6L593.1 249.5L589.4 251.8z" fill="#4741e5"/>
<path d="M578.5 250.3L582.3 248.0L585.8 249.9L582.1 252.2z" fill="#4741e5"/>
<path d="M571.2 250.8L575.0 248.5L578.5 250.3L574.8 252.6z" fill="#463cde"/>
<path d="M563.9 251.4L567.7 249.1L571.2 250.8L567.4 253.1z" fill="#463cde"/>
<path d="M556.6 252.0L560.4 249.8L563.9 251.4L560.1 253.7z" fill="#4537d5"/>
<path d="M549.3 252.8L553.0 250.6L556.6 252.0L552.8 254.3z" fill="#4537d5"/>
<path d="M542.0 253.7L545.7 251.5L549.3 252.8L545.5 255.1z" fill="#4332cb"/>
<path d="M534.7 254.5L538.4 252.2L542.0 253.7L538.2 256.0z" fill="#422ec0"/>
<path d="M527.4 254.9L531.1 252.6L534.7 254.5L530.9 256.7z" fill="#422ec0"/>
<path d="M520.1 254.9L523.8 252.5L527.4 254.9L523.6 257.2z" fill="#422ec0"/>
<path d="M512.7 254.4L516.5 252.0L520.1 254.9L516.3 257.3z" fill="#422ec0"/>
<path d="M505.4 253.6L509.2 251.1L512.7 254.4L509.0 256.9z" fill="#422ec0"/>
<path d="M498.1 252.4L501.9 249.7L505.4 253.6L501.7 256.1z" fill="#4332cb"/>
<path d="M490.8 250.5L494.6 247.7L498.1 252.4L494.4 255.0z" fill="#4537d5"/>
<path d="M483.5 248.0L487.3 244.9L490.8 250.5L487.1 253.3z" fill="#4741e5"/>
<path d="M476.2 244.4L480.0 241.1L483.5 248.0L479.8 250.9z" fill="#484df0"/>
<path d="M468.9 240.1L472.7 236.7L476.2 244.4L472.4 247.7z" fill="#465efb"/>
<path d="M461.6 235.3L465.4 231.5L468.9 240.1L465.1 243.6z" fill="#3875fe"/>
<path d="M454.3 229.5L458.0 225.7L461.6 235.3L457.8 239.0z" fill="#2d8cf3"/>
<path d="M447.0 223.5L450.7 219.8L454.3 229.5L450.5 233.5z" fill="#23a0e5"/>
<path d="M589.4 251.8L593.1 249.5L596.7 251.4L592.9 253.8z" fill="#4747eb"/>
<path d="M582.1 252.2L585.8 249.9L589.4 251.8L585.6 254.2z" fill="#4741e5"/>
<path d="M574.8 252.6L578.5 250.3L582.1 252.2L578.3 254.6z" fill="#4741e5"/>
<path d="M567.4 253.1L571.2 250.8L574.8 252.6L571.0 255.0z" fill="#463cde"/>
<path d="M560.1 253.7L563.9 251.4L567.4 253.1L563.7 255.4z" fill="#463cde"/>
<path d="M552.8 254.3L556.6 252.0L560.1 253.7L556.4 255.9z" fill="#4537d5"/>
<path d="M545.5 255.1L549.3 252.8L552.8 254.3L549.1 256.6z" fill="#4537d5"/>
<path d="M538.2 256.0L542.0 253.7L545.5 255.1L541.8 257.3z" fill="#4332cb"/>
<path d="M530.9 256.7L534.7 254.5L538.2 256.0L534.5 258.2z" fill="#422ec0"/>
<path d="M523.6 257.2L527.4 254.9L530.9 256.7L527.1 259.0z" fill="#422ec0"/>
<path d="M516.3 257.3L520.1 254.9L523.6 257.2L519.8 259.5z" fill="#422ec0"/>
<path d="M509.0 256.9L512.7 254.4L516.3 257.3L512.5 259.6z" fill="#422ec0"/>
<path d="M501.7 256.1L505.4 253.6L509.0 256.9L505.2 259.3z" fill="#422ec0"/>
<path d="M494.4 255.0L498.1 252.4L501.7 256.1L497.9 258.6z" fill="#4332cb"/>
<path d="M487.1 253.3L490.8 250.5L494.4 255.0L490.6 257.6z" fill="#4537d5"/>
<path d="M479.8 250.9L483.5 248.0L487.1 253.3L483.3 256.0z" fill="#4741e5"/>
<path d="M472.4 247.7L476.2 244.4L479.8 250.9L476.0 253.8z" fill="#484df0"/>
<path d="M465.1 243.6L468.9 240.1L472.4 247.7L468.7 250.9z" fill="#4758f8"/>
<path d="M457.8 239.0L461.6 235.3L465.1 243.6L461.4 247.0z" fill="#3e6fff"/>
<path d="M450.5 233.5L454.3 229.5L457.8 239.0L454.1 242.6z" fill="#2e87f7"/>
<path d="M585.6 254.2L589.4 251.8L592.9 253.8L589.2 256.1z" fill="#4747eb"/>
<path d="M578.3 254.6L582.1 252.2L585.6 254.2L581.8 256.5z" fill="#4741e5"/>
<path d="M571.0 255.0L574.8 252.6L578.3 254.6L574.5 256.9z" fill="#4741e5"/>
<path d="M563.7 255.4L567.4 253.1L571.0 255.0L567.2 257.3z" fill="#463cde"/>
<path d="M556.4 255.9L560.1 253.7L563.7 255.4L559.9 257.7z" fill="#463cde"/>
<path d="M549.1 256.6L552.8 254.3L556.4 255.9L552.6 258.2z" fill="#4537d5"/>
<path d="M541.8 257.3L545.5 255.1L549.1 256.6L545.3 258.8z" fill="#4537d5"/>
<path d="M534.5 258.2L538.2 256.0L541.8 257.3L538.0 259.5z" fill="#4332cb"/>
<path d="M527.1 259.0L530.9 256.7L534.5 258.2L530.7 260.4z" fill="#422ec0"/>
<path d="M519.8 259.5L523.6 257.2L527.1 259.0L523.4 261.2z" fill="#422ec0"/>
<path d="M512.5 259.6L516.3 257.3L519.8 259.5L516.1 261.7z" fill="#422ec0"/>
<path d="M505.2 259.3L509.0 256.9L512.5 259.6L508.8 261.9z" fill="#422ec0"/>
<path d="M497.9 258.6L501.7 256.1L505.2 259.3L501.5 261.7z" fill="#422ec0"/>
<path d="M490.6 257.6L494.4 255.0L497.9 258.6L494.2 261.1z" fill="#4332cb"/>
<path d="M483.3 256.0L487.1 253.3L490.6 257.6L486.8 260.2z" fill="#4537d5"/>
<path d="M476.0 253.8L479.8 250.9L483.3 256.0L479.5 258.7z" fill="#463cde"/>
<path d="M468.7 250.9L472.4 247.7L476.0 253.8L472.2 256.7z" fill="#4747eb"/>
<path d="M461.4 247.0L465.1 243.6L468.7 250.9L464.9 254.0z" fill="#4758f8"/>
<path d="M454.1 242.6L457.8 239.0L461.4 247.0L457.6 250.4z" fill="#4269fe"/>
<path d="M581.8 256.5L585.6 254.2L589.2 256.1L585.4 258.5z" fill="#4747eb"/>
<path d="M574.5 256.9L578.3 254.6L581.8 256.5L578.1 258.8z" fill="#4741e5"/>
<path d="M567.2 257.3L571.0 255.0L574.5 256.9L570.8 259.2z" fill="#4741e5"/>
<path d="M559.9 257.7L563.7 255.4L567.2 257.3L563.5 259.6z" fill="#463cde"/>
<path d="M552.6 258.2L556.4 255.9L559.9 257.7L556.2 260.0z" fill="#463cde"/>
<path d="M545.3 258.8L549.1 256.6L552.6 258.2L548.9 260.5z" fill="#4537d5"/>
<path d="M538.0 259.5L541.8 257.3L545.3 258.8L541.5 261.1z" fill="#4537d5"/>
<path d="M530.7 260.4L534.5 258.2L538.0 259.5L534.2 261.8z" fill="#4332cb"/>
<path d="M523.4 261.2L527.1 259.0L530.7 260.4L526.9 262.6z" fill="#4332cb"/>
<path d="M516.1 261.7L519.8 259.5L523.4 261.2L519.6 263.4z" fill="#422ec0"/>
<path d="M508.8 261.9L512.5 259.6L516.1 261.7L512.3 263.9z" fill="#422ec0"/>
<path d="M501.5 261.7L505.2 259.3L508.8 261.9L505.0 264.2z" fill="#422ec0"/>
<path d="M494.2 261.1L497.9 258.6L501.5 261.7L497.7 264.1z" fill="#422ec0"/>
<path d="M486.8 260.2L490.6 257.6L494.2 261.1L490.4 263.5z" fill="#4332cb"/>
<path d="M479.5 258.7L483.3 256.0L486.8 260.2L483.1 262.7z" fill="#4537d5"/>
<path d="M472.2 256.7L476.0 253.8L479.5 258.7L475.8 261.4z" fill="#463cde"/>
<path d="M464.9 254.0L468.7 250.9L472.2 256.7L468.5 259.5z" fill="#4747eb"/>
<path d="M457.6 250.4L461.4 247.0L464.9 254.0L461.2 257.0z" fill="#4852f4"/>
<path d="M578.1 258.8L581.8 256.5L585.4 258.5L581.6 260.8z" fill="#4747eb"/>
<path d="M570.8 259.2L574.5 256.9L578.1 258.8L574.3 261.2z" fill="#4741e5"/>
<path d="M563.5 259.6L567.2 257.3L570.8 259.2L567.0 261.6z" fill="#4741e5"/>
<path d="M556.2 260.0L559.9 257.7L563.5 259.6L559.7 261.9z" fill="#463cde"/>
<path d="M548.9 260.5L552.6 258.2L556.2 260.0L552.4 262.4z" fill="#463cde"/>
<path d="M541.5 261.1L545.3 258.8L548.9 260.5L545.1 262.8z" fill="#463cde"/>
<path d="M534.2 261.8L538.0 259.5L541.5 261.1L537.8 263.4z" fill="#4537d5"/>
<path d="M526.9 262.6L530.7 260.4L534.2 261.8L530.5 264.0z" fill="#4332cb"/>
<path d="M519.6 263.4L523.4 261.2L526.9 262.6L523.2 264.8z" fill="#4332cb"/>
<path d="M512.3 263.9L516.1 261.7L519.6 263.4L515.9 265.6z" fill="#422ec0"/>
<path d="M505.0 264.2L508.8 261.9L512.3 263.9L508.6 266.2z" fill="#422ec0"/>
<path d="M497.7 264.1L501.5 261.7L505.0 264.2L501.2 266.5z" fill="#422ec0"/>
<path d="M490.4 263.5L494.2 261.1L497.7 264.1L493.9 266.5z" fill="#422ec0"/>
<path d="M483.1 262.7L486.8 260.2L490.4 263.5L486.6 266.0z" fill="#4332cb"/>
<path d="M475.8 261.4L479.5 258.7L483.1 262.7L479.3 265.2z" fill="#4332cb"/>
<path d="M468.5 259.5L472.2 256.7L475.8 261.4L472.0 264.1z" fill="#463cde"/>
<path d="M461.2 257.0L464.9 254.0L468.5 259.5L464.7 262.3z" fill="#4741e5"/>
<path d="M574.3 261.2L578.1 258.8L581.6 260.8L577.9 263.2z" fill="#4747eb"/>
<path d="M567.0 261.6L570.8 259.2L574.3 261.2L570.6 263.5z" fill="#4741e5"/>
<path d="M559.7 261.9L563.5 259.6L567.0 261.6L563.3 263.9z" fill="#4741e5"/>
<path d="M552.4 262.4L556.2 260.0L559.7 261.9L555.9 264.3z" fill="#4741e5"/>
<path d="M545.1 262.8L548.9 260.5L552.4 262.4L548.6 264.7z" fill="#463cde"/>
<path d="M537.8 263.4L541.5 261.1L545.1 262.8L541.3 265.1z" fill="#463cde"/>
<path d="M530.5 264.0L534.2 261.8L537.8 263.4L534.0 265.6z" fill="#4537d5"/>
<path d="M523.2 264.8L526.9 262.6L530.5 264.0L526.7 266.2z" fill="#4332cb"/>
<path d="M515.9 265.6L519.6 263.4L523.2 264.8L519.4 266.9z" fill="#4332cb"/>
<path d="M508.6 266.2L512.3 263.9L515.9 265.6L512.1 267.8z" fill="#422ec0"/>
<path d="M501.2 266.5L505.0 264.2L508.6 266.2L504.8 268.4z" fill="#422ec0"/>
<path d="M493.9 266.5L497.7 264.1L501.2 266.5L497.5 268.8z" fill="#422ec0"/>
<path d="M486.6 266.0L490.4 263.5L493.9 266.5L490.2 268.8z" fill="#422ec0"/>
<path d="M479.3 265.2L483.1 262.7L486.6 266.0L482.9 268.5z" fill="#4332cb"/>
<path d="M472.0 264.1L475.8 261.4L479.3 265.2L475.6 267.7z" fill="#4332cb"/>
<path d="M464.7 262.3L468.5 259.5L472.0 264.1L468.3 266.6z" fill="#4537d5"/>
<path d="M570.6 263.5L574.3 261.2L577.9 263.2L574.1 265.5z" fill="#4747eb"/>
<path d="M563.3 263.9L567.0 261.6L570.6 263.5L566.8 265.9z" fill="#4741e5"/>
<path d="M555.9 264.3L559.7 261.9L563.3 263.9L559.5 266.2z" fill="#4741e5"/>
<path d="M548.6 264.7L552.4 262.4L555.9 264.3L552.2 266.6z" fill="#4741e5"/>
<path d="M541.3 265.1L545.1 262.8L548.6 264.7L544.9 267.0z" fill="#463cde"/>
<path d="M534.0 265.6L537.8 263.4L541.3 265.1L537.6 267.4z" fill="#463cde"/>
<path d="M526.7 266.2L530.5 264.0L534.0 265.6L530.3 267.9z" fill="#4537d5"/>
<path d="M519.4 266.9L523.2 264.8L526.7 266.2L523.0 268.5z" fill="#4537d5"/>
<path d="M512.1 267.8L515.9 265.6L519.4 266.9L515.6 269.1z" fill="#4332cb"/>
<path d="M504.8 268.4L508.6 266.2L512.1 267.8L508.3 270.0z" fill="#422ec0"/>
<path d="M497.5 268.8L501.2 266.5L504.8 268.4L501.0 270.6z" fill="#422ec0"/>
<path d="M490.2 268.8L493.9 266.5L497.5 268.8L493.7 271.0z" fill="#422ec0"/>
<path d="M482.9 268.5L486.6 266.0L490.2 268.8L486.4 271.1z" fill="#422ec0"/>
<path d="M475.6 267.7L479.3 265.2L482.9 268.5L479.1 270.9z" fill="#422ec0"/>
<path d="M468.3 266.6L472.0 264.1L475.6 267.7L471.8 270.1z" fill="#4332cb"/>
<path d="M566.8 265.9L570.6 263.5L574.1 265.5L570.3 267.9z" fill="#4747eb"/>
<path d="M559.5 266.2L563.3 263.9L566.8 265.9L563.0 268.2z" fill="#4741e5"/>
<path d="M552.2 266.6L555.9 264.3L559.5 266.2L555.7 268.5z" fill="#4741e5"/>
<path d="M544.9 267.0L548.6 264.7L552.2 266.6L548.4 268.9z" fill="#4741e5"/>
<path d="M537.6 267.4L541.3 265.1L544.9 267.0L541.1 269.3z" fill="#463cde"/>
<path d="M530.3 267.9L534.0 265.6L537.6 267.4L533.8 269.7z" fill="#463cde"/>
<path d="M523.0 268.5L526.7 266.2L530.3 267.9L526.5 270.1z" fill="#4537d5"/>
<path d="M515.6 269.1L519.4 266.9L523.0 268.5L519.2 270.7z" fill="#4537d5"/>
<path d="M508.3 270.0L512.1 267.8L515.6 269.1L511.9 271.3z" fill="#4332cb"/>
<path d="M501.0 270.6L504.8 268.4L508.3 270.0L504.6 272.1z" fill="#4332cb"/>
<path d="M493.7 271.0L497.5 268.8L501.0 270.6L497.3 272.8z" fill="#422ec0"/>
<path d="M486.4 271.1L490.2 268.8L493.7 271.0L490.0 273.2z" fill="#422ec0"/>
<path d="M479.1 270.9L482.9 268.5L486.4 271.1L482.7 273.4z" fill="#422ec0"/>
<path d="M471.8 270.1L475.6 267.7L479.1 270.9L475.3 273.2z" fill="#422ec0"/>
<path d="M563.0 268.2L566.8 265.9L570.3 267.9L566.6 270.2z" fill="#4747eb"/>
<path d="M555.7 268.5L559.5 266.2L563.0 268.2L559.3 270.5z" fill="#4741e5"/>
<path d="M548.4 268.9L552.2 266.6L555.7 268.5L552.0 270.9z" fill="#4741e5"/>
<path d="M541.1 269.3L544.9 267.0L548.4 268.9L544.7 271.2z" fill="#4741e5"/>
<path d="M533.8 269.7L537.6 267.4L541.1 269.3L537.4 271.6z" fill="#463cde"/>
<path d="M526.5 270.1L530.3 267.9L533.8 269.7L530.0 272.0z" fill="#463cde"/>
<path d="M519.2 270.7L523.0 268.5L526.5 270.1L522.7 272.4z" fill="#4537d5"/>
<path d="M511.9 271.3L515.6 269.1L519.2 270.7L515.4 272.9z" fill="#4537d5"/>
<path d="M504.6 272.1L508.3 270.0L511.9 271.3L508.1 273.5z" fill="#4332cb"/>
<path d="M497.3 272.8L501.0 270.6L504.6 272.1L500.8 274.3z" fill="#4332cb"/>
<path d="M490.0 273.2L493.7 271.0L497.3 272.8L493.5 275.0z" fill="#422ec0"/>
<path d="M482.7 273.4L486.4 271.1L490.0 273.2L486.2 275.4z" fill="#422ec0"/>
<path d="M475.3 273.2L479.1 270.9L482.7 273.4L478.9 275.6z" fill="#422ec0"/>
<path d="M559.3 270.5L563.0 268.2L566.6 270.2L562.8 272.5z" fill="#4747eb"/>
<path d="M552.0 270.9L555.7 268.5L559.3 270.5L555.5 272.9z" fill="#4741e5"/>
<path d="M544.7 271.2L548.4 268.9L552.0 270.9L548.2 273.2z" fill="#4741e5"/>
<path d="M537.4 271.6L541.1 269.3L544.7 271.2L540.9 273.5z" fill="#4741e5"/>
<path d="M530.0 272.0L533.8 269.7L537.4 271.6L533.6 273.9z" fill="#463cde"/>
<path d="M522.7 272.4L526.5 270.1L530.0 272.0L526.3 274.2z" fill="#463cde"/>
<path d="M515.4 272.9L519.2 270.7L522.7 272.4L519.0 274.7z" fill="#4537d5"/>
<path d="M508.1 273.5L511.9 271.3L515.4 272.9L511.7 275.2z" fill="#4537d5"/>
<path d="M500.8 274.3L504.6 272.1L508.1 273.5L504.4 275.7z" fill="#4332cb"/>
<path d="M493.5 275.0L497.3 272.8L500.8 274.3L497.1 276.4z" fill="#4332cb"/>
<path d="M486.2 275.4L490.0 273.2L493.5 275.0L489.7 277.2z" fill="#422ec0"/>
<path d="M478.9 275.6L482.7 273.4L486.2 275.4L482.4 277.5z" fill="#422ec0"/>
<path d="M555.5 272.9L559.3 270.5L562.8 272.5L559.1 274.9z" fill="#4747eb"/>
<path d="M548.2 273.2L552.0 270.9L555.5 272.9L551.8 275.2z" fill="#4741e5"/>
<path d="M540.9 273.5L544.7 271.2L548.2 273.2L544.4 275.5z" fill="#4741e5"/>
<path d="M533.6 273.9L537.4 271.6L540.9 273.5L537.1 275.8z" fill="#4741e5"/>
<path d="M526.3 274.2L530.0 272.0L533.6 273.9L529.8 276.2z" fill="#463cde"/>
<path d="M519.0 274.7L522.7 272.4L526.3 274.2L522.5 276.5z" fill="#463cde"/>
<path d="M511.7 275.2L515.4 272.9L519.0 274.7L515.2 276.9z" fill="#463cde"/>
<path d="M504.4 275.7L508.1 273.5L511.7 275.2L507.9 277.4z" fill="#4537d5"/>
<path d="M497.1 276.4L500.8 274.3L504.4 275.7L500.6 277.9z" fill="#4332cb"/>
<path d="M489.7 277.2L493.5 275.0L497.1 276.4L493.3 278.6z" fill="#4332cb"/>
<path d="M482.4 277.5L486.2 275.4L489.7 277.2L486.0 279.3z" fill="#4332cb"/>
<path d="M551.8 275.2L555.5 272.9L559.1 274.9L555.3 277.2z" fill="#4747eb"/>
<path d="M544.4 275.5L548.2 273.2L551.8 275.2L548.0 277.5z" fill="#4741e5"/>
<path d="M537.1 275.8L540.9 273.5L544.4 275.5L540.7 277.8z" fill="#4741e5"/>
<path d="M529.8 276.2L533.6 273.9L537.1 275.8L533.4 278.1z" fill="#4741e5"/>
<path d="M522.5 276.5L526.3 274.2L529.8 276.2L526.1 278.5z" fill="#463cde"/>
<path d="M515.2 276.9L519.0 274.7L522.5 276.5L518.8 278.8z" fill="#463cde"/>
<path d="M507.9 277.4L511.7 275.2L515.2 276.9L511.5 279.2z" fill="#463cde"/>
<path d="M500.6 277.9L504.4 275.7L507.9 277.4L504.1 279.6z" fill="#4537d5"/>
<path d="M493.3 278.6L497.1 276.4L500.6 277.9L496.8 280.1z" fill="#4537d5"/>
<path d="M486.0 279.3L489.7 277.2L493.3 278.6L489.5 280.7z" fill="#4332cb"/>
<path d="M548.0 277.5L551.8 275.2L555.3 277.2L551.5 279.5z" fill="#4747eb"/>
<path d="M540.7 277.8L544.4 275.5L548.0 277.5L544.2 279.8z" fill="#4747eb"/>
<path d="M533.4 278.1L537.1 275.8L540.7 277.8L536.9 280.1z" fill="#4741e5"/>
<path d="M526.1 278.5L529.8 276.2L533.4 278.1L529.6 280.4z" fill="#4741e5"/>
<path d="M518.8 278.8L522.5 276.5L526.1 278.5L522.3 280.7z" fill="#4741e5"/>
<path d="M511.5 279.2L515.2 276.9L518.8 278.8L515.0 281.1z" fill="#463cde"/>
<path d="M504.1 279.6L507.9 277.4L511.5 279.2L507.7 281.4z" fill="#463cde"/>
<path d="M496.8 280.1L500.6 277.9L504.1 279.6L500.4 281.8z" fill="#4537d5"/>
<path d="M489.5 280.7L493.3 278.6L496.8 280.1L493.1 282.3z" fill="#4537d5"/>
<path d="M544.2 279.8L548.0 277.5L551.5 279.5L547.8 281.9z" fill="#4747eb"/>
<path d="M536.9 280.1L540.7 277.8L544.2 279.8L540.5 282.2z" fill="#4747eb"/>
<path d="M529.6 280.4L533.4 278.1L536.9 280.1L533.2 282.4z" fill="#4741e5"/>
<path d="M522.3 280.7L526.1 278.5L529.6 280.4L525.9 282.7z" fill="#4741e5"/>
<path d="M515.0 281.1L518.8 278.8L522.3 280.7L518.5 283.0z" fill="#4741e5"/>
<path d="M507.7 281.4L511.5 279.2L515.0 281.1L511.2 283.3z" fill="#463cde"/>
<path d="M500.4 281.8L504.1 279.6L507.7 281.4L503.9 283.6z" fill="#463cde"/>
<path d="M493.1 282.3L496.8 280.1L500.4 281.8L496.6 284.0z" fill="#4537d5"/>
<path d="M540.5 282.2L544.2 279.8L547.8 281.9L544.0 284.2z" fill="#4747eb"/>
<path d="M533.2 282.4L536.9 280.1L540.5 282.2L536.7 284.5z" fill="#4747eb"/>
<path d="M525.9 282.7L529.6 280.4L533.2 282.4L529.4 284.7z" fill="#4741e5"/>
<path d="M518.5 283.0L522.3 280.7L525.9 282.7L522.1 285.0z" fill="#4741e5"/>
<path d="M511.2 283.3L515.0 281.1L518.5 283.0L514.8 285.3z" fill="#4741e5"/>
<path d="M503.9 283.6L507.7 281.4L511.2 283.3L507.5 285.6z" fill="#463cde"/>
<path d="M496.6 284.0L500.4 281.8L503.9 283.6L500.2 285.9z" fill="#463cde"/>
<path d="M536.7 284.5L540.5 282.2L544.0 284.2L540.3 286.5z" fill="#4747eb"/>
<path d="M529.4 284.7L533.2 282.4L536.7 284.5L532.9 286.8z" fill="#4747eb"/>
<path d="M522.1 285.0L525.9 282.7L529.4 284.7L525.6 287.0z" fill="#4741e5"/>
<path d="M514.8 285.3L518.5 283.0L522.1 285.0L518.3 287.3z" fill="#4741e5"/>
<path d="M507.5 285.6L511.2 283.3L514.8 285.3L511.0 287.6z" fill="#4741e5"/>
<path d="M500.2 285.9L503.9 283.6L507.5 285.6L503.7 287.9z" fill="#463cde"/>
<path d="M532.9 286.8L536.7 284.5L540.3 286.5L536.5 288.8z" fill="#4747eb"/>
<path d="M525.6 287.0L529.4 284.7L532.9 286.8L529.2 289.1z" fill="#4747eb"/>
<path d="M518.3 287.3L522.1 285.0L525.6 287.0L521.9 289.3z" fill="#4741e5"/>
<path d="M511.0 287.6L514.8 285.3L518.3 287.3L514.6 289.6z" fill="#4741e5"/>
<path d="M503.7 287.9L507.5 285.6L511.0 287.6L507.3 289.9z" fill="#4741e5"/>
<path d="M529.2 289.1L532.9 286.8L536.5 288.8L532.7 291.1z" fill="#4747eb"/>
<path d="M521.9 289.3L525.6 287.0L529.2 289.1L525.4 291.4z" fill="#4747eb"/>
<path d="M514.6 289.6L518.3 287.3L521.9 289.3L518.1 291.6z" fill="#4741e5"/>
<path d="M507.3 289.9L511.0 287.6L514.6 289.6L510.8 291.9z" fill="#4741e5"/>
<path d="M525.4 291.4L529.2 289.1L532.7 291.1L529.0 293.4z" fill="#4747eb"/>
<path d="M518.1 291.6L521.9 289.3L525.4 291.4L521.7 293.6z" fill="#4747eb"/>
<path d="M510.8 291.9L514.6 289.6L518.1 291.6L514.4 293.9z" fill="#4747eb"/>
<path d="M521.7 293.6L525.4 291.4L529.0 293.4L525.2 295.7z" fill="#4747eb"/>
<path d="M514.4 293.9L518.1 291.6L521.7 293.6L517.9 295.9z" fill="#4747eb"/>
<path d="M517.9 295.9L521.7 293.6L525.2 295.7L521.5 298.0z" fill="#4747eb"/>
</g>
<path d="M379.6 224.2L379.6 117.6 M379.6 224.2L521.5 325.3 M521.5 325.3L671.9 230.3 M379.6 224.2L375.8 226.6 M521.5 325.3L525.1 327.9 M408.0 244.4L404.2 246.8 M551.5 306.3L555.2 308.9 M436.3 264.6L432.5 267.0 M581.6 287.3L585.3 289.9 M464.7 284.9L460.9 287.3 M611.7 268.3L615.4 270.9 M493.1 305.1L489.3 307.5 M641.8 249.3L645.5 251.9 M521.5 325.3L517.6 327.7 M671.9 230.3L675.6 232.9 M379.6 224.2L375.9 221.6 M379.6 197.5L375.9 194.9 M379.6 170.9L375.9 168.3 M379.6 144.2L375.9 141.6 M379.6 117.6L375.9 115.0" fill="none" stroke="#262626" stroke-width="1"/>
<g font-family="'Liberation Sans', Arial, sans-serif" font-size="10.7" fill="#262626" stroke="#262626" stroke-width="0.2" text-anchor="middle">
<text x="369.6" y="240.2">0</text>
<text x="531.0" y="341.1">0</text>
<text x="398.0" y="260.4">1</text>
<text x="561.0" y="322.1">1</text>
<text x="426.3" y="280.6">2</text>
<text x="591.1" y="303.1">2</text>
<text x="454.7" y="300.9">3</text>
<text x="621.2" y="284.1">3</text>
<text x="483.1" y="321.1">4</text>
<text x="651.3" y="265.1">4</text>
<text x="511.5" y="341.3">5</text>
<text x="681.4" y="246.1">5</text>
<text text-anchor="end" x="373.2" y="224.7">-2</text>
<text text-anchor="end" x="373.2" y="198.0">0</text>
<text text-anchor="end" x="373.2" y="171.4">2</text>
<text text-anchor="end" x="373.2" y="144.8">4</text>
<text text-anchor="end" x="373.2" y="118.1">6</text>
</g>

<g font-family="'DejaVu Serif', 'Liberation Serif', serif" fill="#000" font-style="italic">
<text font-size="15.6"><tspan x="139.3" y="14" textLength="20.8" lengthAdjust="spacingAndGlyphs">Re</tspan><tspan x="159.7" y="14.6" font-size="19" font-style="normal">(</tspan><tspan x="166.5" y="14">σ</tspan><tspan x="176.1" y="17.4" font-size="11.8">χ̄</tspan><tspan x="184.3" y="14.6" font-size="19" font-style="normal">)</tspan></text>
<text font-size="15.6"><tspan x="498.2" y="14" textLength="25.0" lengthAdjust="spacingAndGlyphs">Im</tspan><tspan x="521.7" y="14.6" font-size="19" font-style="normal">(</tspan><tspan x="528.5" y="14">σ</tspan><tspan x="538.1" y="17.4" font-size="11.8">χ̄</tspan><tspan x="546.3" y="14.6" font-size="19" font-style="normal">)</tspan></text>
<text x="89.5" y="332.7" font-size="15.6">ω</text>
<text x="450.5" y="332.7" font-size="15.6">ω</text>
<text x="220.6" y="333.7" font-size="15">q<tspan font-style="normal" font-size="11" dx="-1" dy="-5.8">2</tspan></text>
<text x="581.6" y="333.7" font-size="15">q<tspan font-style="normal" font-size="11" dx="-1" dy="-5.8">2</tspan></text>
</g>
</svg></body></html>
